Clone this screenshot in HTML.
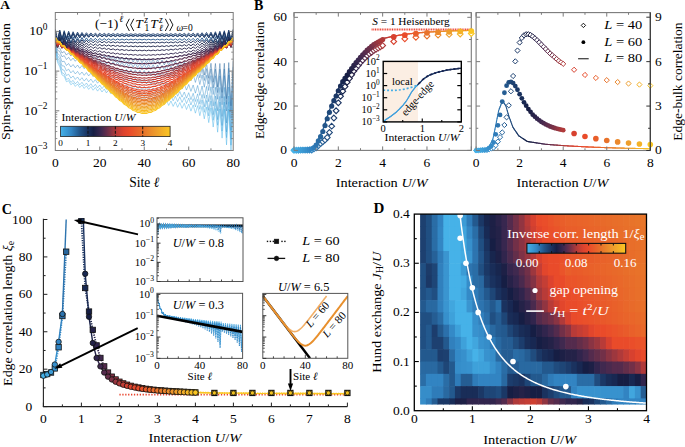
<!DOCTYPE html>
<html><head><meta charset="utf-8"><style>
html,body{margin:0;padding:0;background:#fff;width:685px;height:447px;overflow:hidden}
svg{display:block}
</style></head><body>
<svg width="685" height="447" viewBox="0 0 685 447">
<rect width="685" height="447" fill="#fff"/>
<clipPath id="clipA"><rect x="55.3" y="12.5" width="177.89999999999998" height="138.0"/></clipPath>
<clipPath id="clipD"><rect x="414.3" y="214.1" width="232.2" height="196.6"/></clipPath>
<clipPath id="clipB"><rect x="294" y="12.6" width="177.3" height="137.8"/></clipPath>
<clipPath id="clipBR"><rect x="476.1" y="12.6" width="174.2" height="137.9"/></clipPath>
<g clip-path="url(#clipA)">
<polyline points="55.3,51.42 57.52,62.46 59.75,66.68 61.97,74.95 64.19,76.13 66.42,81.7 68.64,80.7 70.87,84.82 73.09,82.83 75.31,86.43 77.54,84.06 79.76,87.52 81.98,85 84.21,88.47 86.43,85.85 88.66,89.36 90.88,86.67 93.1,90.25 95.33,87.48 97.55,91.13 99.77,88.28 102,92.01 104.22,89.09 106.45,92.9 108.67,89.89 110.89,93.78 113.12,90.69 115.34,94.67 117.56,91.49 119.79,95.56 122.01,92.28 124.24,96.45 126.46,93.08 128.68,97.35 130.91,93.88 133.13,98.25 135.35,94.67 137.58,99.14 139.8,95.46 142.03,100.04 144.25,96.25 146.47,100.95 148.7,97.04 150.92,101.85 153.14,97.83 155.37,102.76 157.59,98.62 159.82,103.66 162.04,99.41 164.26,104.57 166.49,100.19 168.71,105.48 170.94,100.98 173.16,106.4 175.38,101.76 177.61,107.31 179.83,102.54 182.05,108.29 184.28,103.33 186.5,109.53 188.72,104.1 190.95,111.13 193.17,104.88 195.4,113.17 197.62,105.65 199.84,115.72 202.07,106.41 204.29,118.85 206.51,107.15 208.74,122.61 210.96,107.85 213.19,127.04 215.41,108.49 217.63,132.2 219.86,108.99 222.08,138.13 224.3,109.24 226.53,144.88 228.75,109.03 230.98,152.47 233.2,108.04" fill="none" stroke="#46b2e8" stroke-width="0.55" stroke-linejoin="bevel" opacity="0.85"/>
<polyline points="55.3,49.19 57.52,60.26 59.75,64.49 61.97,72.75 64.19,73.91 66.42,79.44 68.64,78.38 70.87,82.43 73.09,80.37 75.31,83.9 77.54,81.46 79.76,84.86 81.98,82.26 84.21,85.66 86.43,82.97 88.66,86.42 90.88,83.65 93.1,87.16 95.33,84.33 97.55,87.91 99.77,84.99 102,88.65 104.22,85.66 106.45,89.4 108.67,86.32 110.89,90.15 113.12,86.99 115.34,90.9 117.56,87.65 119.79,91.65 122.01,88.31 124.24,92.41 126.46,88.96 128.68,93.16 130.91,89.62 133.13,93.92 135.35,90.28 137.58,94.68 139.8,90.93 142.03,95.45 144.25,91.58 146.47,96.21 148.7,92.24 150.92,96.98 153.14,92.89 155.37,97.74 157.59,93.54 159.82,98.51 162.04,94.19 164.26,99.28 166.49,94.83 168.71,100.06 170.94,95.48 173.16,100.83 175.38,96.13 177.61,101.61 179.83,96.77 182.05,102.45 184.28,97.42 186.5,103.55 188.72,98.06 190.95,105.01 193.17,98.7 195.4,106.91 197.62,99.33 199.84,109.33 202.07,99.95 204.29,112.32 206.51,100.55 208.74,115.94 210.96,101.12 213.19,120.24 215.41,101.61 217.63,125.26 219.86,101.98 222.08,131.05 224.3,102.09 226.53,137.66 228.75,101.74 230.98,145.11 233.2,100.62" fill="none" stroke="#41a6de" stroke-width="0.55" stroke-linejoin="bevel" opacity="0.85"/>
<polyline points="55.3,47.22 57.52,57.94 59.75,61.74 61.97,69.54 64.19,70.3 66.42,75.5 68.64,74.22 70.87,78.13 73.09,75.98 75.31,79.45 77.54,76.97 79.76,80.33 81.98,77.71 84.21,81.09 86.43,78.38 88.66,81.81 90.88,79.03 93.1,82.52 95.33,79.66 97.55,83.23 99.77,80.3 102,83.94 104.22,80.93 106.45,84.65 108.67,81.56 110.89,85.37 113.12,82.19 115.34,86.08 117.56,82.81 119.79,86.8 122.01,83.44 124.24,87.52 126.46,84.06 128.68,88.24 130.91,84.68 133.13,88.97 135.35,85.3 137.58,89.69 139.8,85.92 142.03,90.42 144.25,86.54 146.47,91.15 148.7,87.16 150.92,91.88 153.14,87.78 155.37,92.61 157.59,88.39 159.82,93.35 162.04,89.01 164.26,94.09 166.49,89.62 168.71,94.82 170.94,90.23 173.16,95.56 175.38,90.84 177.61,96.31 179.83,91.46 182.05,97.12 184.28,92.06 186.5,98.18 188.72,92.67 190.95,99.61 193.17,93.27 195.4,101.48 197.62,93.87 199.84,103.86 202.07,94.46 204.29,106.81 206.51,95.03 208.74,110.4 210.96,95.56 213.19,114.66 215.41,96.02 217.63,119.65 219.86,96.35 222.08,125.41 224.3,96.43 226.53,131.98 228.75,96.05 230.98,139.4 233.2,94.88" fill="none" stroke="#3c9bd5" stroke-width="0.55" stroke-linejoin="bevel" opacity="0.85"/>
<polyline points="55.3,45.45 57.52,55.61 59.75,58.73 61.97,65.85 64.19,66.01 66.42,70.77 68.64,69.18 70.87,72.88 73.09,70.59 75.31,73.95 77.54,71.39 79.76,74.69 81.98,72.01 84.21,75.33 86.43,72.57 88.66,75.94 90.88,73.11 93.1,76.55 95.33,73.64 97.55,77.16 99.77,74.17 102,77.76 104.22,74.7 106.45,78.37 108.67,75.23 110.89,78.98 113.12,75.75 115.34,79.6 117.56,76.28 119.79,80.21 122.01,76.8 124.24,80.83 126.46,77.32 128.68,81.45 130.91,77.84 133.13,82.07 135.35,78.36 137.58,82.69 139.8,78.87 142.03,83.32 144.25,79.39 146.47,83.95 148.7,79.9 150.92,84.57 153.14,80.42 155.37,85.2 157.59,80.93 159.82,85.84 162.04,81.44 164.26,86.47 166.49,81.95 168.71,87.11 170.94,82.46 173.16,87.74 175.38,82.97 177.61,88.38 179.83,83.48 182.05,89.09 184.28,83.98 186.5,90.05 188.72,84.49 190.95,91.37 193.17,84.99 195.4,93.14 197.62,85.48 199.84,95.42 202.07,85.97 204.29,98.27 206.51,86.43 208.74,101.75 210.96,86.86 213.19,105.91 215.41,87.22 217.63,110.8 219.86,87.45 222.08,116.45 224.3,87.42 226.53,122.92 228.75,86.94 230.98,130.24 233.2,85.67" fill="none" stroke="#3790cc" stroke-width="0.55" stroke-linejoin="bevel" opacity="0.85"/>
<polyline points="55.3,43.84 57.52,53.2 59.75,55.43 61.97,61.71 64.19,61.19 66.42,65.46 68.64,63.53 70.87,66.99 73.09,64.53 75.31,67.76 77.54,65.09 79.76,68.29 81.98,65.51 84.21,68.75 86.43,65.9 88.66,69.19 90.88,66.27 93.1,69.63 95.33,66.64 97.55,70.07 99.77,67.01 102,70.51 104.22,67.37 106.45,70.96 108.67,67.73 110.89,71.4 113.12,68.09 115.34,71.85 117.56,68.45 119.79,72.3 122.01,68.81 124.24,72.76 126.46,69.16 128.68,73.21 130.91,69.52 133.13,73.67 135.35,69.87 137.58,74.12 139.8,70.22 142.03,74.58 144.25,70.57 146.47,75.04 148.7,70.92 150.92,75.51 153.14,71.27 155.37,75.97 157.59,71.62 159.82,76.44 162.04,71.96 164.26,76.91 166.49,72.31 168.71,77.38 170.94,72.65 173.16,77.85 175.38,73 177.61,78.32 179.83,73.34 182.05,78.87 184.28,73.68 186.5,79.66 188.72,74.02 190.95,80.82 193.17,74.35 195.4,82.42 197.62,74.68 199.84,84.54 202.07,75 204.29,87.22 206.51,75.3 208.74,90.54 210.96,75.57 213.19,94.53 215.41,75.76 217.63,99.25 219.86,75.82 222.08,104.75 224.3,75.63 226.53,111.05 228.75,74.98 230.98,118.2 233.2,73.55" fill="none" stroke="#3284c2" stroke-width="0.55" stroke-linejoin="bevel" opacity="0.85"/>
<polyline points="55.3,42.02 57.52,50.25 59.75,51.38 61.97,56.76 64.19,55.61 66.42,59.47 68.64,57.3 70.87,60.62 73.09,58.08 75.31,61.27 77.54,58.57 79.76,61.76 81.98,58.98 84.21,62.2 86.43,59.35 88.66,62.64 90.88,59.72 93.1,63.08 95.33,60.08 97.55,63.51 99.77,60.44 102,63.95 104.22,60.8 106.45,64.39 108.67,61.16 110.89,64.83 113.12,61.52 115.34,65.28 117.56,61.87 119.79,65.72 122.01,62.22 124.24,66.17 126.46,62.58 128.68,66.62 130.91,62.93 133.13,67.07 135.35,63.28 137.58,67.53 139.8,63.62 142.03,67.98 144.25,63.97 146.47,68.44 148.7,64.32 150.92,68.9 153.14,64.66 155.37,69.36 157.59,65.01 159.82,69.83 162.04,65.35 164.26,70.29 166.49,65.69 168.71,70.76 170.94,66.03 173.16,71.23 175.38,66.37 177.61,71.7 179.83,66.71 182.05,72.24 184.28,67.05 186.5,73.03 188.72,67.38 190.95,74.18 193.17,67.71 195.4,75.78 197.62,68.04 199.84,77.89 202.07,68.35 204.29,80.57 206.51,68.65 208.74,83.88 210.96,68.91 213.19,87.88 215.41,69.1 217.63,92.59 219.86,69.16 222.08,98.08 224.3,68.96 226.53,104.38 228.75,68.31 230.98,111.52 233.2,66.88" fill="none" stroke="#2d74af" stroke-width="0.55" stroke-linejoin="bevel" opacity="0.85"/>
<polyline points="55.3,40.38 57.52,47.77 59.75,48.16 61.97,52.99 64.19,51.47 66.42,55.1 68.64,52.79 70.87,56.02 73.09,53.43 75.31,56.57 77.54,53.85 79.76,57.02 81.98,54.22 84.21,57.43 86.43,54.56 88.66,57.84 90.88,54.9 93.1,58.24 95.33,55.23 97.55,58.65 99.77,55.57 102,59.06 104.22,55.9 106.45,59.47 108.67,56.22 110.89,59.88 113.12,56.55 115.34,60.3 117.56,56.88 119.79,60.71 122.01,57.2 124.24,61.13 126.46,57.52 128.68,61.55 130.91,57.84 133.13,61.98 135.35,58.16 137.58,62.4 139.8,58.48 142.03,62.83 144.25,58.8 146.47,63.26 148.7,59.12 150.92,63.69 153.14,59.43 155.37,64.12 157.59,59.75 159.82,64.55 162.04,60.06 164.26,64.99 166.49,60.37 168.71,65.42 170.94,60.68 173.16,65.86 175.38,60.99 177.61,66.3 179.83,61.3 182.05,66.81 184.28,61.61 186.5,67.58 188.72,61.92 190.95,68.7 193.17,62.22 195.4,70.27 197.62,62.51 199.84,72.35 202.07,62.8 204.29,75 206.51,63.07 208.74,78.29 210.96,63.3 213.19,82.25 215.41,63.46 217.63,86.94 219.86,63.48 222.08,92.39 224.3,63.26 226.53,98.66 228.75,62.58 230.98,105.78 233.2,61.12" fill="none" stroke="#27659c" stroke-width="0.55" stroke-linejoin="bevel" opacity="0.85"/>
<polyline points="55.3,33.87 57.52,46.14 59.75,34.78 61.97,44.69 64.19,35.55 66.42,43.6 68.64,36.2 70.87,42.79 73.09,36.74 75.31,42.16 77.54,37.19 79.76,41.68 81.98,37.57 84.21,41.3 86.43,37.88 88.66,41.01 90.88,38.14 93.1,40.77 95.33,38.35 97.55,40.59 99.77,38.53 102,40.45 104.22,38.67 106.45,40.34 108.67,38.79 110.89,40.25 113.12,38.89 115.34,40.17 117.56,38.97 119.79,40.12 122.01,39.04 124.24,40.07 126.46,39.1 128.68,40.03 130.91,39.14 133.13,40 135.35,39.17 137.58,39.98 139.8,39.2 142.03,39.95 144.25,39.22 146.47,39.95 148.7,39.2 150.92,39.98 153.14,39.17 155.37,40 157.59,39.14 159.82,40.03 162.04,39.1 164.26,40.07 166.49,39.04 168.71,40.12 170.94,38.97 173.16,40.17 175.38,38.89 177.61,40.25 179.83,38.79 182.05,40.34 184.28,38.67 186.5,40.45 188.72,38.53 190.95,40.59 193.17,38.35 195.4,40.77 197.62,38.14 199.84,41.01 202.07,37.88 204.29,41.3 206.51,37.57 208.74,41.68 210.96,37.19 213.19,42.16 215.41,36.74 217.63,42.79 219.86,36.2 222.08,43.6 224.3,35.55 226.53,44.69 228.75,34.78 230.98,46.14 233.2,33.87" fill="none" stroke="#22558a" stroke-width="0.9" stroke-linejoin="bevel"/>
<polyline points="55.3,30.53 57.52,42.08 59.75,31.37 61.97,40.72 64.19,32.08 66.42,39.69 68.64,32.68 70.87,38.91 73.09,33.17 75.31,38.31 77.54,33.58 79.76,37.84 81.98,33.92 84.21,37.47 86.43,34.2 88.66,37.18 90.88,34.43 93.1,36.95 95.33,34.62 97.55,36.76 99.77,34.77 102,36.62 104.22,34.9 106.45,36.5 108.67,35 110.89,36.4 113.12,35.09 115.34,36.33 117.56,35.16 119.79,36.27 122.01,35.21 124.24,36.22 126.46,35.26 128.68,36.18 130.91,35.3 133.13,36.14 135.35,35.33 137.58,36.12 139.8,35.35 142.03,36.09 144.25,35.37 146.47,36.09 148.7,35.35 150.92,36.12 153.14,35.33 155.37,36.14 157.59,35.3 159.82,36.18 162.04,35.26 164.26,36.22 166.49,35.21 168.71,36.27 170.94,35.16 173.16,36.33 175.38,35.09 177.61,36.4 179.83,35 182.05,36.5 184.28,34.9 186.5,36.62 188.72,34.77 190.95,36.76 193.17,34.62 195.4,36.95 197.62,34.43 199.84,37.18 202.07,34.2 204.29,37.47 206.51,33.92 208.74,37.84 210.96,33.58 213.19,38.31 215.41,33.17 217.63,38.91 219.86,32.68 222.08,39.69 224.3,32.08 226.53,40.72 228.75,31.37 230.98,42.08 233.2,30.53" fill="none" stroke="#1f497b" stroke-width="0.9" stroke-linejoin="bevel"/>
<polyline points="55.3,29.25 57.52,40.1 59.75,30.05 61.97,38.85 64.19,30.73 66.42,37.91 68.64,31.29 70.87,37.19 73.09,31.76 75.31,36.63 77.54,32.15 79.76,36.19 81.98,32.47 84.21,35.85 86.43,32.73 88.66,35.57 90.88,32.95 93.1,35.36 95.33,33.13 97.55,35.19 99.77,33.27 102,35.05 104.22,33.39 106.45,34.94 108.67,33.49 110.89,34.85 113.12,33.57 115.34,34.78 117.56,33.64 119.79,34.72 122.01,33.69 124.24,34.67 126.46,33.74 128.68,34.63 130.91,33.77 133.13,34.6 135.35,33.8 137.58,34.58 139.8,33.82 142.03,34.56 144.25,33.84 146.47,34.56 148.7,33.82 150.92,34.58 153.14,33.8 155.37,34.6 157.59,33.77 159.82,34.63 162.04,33.74 164.26,34.67 166.49,33.69 168.71,34.72 170.94,33.64 173.16,34.78 175.38,33.57 177.61,34.85 179.83,33.49 182.05,34.94 184.28,33.39 186.5,35.05 188.72,33.27 190.95,35.19 193.17,33.13 195.4,35.36 197.62,32.95 199.84,35.57 202.07,32.73 204.29,35.85 206.51,32.47 208.74,36.19 210.96,32.15 213.19,36.63 215.41,31.76 217.63,37.19 219.86,31.29 222.08,37.91 224.3,30.73 226.53,38.85 228.75,30.05 230.98,40.1 233.2,29.25" fill="none" stroke="#1c3d6d" stroke-width="0.9" stroke-linejoin="bevel"/>
<polyline points="55.3,31.17 57.52,41.33 59.75,31.94 61.97,40.2 64.19,32.59 66.42,39.35 68.64,33.13 70.87,38.69 73.09,33.58 75.31,38.19 77.54,33.96 79.76,37.79 81.98,34.27 84.21,37.48 86.43,34.53 88.66,37.24 90.88,34.74 93.1,37.04 95.33,34.92 97.55,36.89 99.77,35.06 102,36.77 104.22,35.18 106.45,36.67 108.67,35.28 110.89,36.59 113.12,35.36 115.34,36.53 117.56,35.43 119.79,36.48 122.01,35.48 124.24,36.44 126.46,35.52 128.68,36.4 130.91,35.56 133.13,36.38 135.35,35.59 137.58,36.35 139.8,35.61 142.03,36.33 144.25,35.63 146.47,36.33 148.7,35.61 150.92,36.35 153.14,35.59 155.37,36.38 157.59,35.56 159.82,36.4 162.04,35.52 164.26,36.44 166.49,35.48 168.71,36.48 170.94,35.43 173.16,36.53 175.38,35.36 177.61,36.59 179.83,35.28 182.05,36.67 184.28,35.18 186.5,36.77 188.72,35.06 190.95,36.89 193.17,34.92 195.4,37.04 197.62,34.74 199.84,37.24 202.07,34.53 204.29,37.48 206.51,34.27 208.74,37.79 210.96,33.96 213.19,38.19 215.41,33.58 217.63,38.69 219.86,33.13 222.08,39.35 224.3,32.59 226.53,40.2 228.75,31.94 230.98,41.33 233.2,31.17" fill="none" stroke="#1a325f" stroke-width="0.9" stroke-linejoin="bevel"/>
<polyline points="55.3,35.71 57.52,45.3 59.75,36.66 61.97,44.49 64.19,37.49 66.42,43.92 68.64,38.2 70.87,43.52 73.09,38.82 75.31,43.24 77.54,39.35 79.76,43.06 81.98,39.82 84.21,42.94 86.43,40.22 88.66,42.87 90.88,40.57 93.1,42.83 95.33,40.88 97.55,42.83 99.77,41.14 102,42.83 104.22,41.37 106.45,42.86 108.67,41.57 110.89,42.88 113.12,41.74 115.34,42.91 117.56,41.88 119.79,42.94 122.01,42 124.24,42.96 126.46,42.1 128.68,42.98 130.91,42.18 133.13,42.99 135.35,42.23 137.58,43 139.8,42.28 142.03,42.99 144.25,42.3 146.47,42.99 148.7,42.28 150.92,43 153.14,42.23 155.37,42.99 157.59,42.18 159.82,42.98 162.04,42.1 164.26,42.96 166.49,42 168.71,42.94 170.94,41.88 173.16,42.91 175.38,41.74 177.61,42.88 179.83,41.57 182.05,42.86 184.28,41.37 186.5,42.83 188.72,41.14 190.95,42.83 193.17,40.88 195.4,42.83 197.62,40.57 199.84,42.87 202.07,40.22 204.29,42.94 206.51,39.82 208.74,43.06 210.96,39.35 213.19,43.24 215.41,38.82 217.63,43.52 219.86,38.2 222.08,43.92 224.3,37.49 226.53,44.49 228.75,36.66 230.98,45.3 233.2,35.71" fill="none" stroke="#182851" stroke-width="0.9" stroke-linejoin="bevel"/>
<polyline points="55.3,37.37 57.52,46.38 59.75,38.48 61.97,45.88 64.19,39.46 66.42,45.58 68.64,40.34 70.87,45.42 73.09,41.12 75.31,45.37 77.54,41.81 79.76,45.39 81.98,42.43 84.21,45.46 86.43,42.98 88.66,45.57 90.88,43.47 93.1,45.7 95.33,43.91 97.55,45.84 99.77,44.3 102,45.99 104.22,44.65 106.45,46.13 108.67,44.95 110.89,46.27 113.12,45.21 115.34,46.4 117.56,45.44 119.79,46.51 122.01,45.63 124.24,46.61 126.46,45.79 128.68,46.68 130.91,45.91 133.13,46.74 135.35,46.01 137.58,46.77 139.8,46.07 142.03,46.78 144.25,46.1 146.47,46.78 148.7,46.07 150.92,46.77 153.14,46.01 155.37,46.74 157.59,45.91 159.82,46.68 162.04,45.79 164.26,46.61 166.49,45.63 168.71,46.51 170.94,45.44 173.16,46.4 175.38,45.21 177.61,46.27 179.83,44.95 182.05,46.13 184.28,44.65 186.5,45.99 188.72,44.3 190.95,45.84 193.17,43.91 195.4,45.7 197.62,43.47 199.84,45.57 202.07,42.98 204.29,45.46 206.51,42.43 208.74,45.39 210.96,41.81 213.19,45.37 215.41,41.12 217.63,45.42 219.86,40.34 222.08,45.58 224.3,39.46 226.53,45.88 228.75,38.48 230.98,46.38 233.2,37.37" fill="none" stroke="#161e44" stroke-width="0.9" stroke-linejoin="bevel"/>
<polyline points="55.3,38.55 57.52,47.01 59.75,39.86 61.97,46.85 64.19,41.06 66.42,46.87 68.64,42.14 70.87,47 73.09,43.13 75.31,47.22 77.54,44.03 79.76,47.5 81.98,44.85 84.21,47.82 86.43,45.6 88.66,48.15 90.88,46.28 93.1,48.5 95.33,46.91 97.55,48.84 99.77,47.47 102,49.17 104.22,47.98 106.45,49.49 108.67,48.43 110.89,49.78 113.12,48.83 115.34,50.04 117.56,49.17 119.79,50.27 122.01,49.47 124.24,50.47 126.46,49.71 128.68,50.62 130.91,49.91 133.13,50.74 135.35,50.05 137.58,50.82 139.8,50.14 142.03,50.85 144.25,50.17 146.47,50.85 148.7,50.14 150.92,50.82 153.14,50.05 155.37,50.74 157.59,49.91 159.82,50.62 162.04,49.71 164.26,50.47 166.49,49.47 168.71,50.27 170.94,49.17 173.16,50.04 175.38,48.83 177.61,49.78 179.83,48.43 182.05,49.49 184.28,47.98 186.5,49.17 188.72,47.47 190.95,48.84 193.17,46.91 195.4,48.5 197.62,46.28 199.84,48.15 202.07,45.6 204.29,47.82 206.51,44.85 208.74,47.5 210.96,44.03 213.19,47.22 215.41,43.13 217.63,47 219.86,42.14 222.08,46.87 224.3,41.06 226.53,46.85 228.75,39.86 230.98,47.01 233.2,38.55" fill="none" stroke="#242248" stroke-width="0.9" stroke-linejoin="bevel"/>
<polyline points="55.3,39.37 57.52,47.31 59.75,40.93 61.97,47.53 64.19,42.37 66.42,47.9 68.64,43.71 70.87,48.38 73.09,44.95 75.31,48.92 77.54,46.11 79.76,49.51 81.98,47.19 84.21,50.12 86.43,48.19 88.66,50.74 90.88,49.12 93.1,51.35 95.33,49.98 97.55,51.95 99.77,50.78 102,52.52 104.22,51.5 106.45,53.06 108.67,52.16 110.89,53.56 113.12,52.74 115.34,54 117.56,53.25 119.79,54.4 122.01,53.69 124.24,54.73 126.46,54.06 128.68,55 130.91,54.35 133.13,55.21 135.35,54.56 137.58,55.34 139.8,54.69 142.03,55.4 144.25,54.74 146.47,55.4 148.7,54.69 150.92,55.34 153.14,54.56 155.37,55.21 157.59,54.35 159.82,55 162.04,54.06 164.26,54.73 166.49,53.69 168.71,54.4 170.94,53.25 173.16,54 175.38,52.74 177.61,53.56 179.83,52.16 182.05,53.06 184.28,51.5 186.5,52.52 188.72,50.78 190.95,51.95 193.17,49.98 195.4,51.35 197.62,49.12 199.84,50.74 202.07,48.19 204.29,50.12 206.51,47.19 208.74,49.51 210.96,46.11 213.19,48.92 215.41,44.95 217.63,48.38 219.86,43.71 222.08,47.9 224.3,42.37 226.53,47.53 228.75,40.93 230.98,47.31 233.2,39.37" fill="none" stroke="#31254d" stroke-width="0.9" stroke-linejoin="bevel"/>
<polyline points="55.3,39.85 57.52,47.26 59.75,41.63 61.97,47.84 64.19,43.31 66.42,48.56 68.64,44.88 70.87,49.35 73.09,46.37 75.31,50.21 77.54,47.78 79.76,51.1 81.98,49.11 84.21,52.01 86.43,50.37 88.66,52.91 90.88,51.55 93.1,53.8 95.33,52.66 97.55,54.67 99.77,53.7 102,55.5 104.22,54.66 106.45,56.28 108.67,55.53 110.89,57 113.12,56.32 115.34,57.65 117.56,57.02 119.79,58.22 122.01,57.63 124.24,58.72 126.46,58.13 128.68,59.12 130.91,58.53 133.13,59.42 135.35,58.82 137.58,59.62 139.8,59 142.03,59.72 144.25,59.07 146.47,59.72 148.7,59 150.92,59.62 153.14,58.82 155.37,59.42 157.59,58.53 159.82,59.12 162.04,58.13 164.26,58.72 166.49,57.63 168.71,58.22 170.94,57.02 173.16,57.65 175.38,56.32 177.61,57 179.83,55.53 182.05,56.28 184.28,54.66 186.5,55.5 188.72,53.7 190.95,54.67 193.17,52.66 195.4,53.8 197.62,51.55 199.84,52.91 202.07,50.37 204.29,52.01 206.51,49.11 208.74,51.1 210.96,47.78 213.19,50.21 215.41,46.37 217.63,49.35 219.86,44.88 222.08,48.56 224.3,43.31 226.53,47.84 228.75,41.63 230.98,47.26 233.2,39.85" fill="none" stroke="#40294f" stroke-width="1.1" stroke-linejoin="bevel"/>
<polyline points="55.3,40.15 57.52,47.02 59.75,42.14 61.97,47.95 64.19,44.03 66.42,48.99 68.64,45.83 70.87,50.1 73.09,47.56 75.31,51.26 77.54,49.21 79.76,52.45 81.98,50.79 84.21,53.65 86.43,52.3 88.66,54.84 90.88,53.74 93.1,56.01 95.33,55.1 97.55,57.15 99.77,56.39 102,58.24 104.22,57.59 106.45,59.28 108.67,58.7 110.89,60.24 113.12,59.72 115.34,61.11 117.56,60.62 119.79,61.89 122.01,61.4 124.24,62.55 126.46,62.06 128.68,63.1 130.91,62.59 133.13,63.52 135.35,62.97 137.58,63.79 139.8,63.21 142.03,63.93 144.25,63.3 146.47,63.93 148.7,63.21 150.92,63.79 153.14,62.97 155.37,63.52 157.59,62.59 159.82,63.1 162.04,62.06 164.26,62.55 166.49,61.4 168.71,61.89 170.94,60.62 173.16,61.11 175.38,59.72 177.61,60.24 179.83,58.7 182.05,59.28 184.28,57.59 186.5,58.24 188.72,56.39 190.95,57.15 193.17,55.1 195.4,56.01 197.62,53.74 199.84,54.84 202.07,52.3 204.29,53.65 206.51,50.79 208.74,52.45 210.96,49.21 213.19,51.26 215.41,47.56 217.63,50.1 219.86,45.83 222.08,48.99 224.3,44.03 226.53,47.95 228.75,42.14 230.98,47.02 233.2,40.15" fill="none" stroke="#542b4d" stroke-width="1.1" stroke-linejoin="bevel"/>
<polyline points="55.3,40.36 57.52,46.72 59.75,42.59 61.97,48.02 64.19,44.73 66.42,49.42 68.64,46.79 70.87,50.87 73.09,48.79 75.31,52.37 77.54,50.72 79.76,53.9 81.98,52.59 84.21,55.43 86.43,54.39 88.66,56.95 90.88,56.13 93.1,58.44 95.33,57.79 97.55,59.91 99.77,59.38 102,61.31 104.22,60.88 106.45,62.65 108.67,62.28 110.89,63.91 113.12,63.57 115.34,65.06 117.56,64.73 119.79,66.09 122.01,65.75 124.24,66.98 126.46,66.61 128.68,67.72 130.91,67.31 133.13,68.29 135.35,67.81 137.58,68.67 139.8,68.13 142.03,68.86 144.25,68.24 146.47,68.86 148.7,68.13 150.92,68.67 153.14,67.81 155.37,68.29 157.59,67.31 159.82,67.72 162.04,66.61 164.26,66.98 166.49,65.75 168.71,66.09 170.94,64.73 173.16,65.06 175.38,63.57 177.61,63.91 179.83,62.28 182.05,62.65 184.28,60.88 186.5,61.31 188.72,59.38 190.95,59.91 193.17,57.79 195.4,58.44 197.62,56.13 199.84,56.95 202.07,54.39 204.29,55.43 206.51,52.59 208.74,53.9 210.96,50.72 213.19,52.37 215.41,48.79 217.63,50.87 219.86,46.79 222.08,49.42 224.3,44.73 226.53,48.02 228.75,42.59 230.98,46.72 233.2,40.36" fill="none" stroke="#682e4a" stroke-width="1.1" stroke-linejoin="bevel"/>
<polyline points="55.3,40.5 57.52,46.31 59.75,42.91 61.97,47.94 64.19,45.25 66.42,49.64 68.64,47.53 70.87,51.4 73.09,49.74 75.31,53.19 77.54,51.91 79.76,55 81.98,54.01 84.21,56.81 86.43,56.06 88.66,58.62 90.88,58.06 93.1,60.4 95.33,59.98 97.55,62.14 99.77,61.83 102,63.83 104.22,63.59 106.45,65.44 108.67,65.25 110.89,66.96 113.12,66.79 115.34,68.37 117.56,68.19 119.79,69.64 122.01,69.44 124.24,70.75 126.46,70.49 128.68,71.67 130.91,71.35 133.13,72.38 135.35,71.98 137.58,72.86 139.8,72.36 142.03,73.1 144.25,72.5 146.47,73.1 148.7,72.36 150.92,72.86 153.14,71.98 155.37,72.38 157.59,71.35 159.82,71.67 162.04,70.49 164.26,70.75 166.49,69.44 168.71,69.64 170.94,68.19 173.16,68.37 175.38,66.79 177.61,66.96 179.83,65.25 182.05,65.44 184.28,63.59 186.5,63.83 188.72,61.83 190.95,62.14 193.17,59.98 195.4,60.4 197.62,58.06 199.84,58.62 202.07,56.06 204.29,56.81 206.51,54.01 208.74,55 210.96,51.91 213.19,53.19 215.41,49.74 217.63,51.4 219.86,47.53 222.08,49.64 224.3,45.25 226.53,47.94 228.75,42.91 230.98,46.31 233.2,40.5" fill="none" stroke="#7e3246" stroke-width="1.1" stroke-linejoin="bevel"/>
<polyline points="55.3,40.58 57.52,45.81 59.75,43.08 61.97,47.66 64.19,45.52 66.42,49.56 68.64,47.9 70.87,51.51 73.09,50.24 75.31,53.49 77.54,52.52 79.76,55.48 81.98,54.76 84.21,57.47 86.43,56.95 88.66,59.45 90.88,59.09 93.1,61.4 95.33,61.16 97.55,63.31 99.77,63.16 102,65.17 104.22,65.08 106.45,66.95 108.67,66.89 110.89,68.64 113.12,68.59 115.34,70.21 117.56,70.13 119.79,71.62 122.01,71.51 124.24,72.87 126.46,72.69 128.68,73.9 130.91,73.65 133.13,74.71 135.35,74.36 137.58,75.26 139.8,74.79 142.03,75.53 144.25,74.94 146.47,75.53 148.7,74.79 150.92,75.26 153.14,74.36 155.37,74.71 157.59,73.65 159.82,73.9 162.04,72.69 164.26,72.87 166.49,71.51 168.71,71.62 170.94,70.13 173.16,70.21 175.38,68.59 177.61,68.64 179.83,66.89 182.05,66.95 184.28,65.08 186.5,65.17 188.72,63.16 190.95,63.31 193.17,61.16 195.4,61.4 197.62,59.09 199.84,59.45 202.07,56.95 204.29,57.47 206.51,54.76 208.74,55.48 210.96,52.52 213.19,53.49 215.41,50.24 217.63,51.51 219.86,47.9 222.08,49.56 224.3,45.52 226.53,47.66 228.75,43.08 230.98,45.81 233.2,40.58" fill="none" stroke="#973640" stroke-width="1.1" stroke-linejoin="bevel"/>
<polyline points="55.3,40.66 57.52,45.32 59.75,43.27 61.97,47.4 64.19,45.82 66.42,49.53 68.64,48.33 70.87,51.69 73.09,50.8 75.31,53.87 77.54,53.23 79.76,56.05 81.98,55.62 84.21,58.24 86.43,57.96 88.66,60.41 90.88,60.26 93.1,62.55 95.33,62.5 97.55,64.66 99.77,64.68 102,66.71 104.22,66.77 106.45,68.68 108.67,68.76 110.89,70.56 113.12,70.63 115.34,72.31 117.56,72.35 119.79,73.9 122.01,73.89 124.24,75.3 126.46,75.22 128.68,76.48 130.91,76.3 133.13,77.39 135.35,77.1 137.58,78.02 139.8,77.59 142.03,78.34 144.25,77.76 146.47,78.34 148.7,77.59 150.92,78.02 153.14,77.1 155.37,77.39 157.59,76.3 159.82,76.48 162.04,75.22 164.26,75.3 166.49,73.89 168.71,73.9 170.94,72.35 173.16,72.31 175.38,70.63 177.61,70.56 179.83,68.76 182.05,68.68 184.28,66.77 186.5,66.71 188.72,64.68 190.95,64.66 193.17,62.5 195.4,62.55 197.62,60.26 199.84,60.41 202.07,57.96 204.29,58.24 206.51,55.62 208.74,56.05 210.96,53.23 213.19,53.87 215.41,50.8 217.63,51.69 219.86,48.33 222.08,49.53 224.3,45.82 226.53,47.4 228.75,43.27 230.98,45.32 233.2,40.66" fill="none" stroke="#b03a3a" stroke-width="1.1" stroke-linejoin="bevel"/>
<polyline points="55.3,40.75 57.52,44.81 59.75,43.42 61.97,47.09 64.19,46.05 66.42,49.4 68.64,48.65 70.87,51.74 73.09,51.21 75.31,54.08 77.54,53.75 79.76,56.42 81.98,56.25 84.21,58.76 86.43,58.71 88.66,61.09 90.88,61.14 93.1,63.39 95.33,63.51 97.55,65.65 99.77,65.82 102,67.85 104.22,68.05 106.45,69.97 108.67,70.18 110.89,72 113.12,72.19 115.34,73.9 117.56,74.05 119.79,75.63 122.01,75.72 124.24,77.16 126.46,77.16 128.68,78.46 130.91,78.34 133.13,79.47 135.35,79.22 137.58,80.16 139.8,79.76 142.03,80.51 144.25,79.95 146.47,80.51 148.7,79.76 150.92,80.16 153.14,79.22 155.37,79.47 157.59,78.34 159.82,78.46 162.04,77.16 164.26,77.16 166.49,75.72 168.71,75.63 170.94,74.05 173.16,73.9 175.38,72.19 177.61,72 179.83,70.18 182.05,69.97 184.28,68.05 186.5,67.85 188.72,65.82 190.95,65.65 193.17,63.51 195.4,63.39 197.62,61.14 199.84,61.09 202.07,58.71 204.29,58.76 206.51,56.25 208.74,56.42 210.96,53.75 213.19,54.08 215.41,51.21 217.63,51.74 219.86,48.65 222.08,49.4 224.3,46.05 226.53,47.09 228.75,43.42 230.98,44.81 233.2,40.75" fill="none" stroke="#c03d36" stroke-width="1.1" stroke-linejoin="bevel"/>
<polyline points="55.3,40.84 57.52,44.31 59.75,43.58 61.97,46.8 64.19,46.29 66.42,49.29 68.64,48.98 70.87,51.8 73.09,51.65 75.31,54.31 77.54,54.29 79.76,56.83 81.98,56.91 84.21,59.33 86.43,59.5 88.66,61.81 90.88,62.05 93.1,64.27 95.33,64.56 97.55,66.69 99.77,67.01 102,69.05 104.22,69.38 106.45,71.33 108.67,71.67 110.89,73.52 113.12,73.82 115.34,75.57 117.56,75.83 119.79,77.45 122.01,77.64 124.24,79.13 126.46,79.21 128.68,80.54 130.91,80.5 133.13,81.66 135.35,81.46 137.58,82.42 139.8,82.06 142.03,82.81 144.25,82.26 146.47,82.81 148.7,82.06 150.92,82.42 153.14,81.46 155.37,81.66 157.59,80.5 159.82,80.54 162.04,79.21 164.26,79.13 166.49,77.64 168.71,77.45 170.94,75.83 173.16,75.57 175.38,73.82 177.61,73.52 179.83,71.67 182.05,71.33 184.28,69.38 186.5,69.05 188.72,67.01 190.95,66.69 193.17,64.56 195.4,64.27 197.62,62.05 199.84,61.81 202.07,59.5 204.29,59.33 206.51,56.91 208.74,56.83 210.96,54.29 213.19,54.31 215.41,51.65 217.63,51.8 219.86,48.98 222.08,49.29 224.3,46.29 226.53,46.8 228.75,43.58 230.98,44.31 233.2,40.84" fill="none" stroke="#cf4031" stroke-width="1.1" stroke-linejoin="bevel"/>
<polyline points="55.3,40.93 57.52,43.82 59.75,43.74 61.97,46.51 64.19,46.55 66.42,49.2 68.64,49.33 70.87,51.89 73.09,52.11 75.31,54.58 77.54,54.87 79.76,57.26 81.98,57.61 84.21,59.93 86.43,60.33 88.66,62.58 90.88,63.02 93.1,65.2 95.33,65.66 97.55,67.78 99.77,68.26 102,70.31 104.22,70.79 106.45,72.76 108.67,73.22 110.89,75.11 113.12,75.54 115.34,77.33 117.56,77.7 119.79,79.37 122.01,79.66 124.24,81.19 126.46,81.37 128.68,82.75 130.91,82.78 133.13,83.97 135.35,83.83 137.58,84.82 139.8,84.49 142.03,85.25 144.25,84.71 146.47,85.25 148.7,84.49 150.92,84.82 153.14,83.83 155.37,83.97 157.59,82.78 159.82,82.75 162.04,81.37 164.26,81.19 166.49,79.66 168.71,79.37 170.94,77.7 173.16,77.33 175.38,75.54 177.61,75.11 179.83,73.22 182.05,72.76 184.28,70.79 186.5,70.31 188.72,68.26 190.95,67.78 193.17,65.66 195.4,65.2 197.62,63.02 199.84,62.58 202.07,60.33 204.29,59.93 206.51,57.61 208.74,57.26 210.96,54.87 213.19,54.58 215.41,52.11 217.63,51.89 219.86,49.33 222.08,49.2 224.3,46.55 226.53,46.51 228.75,43.74 230.98,43.82 233.2,40.93" fill="none" stroke="#dd432e" stroke-width="1.1" stroke-linejoin="bevel"/>
<polyline points="55.3,40.7 57.52,43.67 59.75,43.66 61.97,46.5 64.19,46.6 66.42,49.33 68.64,49.54 70.87,52.17 73.09,52.46 75.31,55 77.54,55.37 79.76,57.83 81.98,58.26 84.21,60.65 86.43,61.13 88.66,63.45 90.88,63.97 93.1,66.23 95.33,66.78 97.55,68.97 99.77,69.54 102,71.66 104.22,72.23 106.45,74.28 108.67,74.83 110.89,76.8 113.12,77.31 115.34,79.19 117.56,79.64 119.79,81.4 122.01,81.76 124.24,83.38 126.46,83.63 128.68,85.07 130.91,85.17 133.13,86.42 135.35,86.33 137.58,87.35 139.8,87.05 142.03,87.83 144.25,87.3 146.47,87.83 148.7,87.05 150.92,87.35 153.14,86.33 155.37,86.42 157.59,85.17 159.82,85.07 162.04,83.63 164.26,83.38 166.49,81.76 168.71,81.4 170.94,79.64 173.16,79.19 175.38,77.31 177.61,76.8 179.83,74.83 182.05,74.28 184.28,72.23 186.5,71.66 188.72,69.54 190.95,68.97 193.17,66.78 195.4,66.23 197.62,63.97 199.84,63.45 202.07,61.13 204.29,60.65 206.51,58.26 208.74,57.83 210.96,55.37 213.19,55 215.41,52.46 217.63,52.17 219.86,49.54 222.08,49.33 224.3,46.6 226.53,46.5 228.75,43.66 230.98,43.67 233.2,40.7" fill="none" stroke="#e3472c" stroke-width="1.1" stroke-linejoin="bevel"/>
<polyline points="55.3,40.47 57.52,43.51 59.75,43.58 61.97,46.49 64.19,46.67 66.42,49.48 68.64,49.76 70.87,52.47 73.09,52.84 75.31,55.46 77.54,55.9 79.76,58.44 81.98,58.95 84.21,61.42 86.43,61.98 88.66,64.38 90.88,64.98 93.1,67.32 95.33,67.95 97.55,70.23 99.77,70.88 102,73.09 104.22,73.74 106.45,75.88 108.67,76.52 110.89,78.58 113.12,79.18 115.34,81.14 117.56,81.68 119.79,83.53 122.01,83.98 124.24,85.68 126.46,86.01 128.68,87.53 130.91,87.69 133.13,89 135.35,88.96 137.58,90.03 139.8,89.76 142.03,90.56 144.25,90.03 146.47,90.56 148.7,89.76 150.92,90.03 153.14,88.96 155.37,89 157.59,87.69 159.82,87.53 162.04,86.01 164.26,85.68 166.49,83.98 168.71,83.53 170.94,81.68 173.16,81.14 175.38,79.18 177.61,78.58 179.83,76.52 182.05,75.88 184.28,73.74 186.5,73.09 188.72,70.88 190.95,70.23 193.17,67.95 195.4,67.32 197.62,64.98 199.84,64.38 202.07,61.98 204.29,61.42 206.51,58.95 208.74,58.44 210.96,55.9 213.19,55.46 215.41,52.84 217.63,52.47 219.86,49.76 222.08,49.48 224.3,46.67 226.53,46.49 228.75,43.58 230.98,43.51 233.2,40.47" fill="none" stroke="#e94b2a" stroke-width="1.1" stroke-linejoin="bevel"/>
<polyline points="55.3,40.24 57.52,43.33 59.75,43.44 61.97,46.41 64.19,46.64 66.42,49.49 68.64,49.82 70.87,52.57 73.09,52.99 75.31,55.66 77.54,56.15 79.76,58.74 81.98,59.3 84.21,61.82 86.43,62.43 88.66,64.88 90.88,65.54 93.1,67.93 95.33,68.61 97.55,70.94 99.77,71.64 102,73.91 104.22,74.61 106.45,76.81 108.67,77.5 110.89,79.62 113.12,80.28 115.34,82.3 117.56,82.89 119.79,84.79 122.01,85.3 124.24,87.05 126.46,87.43 128.68,89 130.91,89.21 133.13,90.56 135.35,90.56 137.58,91.65 139.8,91.4 142.03,92.21 144.25,91.69 146.47,92.21 148.7,91.4 150.92,91.65 153.14,90.56 155.37,90.56 157.59,89.21 159.82,89 162.04,87.43 164.26,87.05 166.49,85.3 168.71,84.79 170.94,82.89 173.16,82.3 175.38,80.28 177.61,79.62 179.83,77.5 182.05,76.81 184.28,74.61 186.5,73.91 188.72,71.64 190.95,70.94 193.17,68.61 195.4,67.93 197.62,65.54 199.84,64.88 202.07,62.43 204.29,61.82 206.51,59.3 208.74,58.74 210.96,56.15 213.19,55.66 215.41,52.99 217.63,52.57 219.86,49.82 222.08,49.49 224.3,46.64 226.53,46.41 228.75,43.44 230.98,43.33 233.2,40.24" fill="none" stroke="#ea522a" stroke-width="1.1" stroke-linejoin="bevel"/>
<polyline points="55.3,40.01 57.52,43.15 59.75,43.32 61.97,46.33 64.19,46.61 66.42,49.51 68.64,49.89 70.87,52.69 73.09,53.16 75.31,55.88 77.54,56.42 79.76,59.06 81.98,59.67 84.21,62.24 86.43,62.9 88.66,65.41 90.88,66.11 93.1,68.56 95.33,69.29 97.55,71.68 99.77,72.43 102,74.76 104.22,75.52 106.45,77.77 108.67,78.52 110.89,80.69 113.12,81.41 115.34,83.49 117.56,84.14 119.79,86.1 122.01,86.67 124.24,88.48 126.46,88.91 128.68,90.53 130.91,90.79 133.13,92.18 135.35,92.21 137.58,93.33 139.8,93.11 142.03,93.93 144.25,93.41 146.47,93.93 148.7,93.11 150.92,93.33 153.14,92.21 155.37,92.18 157.59,90.79 159.82,90.53 162.04,88.91 164.26,88.48 166.49,86.67 168.71,86.1 170.94,84.14 173.16,83.49 175.38,81.41 177.61,80.69 179.83,78.52 182.05,77.77 184.28,75.52 186.5,74.76 188.72,72.43 190.95,71.68 193.17,69.29 195.4,68.56 197.62,66.11 199.84,65.41 202.07,62.9 204.29,62.24 206.51,59.67 208.74,59.06 210.96,56.42 213.19,55.88 215.41,53.16 217.63,52.69 219.86,49.89 222.08,49.51 224.3,46.61 226.53,46.33 228.75,43.32 230.98,43.15 233.2,40.01" fill="none" stroke="#e95a2a" stroke-width="1.1" stroke-linejoin="bevel"/>
<polyline points="55.3,39.79 57.52,42.98 59.75,43.19 61.97,46.26 64.19,46.59 66.42,49.54 68.64,49.97 70.87,52.83 73.09,53.35 75.31,56.11 77.54,56.71 79.76,59.4 81.98,60.06 84.21,62.69 86.43,63.4 88.66,65.96 90.88,66.72 93.1,69.22 95.33,70.01 97.55,72.45 99.77,73.26 102,75.63 104.22,76.45 106.45,78.76 108.67,79.57 110.89,81.81 113.12,82.58 115.34,84.72 117.56,85.44 119.79,87.46 122.01,88.08 124.24,89.95 126.46,90.43 128.68,92.11 130.91,92.41 133.13,93.85 135.35,93.92 137.58,95.08 139.8,94.87 142.03,95.71 144.25,95.2 146.47,95.71 148.7,94.87 150.92,95.08 153.14,93.92 155.37,93.85 157.59,92.41 159.82,92.11 162.04,90.43 164.26,89.95 166.49,88.08 168.71,87.46 170.94,85.44 173.16,84.72 175.38,82.58 177.61,81.81 179.83,79.57 182.05,78.76 184.28,76.45 186.5,75.63 188.72,73.26 190.95,72.45 193.17,70.01 195.4,69.22 197.62,66.72 199.84,65.96 202.07,63.4 204.29,62.69 206.51,60.06 208.74,59.4 210.96,56.71 213.19,56.11 215.41,53.35 217.63,52.83 219.86,49.97 222.08,49.54 224.3,46.59 226.53,46.26 228.75,43.19 230.98,42.98 233.2,39.79" fill="none" stroke="#e9622a" stroke-width="1.1" stroke-linejoin="bevel"/>
<polyline points="55.3,39.57 57.52,42.81 59.75,43.07 61.97,46.19 64.19,46.57 66.42,49.58 68.64,50.06 70.87,52.97 73.09,53.54 75.31,56.36 77.54,57.01 79.76,59.76 81.98,60.47 84.21,63.15 86.43,63.92 88.66,66.53 90.88,67.34 93.1,69.9 95.33,70.74 97.55,73.24 99.77,74.11 102,76.55 104.22,77.42 106.45,79.79 108.67,80.66 110.89,82.95 113.12,83.79 115.34,85.99 117.56,86.77 119.79,88.85 122.01,89.54 124.24,91.47 126.46,92.01 128.68,93.74 130.91,94.1 133.13,95.58 135.35,95.7 137.58,96.88 139.8,96.7 142.03,97.56 144.25,97.05 146.47,97.56 148.7,96.7 150.92,96.88 153.14,95.7 155.37,95.58 157.59,94.1 159.82,93.74 162.04,92.01 164.26,91.47 166.49,89.54 168.71,88.85 170.94,86.77 173.16,85.99 175.38,83.79 177.61,82.95 179.83,80.66 182.05,79.79 184.28,77.42 186.5,76.55 188.72,74.11 190.95,73.24 193.17,70.74 195.4,69.9 197.62,67.34 199.84,66.53 202.07,63.92 204.29,63.15 206.51,60.47 208.74,59.76 210.96,57.01 213.19,56.36 215.41,53.54 217.63,52.97 219.86,50.06 222.08,49.58 224.3,46.57 226.53,46.19 228.75,43.07 230.98,42.81 233.2,39.57" fill="none" stroke="#e86a2a" stroke-width="1.1" stroke-linejoin="bevel"/>
<polyline points="55.3,39.35 57.52,42.64 59.75,42.96 61.97,46.13 64.19,46.57 66.42,49.63 68.64,50.17 70.87,53.13 73.09,53.76 75.31,56.63 77.54,57.33 79.76,60.14 81.98,60.9 84.21,63.64 86.43,64.46 88.66,67.13 90.88,68 93.1,70.61 95.33,71.51 97.55,74.07 99.77,74.99 102,77.49 104.22,78.43 106.45,80.86 108.67,81.79 110.89,84.14 113.12,85.04 115.34,87.31 117.56,88.15 119.79,90.3 122.01,91.05 124.24,93.04 126.46,93.64 128.68,95.43 130.91,95.84 133.13,97.38 135.35,97.53 137.58,98.75 139.8,98.6 142.03,99.47 144.25,98.97 146.47,99.47 148.7,98.6 150.92,98.75 153.14,97.53 155.37,97.38 157.59,95.84 159.82,95.43 162.04,93.64 164.26,93.04 166.49,91.05 168.71,90.3 170.94,88.15 173.16,87.31 175.38,85.04 177.61,84.14 179.83,81.79 182.05,80.86 184.28,78.43 186.5,77.49 188.72,74.99 190.95,74.07 193.17,71.51 195.4,70.61 197.62,68 199.84,67.13 202.07,64.46 204.29,63.64 206.51,60.9 208.74,60.14 210.96,57.33 213.19,56.63 215.41,53.76 217.63,53.13 219.86,50.17 222.08,49.63 224.3,46.57 226.53,46.13 228.75,42.96 230.98,42.64 233.2,39.35" fill="none" stroke="#e8722a" stroke-width="1.1" stroke-linejoin="bevel"/>
<polyline points="55.3,39.13 57.52,42.47 59.75,42.82 61.97,46.03 64.19,46.51 66.42,49.61 68.64,50.19 70.87,53.19 73.09,53.85 75.31,56.77 77.54,57.51 79.76,60.35 81.98,61.16 84.21,63.93 86.43,64.8 88.66,67.51 90.88,68.42 93.1,71.07 95.33,72.02 97.55,74.61 99.77,75.58 102,78.12 104.22,79.1 106.45,81.58 108.67,82.55 110.89,84.95 113.12,85.9 115.34,88.21 117.56,89.1 119.79,91.29 122.01,92.09 124.24,94.12 126.46,94.78 128.68,96.61 130.91,97.06 133.13,98.63 135.35,98.82 137.58,100.06 139.8,99.93 142.03,100.81 144.25,100.31 146.47,100.81 148.7,99.93 150.92,100.06 153.14,98.82 155.37,98.63 157.59,97.06 159.82,96.61 162.04,94.78 164.26,94.12 166.49,92.09 168.71,91.29 170.94,89.1 173.16,88.21 175.38,85.9 177.61,84.95 179.83,82.55 182.05,81.58 184.28,79.1 186.5,78.12 188.72,75.58 190.95,74.61 193.17,72.02 195.4,71.07 197.62,68.42 199.84,67.51 202.07,64.8 204.29,63.93 206.51,61.16 208.74,60.35 210.96,57.51 213.19,56.77 215.41,53.85 217.63,53.19 219.86,50.19 222.08,49.61 224.3,46.51 226.53,46.03 228.75,42.82 230.98,42.47 233.2,39.13" fill="none" stroke="#e97b2a" stroke-width="1.1" stroke-linejoin="bevel"/>
<polyline points="55.3,38.92 57.52,42.29 59.75,42.69 61.97,45.94 64.19,46.46 66.42,49.59 68.64,50.21 70.87,53.25 73.09,53.96 75.31,56.92 77.54,57.7 79.76,60.58 81.98,61.43 84.21,64.25 86.43,65.15 88.66,67.9 90.88,68.85 93.1,71.55 95.33,72.54 97.55,75.18 99.77,76.19 102,78.77 104.22,79.8 106.45,82.32 108.67,83.34 110.89,85.78 113.12,86.78 115.34,89.14 117.56,90.07 119.79,92.31 122.01,93.16 124.24,95.24 126.46,95.94 128.68,97.81 130.91,98.31 133.13,99.91 135.35,100.13 137.58,101.41 139.8,101.3 142.03,102.19 144.25,101.7 146.47,102.19 148.7,101.3 150.92,101.41 153.14,100.13 155.37,99.91 157.59,98.31 159.82,97.81 162.04,95.94 164.26,95.24 166.49,93.16 168.71,92.31 170.94,90.07 173.16,89.14 175.38,86.78 177.61,85.78 179.83,83.34 182.05,82.32 184.28,79.8 186.5,78.77 188.72,76.19 190.95,75.18 193.17,72.54 195.4,71.55 197.62,68.85 199.84,67.9 202.07,65.15 204.29,64.25 206.51,61.43 208.74,60.58 210.96,57.7 213.19,56.92 215.41,53.96 217.63,53.25 219.86,50.21 222.08,49.59 224.3,46.46 226.53,45.94 228.75,42.69 230.98,42.29 233.2,38.92" fill="none" stroke="#ea842b" stroke-width="1.1" stroke-linejoin="bevel"/>
<polyline points="55.3,38.71 57.52,42.12 59.75,42.56 61.97,45.85 64.19,46.41 66.42,49.59 68.64,50.25 70.87,53.33 73.09,54.08 75.31,57.08 77.54,57.9 79.76,60.82 81.98,61.71 84.21,64.57 86.43,65.52 88.66,68.31 90.88,69.31 93.1,72.04 95.33,73.07 97.55,75.76 99.77,76.81 102,79.44 104.22,80.51 106.45,83.08 108.67,84.14 110.89,86.64 113.12,87.68 115.34,90.08 117.56,91.07 119.79,93.36 122.01,94.25 124.24,96.38 126.46,97.13 128.68,99.05 130.91,99.59 133.13,101.23 135.35,101.49 137.58,102.79 139.8,102.7 142.03,103.61 144.25,103.12 146.47,103.61 148.7,102.7 150.92,102.79 153.14,101.49 155.37,101.23 157.59,99.59 159.82,99.05 162.04,97.13 164.26,96.38 166.49,94.25 168.71,93.36 170.94,91.07 173.16,90.08 175.38,87.68 177.61,86.64 179.83,84.14 182.05,83.08 184.28,80.51 186.5,79.44 188.72,76.81 190.95,75.76 193.17,73.07 195.4,72.04 197.62,69.31 199.84,68.31 202.07,65.52 204.29,64.57 206.51,61.71 208.74,60.82 210.96,57.9 213.19,57.08 215.41,54.08 217.63,53.33 219.86,50.25 222.08,49.59 224.3,46.41 226.53,45.85 228.75,42.56 230.98,42.12 233.2,38.71" fill="none" stroke="#eb8d2b" stroke-width="1.1" stroke-linejoin="bevel"/>
<polyline points="55.3,38.5 57.52,41.95 59.75,42.43 61.97,45.77 64.19,46.37 66.42,49.59 68.64,50.29 70.87,53.41 73.09,54.2 75.31,57.24 77.54,58.11 79.76,61.08 81.98,62.01 84.21,64.91 86.43,65.9 88.66,68.74 90.88,69.77 93.1,72.56 95.33,73.63 97.55,76.36 99.77,77.46 102,80.13 104.22,81.25 106.45,83.86 108.67,84.97 110.89,87.51 113.12,88.6 115.34,91.06 117.56,92.09 119.79,94.43 122.01,95.38 124.24,97.56 126.46,98.35 128.68,100.32 130.91,100.9 133.13,102.59 135.35,102.88 137.58,104.21 139.8,104.14 142.03,105.06 144.25,104.58 146.47,105.06 148.7,104.14 150.92,104.21 153.14,102.88 155.37,102.59 157.59,100.9 159.82,100.32 162.04,98.35 164.26,97.56 166.49,95.38 168.71,94.43 170.94,92.09 173.16,91.06 175.38,88.6 177.61,87.51 179.83,84.97 182.05,83.86 184.28,81.25 186.5,80.13 188.72,77.46 190.95,76.36 193.17,73.63 195.4,72.56 197.62,69.77 199.84,68.74 202.07,65.9 204.29,64.91 206.51,62.01 208.74,61.08 210.96,58.11 213.19,57.24 215.41,54.2 217.63,53.41 219.86,50.29 222.08,49.59 224.3,46.37 226.53,45.77 228.75,42.43 230.98,41.95 233.2,38.5" fill="none" stroke="#ed952c" stroke-width="1.1" stroke-linejoin="bevel"/>
<polyline points="55.3,38.29 57.52,41.79 59.75,42.31 61.97,45.69 64.19,46.33 66.42,49.59 68.64,50.34 70.87,53.51 73.09,54.34 75.31,57.42 77.54,58.33 79.76,61.34 81.98,62.32 84.21,65.26 86.43,66.3 88.66,69.18 90.88,70.26 93.1,73.08 95.33,74.2 97.55,76.98 99.77,78.12 102,80.84 104.22,82 106.45,84.66 108.67,85.82 110.89,88.41 113.12,89.55 115.34,92.06 117.56,93.14 119.79,95.54 122.01,96.53 124.24,98.76 126.46,99.61 128.68,101.62 130.91,102.25 133.13,103.98 135.35,104.31 137.58,105.67 139.8,105.62 142.03,106.56 144.25,106.08 146.47,106.56 148.7,105.62 150.92,105.67 153.14,104.31 155.37,103.98 157.59,102.25 159.82,101.62 162.04,99.61 164.26,98.76 166.49,96.53 168.71,95.54 170.94,93.14 173.16,92.06 175.38,89.55 177.61,88.41 179.83,85.82 182.05,84.66 184.28,82 186.5,80.84 188.72,78.12 190.95,76.98 193.17,74.2 195.4,73.08 197.62,70.26 199.84,69.18 202.07,66.3 204.29,65.26 206.51,62.32 208.74,61.34 210.96,58.33 213.19,57.42 215.41,54.34 217.63,53.51 219.86,50.34 222.08,49.59 224.3,46.33 226.53,45.69 228.75,42.31 230.98,41.79 233.2,38.29" fill="none" stroke="#ee9e2c" stroke-width="1.1" stroke-linejoin="bevel"/>
<polyline points="55.3,38.08 57.52,41.62 59.75,42.19 61.97,45.6 64.19,46.28 66.42,49.58 68.64,50.37 70.87,53.57 73.09,54.45 75.31,57.57 77.54,58.52 79.76,61.56 81.98,62.58 84.21,65.56 86.43,66.64 88.66,69.56 90.88,70.68 93.1,73.54 95.33,74.7 97.55,77.52 99.77,78.7 102,81.46 104.22,82.67 106.45,85.37 108.67,86.57 110.89,89.21 113.12,90.39 115.34,92.94 117.56,94.07 119.79,96.51 122.01,97.55 124.24,99.83 126.46,100.72 128.68,102.78 130.91,103.45 133.13,105.22 135.35,105.58 137.58,106.97 139.8,106.94 142.03,107.89 144.25,107.42 146.47,107.89 148.7,106.94 150.92,106.97 153.14,105.58 155.37,105.22 157.59,103.45 159.82,102.78 162.04,100.72 164.26,99.83 166.49,97.55 168.71,96.51 170.94,94.07 173.16,92.94 175.38,90.39 177.61,89.21 179.83,86.57 182.05,85.37 184.28,82.67 186.5,81.46 188.72,78.7 190.95,77.52 193.17,74.7 195.4,73.54 197.62,70.68 199.84,69.56 202.07,66.64 204.29,65.56 206.51,62.58 208.74,61.56 210.96,58.52 213.19,57.57 215.41,54.45 217.63,53.57 219.86,50.37 222.08,49.58 224.3,46.28 226.53,45.6 228.75,42.19 230.98,41.62 233.2,38.08" fill="none" stroke="#f0a62a" stroke-width="1.1" stroke-linejoin="bevel"/>
<polyline points="55.3,37.88 57.52,41.46 59.75,42.06 61.97,45.52 64.19,46.24 66.42,49.58 68.64,50.4 70.87,53.65 73.09,54.56 75.31,57.72 77.54,58.71 79.76,61.8 81.98,62.85 84.21,65.87 86.43,66.99 88.66,69.95 90.88,71.11 93.1,74.02 95.33,75.22 97.55,78.07 99.77,79.3 102,82.1 104.22,83.35 106.45,86.1 108.67,87.34 110.89,90.02 113.12,91.25 115.34,93.85 117.56,95.03 119.79,97.51 122.01,98.6 124.24,100.92 126.46,101.86 128.68,103.97 130.91,104.68 133.13,106.48 135.35,106.88 137.58,108.3 139.8,108.3 142.03,109.26 144.25,108.79 146.47,109.26 148.7,108.3 150.92,108.3 153.14,106.88 155.37,106.48 157.59,104.68 159.82,103.97 162.04,101.86 164.26,100.92 166.49,98.6 168.71,97.51 170.94,95.03 173.16,93.85 175.38,91.25 177.61,90.02 179.83,87.34 182.05,86.1 184.28,83.35 186.5,82.1 188.72,79.3 190.95,78.07 193.17,75.22 195.4,74.02 197.62,71.11 199.84,69.95 202.07,66.99 204.29,65.87 206.51,62.85 208.74,61.8 210.96,58.71 213.19,57.72 215.41,54.56 217.63,53.65 219.86,50.4 222.08,49.58 224.3,46.24 226.53,45.52 228.75,42.06 230.98,41.46 233.2,37.88" fill="none" stroke="#f2ae28" stroke-width="1.1" stroke-linejoin="bevel"/>
<polyline points="55.3,37.68 57.52,41.3 59.75,41.94 61.97,45.44 64.19,46.2 66.42,49.58 68.64,50.44 70.87,53.73 73.09,54.68 75.31,57.88 77.54,58.91 79.76,62.04 81.98,63.14 84.21,66.2 86.43,67.35 88.66,70.36 90.88,71.56 93.1,74.51 95.33,75.75 97.55,78.65 99.77,79.92 102,82.76 104.22,84.05 106.45,86.84 108.67,88.13 110.89,90.86 113.12,92.13 115.34,94.77 117.56,96 119.79,98.53 122.01,99.67 124.24,102.04 126.46,103.02 128.68,105.18 130.91,105.93 133.13,107.78 135.35,108.21 137.58,109.67 139.8,109.68 142.03,110.66 144.25,110.19 146.47,110.66 148.7,109.68 150.92,109.67 153.14,108.21 155.37,107.78 157.59,105.93 159.82,105.18 162.04,103.02 164.26,102.04 166.49,99.67 168.71,98.53 170.94,96 173.16,94.77 175.38,92.13 177.61,90.86 179.83,88.13 182.05,86.84 184.28,84.05 186.5,82.76 188.72,79.92 190.95,78.65 193.17,75.75 195.4,74.51 197.62,71.56 199.84,70.36 202.07,67.35 204.29,66.2 206.51,63.14 208.74,62.04 210.96,58.91 213.19,57.88 215.41,54.68 217.63,53.73 219.86,50.44 222.08,49.58 224.3,46.2 226.53,45.44 228.75,41.94 230.98,41.3 233.2,37.68" fill="none" stroke="#f5b626" stroke-width="1.1" stroke-linejoin="bevel"/>
<polyline points="55.3,37.49 57.52,41.14 59.75,41.83 61.97,45.36 64.19,46.16 66.42,49.59 68.64,50.49 70.87,53.82 73.09,54.81 75.31,58.06 77.54,59.13 79.76,62.3 81.98,63.43 84.21,66.54 86.43,67.73 88.66,70.78 90.88,72.02 93.1,75.01 95.33,76.3 97.55,79.24 99.77,80.55 102,83.44 104.22,84.77 106.45,87.61 108.67,88.94 110.89,91.71 113.12,93.03 115.34,95.72 117.56,97 119.79,99.58 122.01,100.76 124.24,103.18 126.46,104.22 128.68,106.42 130.91,107.22 133.13,109.11 135.35,109.58 137.58,111.06 139.8,111.1 142.03,112.09 144.25,111.63 146.47,112.09 148.7,111.1 150.92,111.06 153.14,109.58 155.37,109.11 157.59,107.22 159.82,106.42 162.04,104.22 164.26,103.18 166.49,100.76 168.71,99.58 170.94,97 173.16,95.72 175.38,93.03 177.61,91.71 179.83,88.94 182.05,87.61 184.28,84.77 186.5,83.44 188.72,80.55 190.95,79.24 193.17,76.3 195.4,75.01 197.62,72.02 199.84,70.78 202.07,67.73 204.29,66.54 206.51,63.43 208.74,62.3 210.96,59.13 213.19,58.06 215.41,54.81 217.63,53.82 219.86,50.49 222.08,49.59 224.3,46.16 226.53,45.36 228.75,41.83 230.98,41.14 233.2,37.49" fill="none" stroke="#f8be24" stroke-width="1.1" stroke-linejoin="bevel"/>
<polyline points="55.3,37.29 57.52,40.99 59.75,41.72 61.97,45.29 64.19,46.13 66.42,49.6 68.64,50.55 70.87,53.92 73.09,54.95 75.31,58.24 77.54,59.35 79.76,62.56 81.98,63.74 84.21,66.89 86.43,68.12 88.66,71.21 90.88,72.5 93.1,75.53 95.33,76.86 97.55,79.84 99.77,81.2 102,84.13 104.22,85.51 106.45,88.39 108.67,89.77 110.89,92.59 113.12,93.96 115.34,96.69 117.56,98.02 119.79,100.64 122.01,101.88 124.24,104.35 126.46,105.43 128.68,107.68 130.91,108.53 133.13,110.46 135.35,110.97 137.58,112.49 139.8,112.55 142.03,113.56 144.25,113.11 146.47,113.56 148.7,112.55 150.92,112.49 153.14,110.97 155.37,110.46 157.59,108.53 159.82,107.68 162.04,105.43 164.26,104.35 166.49,101.88 168.71,100.64 170.94,98.02 173.16,96.69 175.38,93.96 177.61,92.59 179.83,89.77 182.05,88.39 184.28,85.51 186.5,84.13 188.72,81.2 190.95,79.84 193.17,76.86 195.4,75.53 197.62,72.5 199.84,71.21 202.07,68.12 204.29,66.89 206.51,63.74 208.74,62.56 210.96,59.35 213.19,58.24 215.41,54.95 217.63,53.92 219.86,50.55 222.08,49.6 224.3,46.13 226.53,45.29 228.75,41.72 230.98,40.99 233.2,37.29" fill="none" stroke="#fac622" stroke-width="1.1" stroke-linejoin="bevel"/>
</g>
<defs><linearGradient id="gA" x1="0" x2="1" y1="0" y2="0"><stop offset="0.000" stop-color="#46b2e8"/><stop offset="0.025" stop-color="#41a6de"/><stop offset="0.050" stop-color="#3c9bd5"/><stop offset="0.075" stop-color="#3790cc"/><stop offset="0.100" stop-color="#3284c2"/><stop offset="0.125" stop-color="#2d74af"/><stop offset="0.150" stop-color="#27659c"/><stop offset="0.175" stop-color="#22558a"/><stop offset="0.200" stop-color="#1f497b"/><stop offset="0.225" stop-color="#1c3d6d"/><stop offset="0.250" stop-color="#1a325f"/><stop offset="0.275" stop-color="#182851"/><stop offset="0.300" stop-color="#161e44"/><stop offset="0.325" stop-color="#242248"/><stop offset="0.350" stop-color="#31254d"/><stop offset="0.375" stop-color="#40294f"/><stop offset="0.400" stop-color="#542b4d"/><stop offset="0.425" stop-color="#682e4a"/><stop offset="0.450" stop-color="#7e3246"/><stop offset="0.475" stop-color="#973640"/><stop offset="0.500" stop-color="#b03a3a"/><stop offset="0.525" stop-color="#c03d36"/><stop offset="0.550" stop-color="#cf4031"/><stop offset="0.575" stop-color="#dd432e"/><stop offset="0.600" stop-color="#e3472c"/><stop offset="0.625" stop-color="#e94b2a"/><stop offset="0.650" stop-color="#ea522a"/><stop offset="0.675" stop-color="#e95a2a"/><stop offset="0.700" stop-color="#e9622a"/><stop offset="0.725" stop-color="#e86a2a"/><stop offset="0.750" stop-color="#e8722a"/><stop offset="0.775" stop-color="#e97b2a"/><stop offset="0.800" stop-color="#ea842b"/><stop offset="0.825" stop-color="#eb8d2b"/><stop offset="0.850" stop-color="#ed952c"/><stop offset="0.875" stop-color="#ee9e2c"/><stop offset="0.900" stop-color="#f0a62a"/><stop offset="0.925" stop-color="#f2ae28"/><stop offset="0.950" stop-color="#f5b626"/><stop offset="0.975" stop-color="#f8be24"/><stop offset="1.000" stop-color="#fac622"/></linearGradient></defs>
<rect x="60.6" y="126.3" width="109.5" height="10.3" fill="url(#gA)" stroke="#222" stroke-width="0.8" />
<line x1="87.97" y1="126.3" x2="87.97" y2="136.6" stroke="#111" stroke-width="1.0" stroke-dasharray="3 1.5"/>
<line x1="115.35" y1="126.3" x2="115.35" y2="136.6" stroke="#111" stroke-width="1.0" stroke-dasharray="3 1.5"/>
<line x1="142.72" y1="126.3" x2="142.72" y2="136.6" stroke="#111" stroke-width="1.0" stroke-dasharray="3 1.5"/>
<text x="60.6" y="145.6" font-family="Liberation Serif" font-size="9.2" fill="#000" text-anchor="middle" >0</text>
<text x="87.97" y="145.6" font-family="Liberation Serif" font-size="9.2" fill="#000" text-anchor="middle" >1</text>
<text x="115.35" y="145.6" font-family="Liberation Serif" font-size="9.2" fill="#000" text-anchor="middle" >2</text>
<text x="142.72" y="145.6" font-family="Liberation Serif" font-size="9.2" fill="#000" text-anchor="middle" >3</text>
<text x="170.1" y="145.6" font-family="Liberation Serif" font-size="9.2" fill="#000" text-anchor="middle" >4</text>
<text x="61.5" y="120.8" font-family="Liberation Serif" font-size="10" fill="#000" text-anchor="start" textLength="74" lengthAdjust="spacingAndGlyphs" >Interaction <tspan font-style="italic">U</tspan>/<tspan font-style="italic">W</tspan></text>
<rect x="55.3" y="12.5" width="177.9" height="138" fill="none" stroke="#7a7a7a" stroke-width="1" />
<line x1="77.54" y1="150.5" x2="77.54" y2="148.3" stroke="#7a7a7a" stroke-width="1" />
<line x1="77.54" y1="12.5" x2="77.54" y2="14.7" stroke="#7a7a7a" stroke-width="1" />
<line x1="99.77" y1="150.5" x2="99.77" y2="146.5" stroke="#7a7a7a" stroke-width="1" />
<line x1="99.77" y1="12.5" x2="99.77" y2="16.5" stroke="#7a7a7a" stroke-width="1" />
<line x1="122.01" y1="150.5" x2="122.01" y2="148.3" stroke="#7a7a7a" stroke-width="1" />
<line x1="122.01" y1="12.5" x2="122.01" y2="14.7" stroke="#7a7a7a" stroke-width="1" />
<line x1="144.25" y1="150.5" x2="144.25" y2="146.5" stroke="#7a7a7a" stroke-width="1" />
<line x1="144.25" y1="12.5" x2="144.25" y2="16.5" stroke="#7a7a7a" stroke-width="1" />
<line x1="166.49" y1="150.5" x2="166.49" y2="148.3" stroke="#7a7a7a" stroke-width="1" />
<line x1="166.49" y1="12.5" x2="166.49" y2="14.7" stroke="#7a7a7a" stroke-width="1" />
<line x1="188.72" y1="150.5" x2="188.72" y2="146.5" stroke="#7a7a7a" stroke-width="1" />
<line x1="188.72" y1="12.5" x2="188.72" y2="16.5" stroke="#7a7a7a" stroke-width="1" />
<line x1="210.96" y1="150.5" x2="210.96" y2="148.3" stroke="#7a7a7a" stroke-width="1" />
<line x1="210.96" y1="12.5" x2="210.96" y2="14.7" stroke="#7a7a7a" stroke-width="1" />
<line x1="55.3" y1="150.5" x2="59.3" y2="150.5" stroke="#7a7a7a" stroke-width="1" />
<line x1="233.2" y1="150.5" x2="229.2" y2="150.5" stroke="#7a7a7a" stroke-width="1" />
<line x1="55.3" y1="138.55" x2="57.3" y2="138.55" stroke="#7a7a7a" stroke-width="0.8" />
<line x1="233.2" y1="138.55" x2="231.2" y2="138.55" stroke="#7a7a7a" stroke-width="0.8" />
<line x1="55.3" y1="131.56" x2="57.3" y2="131.56" stroke="#7a7a7a" stroke-width="0.8" />
<line x1="233.2" y1="131.56" x2="231.2" y2="131.56" stroke="#7a7a7a" stroke-width="0.8" />
<line x1="55.3" y1="126.6" x2="57.3" y2="126.6" stroke="#7a7a7a" stroke-width="0.8" />
<line x1="233.2" y1="126.6" x2="231.2" y2="126.6" stroke="#7a7a7a" stroke-width="0.8" />
<line x1="55.3" y1="122.75" x2="57.3" y2="122.75" stroke="#7a7a7a" stroke-width="0.8" />
<line x1="233.2" y1="122.75" x2="231.2" y2="122.75" stroke="#7a7a7a" stroke-width="0.8" />
<line x1="55.3" y1="119.61" x2="57.3" y2="119.61" stroke="#7a7a7a" stroke-width="0.8" />
<line x1="233.2" y1="119.61" x2="231.2" y2="119.61" stroke="#7a7a7a" stroke-width="0.8" />
<line x1="55.3" y1="116.95" x2="57.3" y2="116.95" stroke="#7a7a7a" stroke-width="0.8" />
<line x1="233.2" y1="116.95" x2="231.2" y2="116.95" stroke="#7a7a7a" stroke-width="0.8" />
<line x1="55.3" y1="114.65" x2="57.3" y2="114.65" stroke="#7a7a7a" stroke-width="0.8" />
<line x1="233.2" y1="114.65" x2="231.2" y2="114.65" stroke="#7a7a7a" stroke-width="0.8" />
<line x1="55.3" y1="112.62" x2="57.3" y2="112.62" stroke="#7a7a7a" stroke-width="0.8" />
<line x1="233.2" y1="112.62" x2="231.2" y2="112.62" stroke="#7a7a7a" stroke-width="0.8" />
<line x1="55.3" y1="110.8" x2="59.3" y2="110.8" stroke="#7a7a7a" stroke-width="1" />
<line x1="233.2" y1="110.8" x2="229.2" y2="110.8" stroke="#7a7a7a" stroke-width="1" />
<line x1="55.3" y1="98.85" x2="57.3" y2="98.85" stroke="#7a7a7a" stroke-width="0.8" />
<line x1="233.2" y1="98.85" x2="231.2" y2="98.85" stroke="#7a7a7a" stroke-width="0.8" />
<line x1="55.3" y1="91.86" x2="57.3" y2="91.86" stroke="#7a7a7a" stroke-width="0.8" />
<line x1="233.2" y1="91.86" x2="231.2" y2="91.86" stroke="#7a7a7a" stroke-width="0.8" />
<line x1="55.3" y1="86.9" x2="57.3" y2="86.9" stroke="#7a7a7a" stroke-width="0.8" />
<line x1="233.2" y1="86.9" x2="231.2" y2="86.9" stroke="#7a7a7a" stroke-width="0.8" />
<line x1="55.3" y1="83.05" x2="57.3" y2="83.05" stroke="#7a7a7a" stroke-width="0.8" />
<line x1="233.2" y1="83.05" x2="231.2" y2="83.05" stroke="#7a7a7a" stroke-width="0.8" />
<line x1="55.3" y1="79.91" x2="57.3" y2="79.91" stroke="#7a7a7a" stroke-width="0.8" />
<line x1="233.2" y1="79.91" x2="231.2" y2="79.91" stroke="#7a7a7a" stroke-width="0.8" />
<line x1="55.3" y1="77.25" x2="57.3" y2="77.25" stroke="#7a7a7a" stroke-width="0.8" />
<line x1="233.2" y1="77.25" x2="231.2" y2="77.25" stroke="#7a7a7a" stroke-width="0.8" />
<line x1="55.3" y1="74.95" x2="57.3" y2="74.95" stroke="#7a7a7a" stroke-width="0.8" />
<line x1="233.2" y1="74.95" x2="231.2" y2="74.95" stroke="#7a7a7a" stroke-width="0.8" />
<line x1="55.3" y1="72.92" x2="57.3" y2="72.92" stroke="#7a7a7a" stroke-width="0.8" />
<line x1="233.2" y1="72.92" x2="231.2" y2="72.92" stroke="#7a7a7a" stroke-width="0.8" />
<line x1="55.3" y1="71.1" x2="59.3" y2="71.1" stroke="#7a7a7a" stroke-width="1" />
<line x1="233.2" y1="71.1" x2="229.2" y2="71.1" stroke="#7a7a7a" stroke-width="1" />
<line x1="55.3" y1="59.15" x2="57.3" y2="59.15" stroke="#7a7a7a" stroke-width="0.8" />
<line x1="233.2" y1="59.15" x2="231.2" y2="59.15" stroke="#7a7a7a" stroke-width="0.8" />
<line x1="55.3" y1="52.16" x2="57.3" y2="52.16" stroke="#7a7a7a" stroke-width="0.8" />
<line x1="233.2" y1="52.16" x2="231.2" y2="52.16" stroke="#7a7a7a" stroke-width="0.8" />
<line x1="55.3" y1="47.2" x2="57.3" y2="47.2" stroke="#7a7a7a" stroke-width="0.8" />
<line x1="233.2" y1="47.2" x2="231.2" y2="47.2" stroke="#7a7a7a" stroke-width="0.8" />
<line x1="55.3" y1="43.35" x2="57.3" y2="43.35" stroke="#7a7a7a" stroke-width="0.8" />
<line x1="233.2" y1="43.35" x2="231.2" y2="43.35" stroke="#7a7a7a" stroke-width="0.8" />
<line x1="55.3" y1="40.21" x2="57.3" y2="40.21" stroke="#7a7a7a" stroke-width="0.8" />
<line x1="233.2" y1="40.21" x2="231.2" y2="40.21" stroke="#7a7a7a" stroke-width="0.8" />
<line x1="55.3" y1="37.55" x2="57.3" y2="37.55" stroke="#7a7a7a" stroke-width="0.8" />
<line x1="233.2" y1="37.55" x2="231.2" y2="37.55" stroke="#7a7a7a" stroke-width="0.8" />
<line x1="55.3" y1="35.25" x2="57.3" y2="35.25" stroke="#7a7a7a" stroke-width="0.8" />
<line x1="233.2" y1="35.25" x2="231.2" y2="35.25" stroke="#7a7a7a" stroke-width="0.8" />
<line x1="55.3" y1="33.22" x2="57.3" y2="33.22" stroke="#7a7a7a" stroke-width="0.8" />
<line x1="233.2" y1="33.22" x2="231.2" y2="33.22" stroke="#7a7a7a" stroke-width="0.8" />
<line x1="55.3" y1="31.4" x2="59.3" y2="31.4" stroke="#7a7a7a" stroke-width="1" />
<line x1="233.2" y1="31.4" x2="229.2" y2="31.4" stroke="#7a7a7a" stroke-width="1" />
<line x1="55.3" y1="19.45" x2="57.3" y2="19.45" stroke="#7a7a7a" stroke-width="0.8" />
<line x1="233.2" y1="19.45" x2="231.2" y2="19.45" stroke="#7a7a7a" stroke-width="0.8" />
<text x="47.5" y="154.2" font-family="Liberation Serif" font-size="13.5" fill="#000" text-anchor="end">10<tspan font-size="9.4" dy="-5.4">−3</tspan></text>
<text x="47.5" y="114.5" font-family="Liberation Serif" font-size="13.5" fill="#000" text-anchor="end">10<tspan font-size="9.4" dy="-5.4">−2</tspan></text>
<text x="47.5" y="74.8" font-family="Liberation Serif" font-size="13.5" fill="#000" text-anchor="end">10<tspan font-size="9.4" dy="-5.4">−1</tspan></text>
<text x="47.5" y="35.1" font-family="Liberation Serif" font-size="13.5" fill="#000" text-anchor="end">10<tspan font-size="9.4" dy="-5.4">0</tspan></text>
<text x="55.3" y="167.4" font-family="Liberation Serif" font-size="13.5" fill="#000" text-anchor="middle" >0</text>
<text x="99.77" y="167.4" font-family="Liberation Serif" font-size="13.5" fill="#000" text-anchor="middle" >20</text>
<text x="144.25" y="167.4" font-family="Liberation Serif" font-size="13.5" fill="#000" text-anchor="middle" >40</text>
<text x="188.72" y="167.4" font-family="Liberation Serif" font-size="13.5" fill="#000" text-anchor="middle" >60</text>
<text x="233.2" y="167.4" font-family="Liberation Serif" font-size="13.5" fill="#000" text-anchor="middle" >80</text>
<text x="144.3" y="186.6" font-family="Liberation Serif" font-size="14" fill="#000" text-anchor="middle" textLength="30" lengthAdjust="spacingAndGlyphs" >Site <tspan font-style="italic">ℓ</tspan></text>
<text x="9.5" y="81.5" font-family="Liberation Serif" font-size="13.5" fill="#000" text-anchor="middle" textLength="117" lengthAdjust="spacingAndGlyphs" transform="rotate(-90 9.5 81.5)" >Spin-spin correlation</text>
<text x="0.3" y="9" font-family="Liberation Serif" font-size="13.5" fill="#000" text-anchor="start" font-weight="bold" >A</text>
<text x="95" y="28.3" font-family="Liberation Serif" font-size="13.5" fill="#000" text-anchor="start" >(−1)</text>
<text x="119.3" y="22" font-family="Liberation Serif" font-size="9.5" fill="#000" text-anchor="start" font-style="italic" >ℓ</text>
<polyline points="129.4,18.8 126.2,24.9 129.4,31" fill="none" stroke="#000" stroke-width="0.9"/>
<polyline points="133.8,18.8 130.6,24.9 133.8,31" fill="none" stroke="#000" stroke-width="0.9"/>
<text x="135.3" y="28.3" font-family="Liberation Serif" font-size="13.5" fill="#000" text-anchor="start" font-style="italic" >T</text>
<text x="144.2" y="22.5" font-family="Liberation Serif" font-size="9.5" fill="#000" text-anchor="start" font-style="italic" >z</text>
<text x="144.4" y="30.6" font-family="Liberation Serif" font-size="9.5" fill="#000" text-anchor="start" >1</text>
<text x="150.2" y="28.3" font-family="Liberation Serif" font-size="13.5" fill="#000" text-anchor="start" font-style="italic" >T</text>
<text x="159" y="22.5" font-family="Liberation Serif" font-size="9.5" fill="#000" text-anchor="start" font-style="italic" >z</text>
<text x="159" y="31" font-family="Liberation Serif" font-size="9.5" fill="#000" text-anchor="start" font-style="italic" >ℓ</text>
<polyline points="165.3,18.8 168.5,24.9 165.3,31" fill="none" stroke="#000" stroke-width="0.9"/>
<polyline points="169.7,18.8 172.9,24.9 169.7,31" fill="none" stroke="#000" stroke-width="0.9"/>
<text x="176.5" y="30.6" font-family="Liberation Serif" font-size="9.5" fill="#000" text-anchor="start" font-style="italic" >ω</text>
<text x="182.6" y="30.6" font-family="Liberation Serif" font-size="9.5" fill="#000" text-anchor="start" >=0</text>
<g clip-path="url(#clipB)">
<line x1="294" y1="150.29" x2="295.11" y2="150.26" stroke="#46b2e8" stroke-width="1.3" stroke-linecap="round"/>
<line x1="295.11" y1="150.26" x2="296.22" y2="150.23" stroke="#45afe6" stroke-width="1.3" stroke-linecap="round"/>
<line x1="296.22" y1="150.23" x2="297.32" y2="150.21" stroke="#44ace3" stroke-width="1.3" stroke-linecap="round"/>
<line x1="297.32" y1="150.21" x2="298.43" y2="150.18" stroke="#42a9e1" stroke-width="1.3" stroke-linecap="round"/>
<line x1="298.43" y1="150.18" x2="299.54" y2="150.15" stroke="#41a6de" stroke-width="1.3" stroke-linecap="round"/>
<line x1="299.54" y1="150.15" x2="300.65" y2="150.12" stroke="#40a4dc" stroke-width="1.3" stroke-linecap="round"/>
<line x1="300.65" y1="150.12" x2="301.76" y2="150.1" stroke="#3ea1da" stroke-width="1.3" stroke-linecap="round"/>
<line x1="301.76" y1="150.1" x2="302.87" y2="150.07" stroke="#3d9ed7" stroke-width="1.3" stroke-linecap="round"/>
<line x1="302.87" y1="150.07" x2="303.97" y2="150.04" stroke="#3c9bd5" stroke-width="1.3" stroke-linecap="round"/>
<line x1="303.97" y1="150.04" x2="305.08" y2="150.01" stroke="#3b98d3" stroke-width="1.3" stroke-linecap="round"/>
<line x1="305.08" y1="150.01" x2="306.19" y2="149.98" stroke="#3a95d0" stroke-width="1.3" stroke-linecap="round"/>
<line x1="306.19" y1="149.98" x2="307.3" y2="149.96" stroke="#3892ce" stroke-width="1.3" stroke-linecap="round"/>
<line x1="307.3" y1="149.96" x2="308.41" y2="149.46" stroke="#3790cc" stroke-width="1.3" stroke-linecap="round"/>
<line x1="308.41" y1="149.46" x2="309.51" y2="148.97" stroke="#368dc9" stroke-width="1.3" stroke-linecap="round"/>
<line x1="309.51" y1="148.97" x2="310.62" y2="148.48" stroke="#348ac7" stroke-width="1.3" stroke-linecap="round"/>
<line x1="310.62" y1="148.48" x2="311.73" y2="147.92" stroke="#3387c4" stroke-width="1.3" stroke-linecap="round"/>
<line x1="311.73" y1="147.92" x2="312.84" y2="147.25" stroke="#3284c2" stroke-width="1.3" stroke-linecap="round"/>
<line x1="312.84" y1="147.25" x2="313.95" y2="146.36" stroke="#3180bd" stroke-width="1.3" stroke-linecap="round"/>
<line x1="313.95" y1="146.36" x2="315.05" y2="145.14" stroke="#2f7cb9" stroke-width="1.3" stroke-linecap="round"/>
<line x1="315.05" y1="145.14" x2="316.16" y2="143.58" stroke="#2e78b4" stroke-width="1.3" stroke-linecap="round"/>
<line x1="316.16" y1="143.58" x2="317.27" y2="141.5" stroke="#2d74af" stroke-width="1.3" stroke-linecap="round"/>
<line x1="317.27" y1="141.5" x2="318.38" y2="139.42" stroke="#2b70ab" stroke-width="1.3" stroke-linecap="round"/>
<line x1="318.38" y1="139.42" x2="319.49" y2="137.28" stroke="#2a6da6" stroke-width="1.3" stroke-linecap="round"/>
<line x1="319.49" y1="137.28" x2="320.6" y2="134.87" stroke="#2969a1" stroke-width="1.3" stroke-linecap="round"/>
<line x1="320.6" y1="134.87" x2="321.7" y2="132.47" stroke="#27659c" stroke-width="1.3" stroke-linecap="round"/>
<line x1="321.7" y1="132.47" x2="322.81" y2="129.65" stroke="#266198" stroke-width="1.3" stroke-linecap="round"/>
<line x1="322.81" y1="129.65" x2="323.92" y2="126.73" stroke="#255d93" stroke-width="1.3" stroke-linecap="round"/>
<line x1="323.92" y1="126.73" x2="325.03" y2="123.49" stroke="#23598e" stroke-width="1.3" stroke-linecap="round"/>
<line x1="325.03" y1="123.49" x2="326.14" y2="120.04" stroke="#22558a" stroke-width="1.3" stroke-linecap="round"/>
<line x1="326.14" y1="120.04" x2="327.24" y2="116.78" stroke="#215185" stroke-width="1.3" stroke-linecap="round"/>
<line x1="327.24" y1="116.78" x2="328.35" y2="113.56" stroke="#204f82" stroke-width="1.3" stroke-linecap="round"/>
<line x1="328.35" y1="113.56" x2="329.46" y2="110.34" stroke="#204c7e" stroke-width="1.3" stroke-linecap="round"/>
<line x1="329.46" y1="110.34" x2="330.57" y2="107.13" stroke="#1f497b" stroke-width="1.3" stroke-linecap="round"/>
<line x1="330.57" y1="107.13" x2="331.68" y2="104.34" stroke="#1e4677" stroke-width="1.3" stroke-linecap="round"/>
<line x1="331.68" y1="104.34" x2="332.78" y2="101.66" stroke="#1e4374" stroke-width="1.3" stroke-linecap="round"/>
<line x1="332.78" y1="101.66" x2="333.89" y2="99.12" stroke="#1d4070" stroke-width="1.3" stroke-linecap="round"/>
<line x1="333.89" y1="99.12" x2="335" y2="96.81" stroke="#1c3d6d" stroke-width="1.3" stroke-linecap="round"/>
<line x1="335" y1="96.81" x2="336.11" y2="94.41" stroke="#1c3b69" stroke-width="1.3" stroke-linecap="round"/>
<line x1="336.11" y1="94.41" x2="337.22" y2="91.7" stroke="#1b3866" stroke-width="1.3" stroke-linecap="round"/>
<line x1="337.22" y1="91.7" x2="338.32" y2="89.14" stroke="#1b3562" stroke-width="1.3" stroke-linecap="round"/>
<line x1="338.32" y1="89.14" x2="339.43" y2="86.82" stroke="#1a325f" stroke-width="1.3" stroke-linecap="round"/>
<line x1="339.43" y1="86.82" x2="340.54" y2="84.53" stroke="#192f5c" stroke-width="1.3" stroke-linecap="round"/>
<line x1="340.54" y1="84.53" x2="341.65" y2="82.31" stroke="#192d58" stroke-width="1.3" stroke-linecap="round"/>
<line x1="341.65" y1="82.31" x2="342.76" y2="80.33" stroke="#182a55" stroke-width="1.3" stroke-linecap="round"/>
<line x1="342.76" y1="80.33" x2="343.87" y2="78.7" stroke="#182851" stroke-width="1.3" stroke-linecap="round"/>
<line x1="343.87" y1="78.7" x2="344.97" y2="77.07" stroke="#18264e" stroke-width="1.3" stroke-linecap="round"/>
<line x1="344.97" y1="77.07" x2="346.08" y2="75.42" stroke="#17234b" stroke-width="1.3" stroke-linecap="round"/>
<line x1="346.08" y1="75.42" x2="347.19" y2="73.72" stroke="#162047" stroke-width="1.3" stroke-linecap="round"/>
<line x1="347.19" y1="73.72" x2="348.3" y2="72.02" stroke="#161e44" stroke-width="1.3" stroke-linecap="round"/>
<line x1="348.3" y1="72.02" x2="349.41" y2="70.37" stroke="#191f45" stroke-width="1.3" stroke-linecap="round"/>
<line x1="349.41" y1="70.37" x2="350.51" y2="68.82" stroke="#1d2046" stroke-width="1.3" stroke-linecap="round"/>
<line x1="350.51" y1="68.82" x2="351.62" y2="67.27" stroke="#202147" stroke-width="1.3" stroke-linecap="round"/>
<line x1="351.62" y1="67.27" x2="352.73" y2="65.72" stroke="#242248" stroke-width="1.3" stroke-linecap="round"/>
<line x1="352.73" y1="65.72" x2="353.84" y2="64.24" stroke="#272249" stroke-width="1.3" stroke-linecap="round"/>
<line x1="353.84" y1="64.24" x2="354.95" y2="62.87" stroke="#2a234a" stroke-width="1.3" stroke-linecap="round"/>
<line x1="354.95" y1="62.87" x2="356.06" y2="61.5" stroke="#2e244c" stroke-width="1.3" stroke-linecap="round"/>
<line x1="356.06" y1="61.5" x2="357.16" y2="60.13" stroke="#31254d" stroke-width="1.3" stroke-linecap="round"/>
<line x1="357.16" y1="60.13" x2="358.27" y2="58.77" stroke="#35264e" stroke-width="1.3" stroke-linecap="round"/>
<line x1="358.27" y1="58.77" x2="359.38" y2="57.4" stroke="#38274f" stroke-width="1.3" stroke-linecap="round"/>
<line x1="359.38" y1="57.4" x2="360.49" y2="56.11" stroke="#3b2850" stroke-width="1.3" stroke-linecap="round"/>
<line x1="360.49" y1="56.11" x2="361.6" y2="54.92" stroke="#40294f" stroke-width="1.3" stroke-linecap="round"/>
<line x1="361.6" y1="54.92" x2="362.7" y2="53.74" stroke="#45294f" stroke-width="1.3" stroke-linecap="round"/>
<line x1="362.7" y1="53.74" x2="363.81" y2="52.56" stroke="#4a2a4e" stroke-width="1.3" stroke-linecap="round"/>
<line x1="363.81" y1="52.56" x2="364.92" y2="51.37" stroke="#4f2b4d" stroke-width="1.3" stroke-linecap="round"/>
<line x1="364.92" y1="51.37" x2="366.03" y2="50.19" stroke="#542b4d" stroke-width="1.3" stroke-linecap="round"/>
<line x1="366.03" y1="50.19" x2="367.14" y2="49.11" stroke="#592c4c" stroke-width="1.3" stroke-linecap="round"/>
<line x1="367.14" y1="49.11" x2="368.24" y2="48.19" stroke="#5e2d4b" stroke-width="1.3" stroke-linecap="round"/>
<line x1="368.24" y1="48.19" x2="369.35" y2="47.26" stroke="#632e4a" stroke-width="1.3" stroke-linecap="round"/>
<line x1="369.35" y1="47.26" x2="370.46" y2="46.34" stroke="#682e4a" stroke-width="1.3" stroke-linecap="round"/>
<line x1="370.46" y1="46.34" x2="371.57" y2="45.41" stroke="#6d2f49" stroke-width="1.3" stroke-linecap="round"/>
<line x1="371.57" y1="45.41" x2="372.68" y2="44.49" stroke="#723048" stroke-width="1.3" stroke-linecap="round"/>
<line x1="372.68" y1="44.49" x2="373.79" y2="43.68" stroke="#783147" stroke-width="1.3" stroke-linecap="round"/>
<line x1="373.79" y1="43.68" x2="374.89" y2="43.04" stroke="#7e3246" stroke-width="1.3" stroke-linecap="round"/>
<line x1="374.89" y1="43.04" x2="376" y2="42.41" stroke="#843344" stroke-width="1.3" stroke-linecap="round"/>
<line x1="376" y1="42.41" x2="377.11" y2="41.77" stroke="#8b3443" stroke-width="1.3" stroke-linecap="round"/>
<line x1="377.11" y1="41.77" x2="378.22" y2="41.13" stroke="#913541" stroke-width="1.3" stroke-linecap="round"/>
<line x1="378.22" y1="41.13" x2="379.33" y2="40.49" stroke="#973640" stroke-width="1.3" stroke-linecap="round"/>
<line x1="379.33" y1="40.49" x2="380.43" y2="39.85" stroke="#9d373e" stroke-width="1.3" stroke-linecap="round"/>
<line x1="380.43" y1="39.85" x2="381.54" y2="39.22" stroke="#a4383d" stroke-width="1.3" stroke-linecap="round"/>
<line x1="381.54" y1="39.22" x2="382.65" y2="38.73" stroke="#aa393b" stroke-width="1.3" stroke-linecap="round"/>
<line x1="382.65" y1="38.73" x2="383.76" y2="38.46" stroke="#b03a3a" stroke-width="1.3" stroke-linecap="round"/>
<line x1="383.76" y1="38.46" x2="384.87" y2="38.2" stroke="#b43b39" stroke-width="1.3" stroke-linecap="round"/>
<line x1="384.87" y1="38.2" x2="385.97" y2="37.93" stroke="#b83b38" stroke-width="1.3" stroke-linecap="round"/>
<line x1="385.97" y1="37.93" x2="387.08" y2="37.66" stroke="#bc3c37" stroke-width="1.3" stroke-linecap="round"/>
<line x1="387.08" y1="37.66" x2="388.19" y2="37.4" stroke="#c03d36" stroke-width="1.3" stroke-linecap="round"/>
<line x1="388.19" y1="37.4" x2="389.3" y2="37.13" stroke="#c43e35" stroke-width="1.3" stroke-linecap="round"/>
<line x1="389.3" y1="37.13" x2="390.41" y2="36.87" stroke="#c83e34" stroke-width="1.3" stroke-linecap="round"/>
<line x1="390.41" y1="36.87" x2="391.51" y2="36.6" stroke="#cc3f32" stroke-width="1.3" stroke-linecap="round"/>
<line x1="391.51" y1="36.6" x2="392.62" y2="36.33" stroke="#cf4031" stroke-width="1.3" stroke-linecap="round"/>
<line x1="392.62" y1="36.33" x2="393.73" y2="36.1" stroke="#d34030" stroke-width="1.3" stroke-linecap="round"/>
<line x1="393.73" y1="36.1" x2="394.84" y2="35.92" stroke="#d7412f" stroke-width="1.3" stroke-linecap="round"/>
<line x1="394.84" y1="35.92" x2="395.95" y2="35.75" stroke="#db422e" stroke-width="1.3" stroke-linecap="round"/>
<line x1="395.95" y1="35.75" x2="397.06" y2="35.57" stroke="#dd432e" stroke-width="1.3" stroke-linecap="round"/>
<line x1="397.06" y1="35.57" x2="398.16" y2="35.39" stroke="#df442d" stroke-width="1.3" stroke-linecap="round"/>
<line x1="398.16" y1="35.39" x2="399.27" y2="35.21" stroke="#e0452d" stroke-width="1.3" stroke-linecap="round"/>
<line x1="399.27" y1="35.21" x2="400.38" y2="35.04" stroke="#e2462c" stroke-width="1.3" stroke-linecap="round"/>
<line x1="400.38" y1="35.04" x2="401.49" y2="34.86" stroke="#e3472c" stroke-width="1.3" stroke-linecap="round"/>
<line x1="401.49" y1="34.86" x2="402.6" y2="34.68" stroke="#e4482c" stroke-width="1.3" stroke-linecap="round"/>
<line x1="402.6" y1="34.68" x2="403.7" y2="34.51" stroke="#e6492b" stroke-width="1.3" stroke-linecap="round"/>
<line x1="403.7" y1="34.51" x2="404.81" y2="34.35" stroke="#e74a2b" stroke-width="1.3" stroke-linecap="round"/>
<line x1="404.81" y1="34.35" x2="405.92" y2="34.21" stroke="#e94b2a" stroke-width="1.3" stroke-linecap="round"/>
<line x1="405.92" y1="34.21" x2="407.03" y2="34.08" stroke="#ea4c2a" stroke-width="1.3" stroke-linecap="round"/>
<line x1="407.03" y1="34.08" x2="408.14" y2="33.95" stroke="#ea4e2a" stroke-width="1.3" stroke-linecap="round"/>
<line x1="408.14" y1="33.95" x2="409.25" y2="33.81" stroke="#ea502a" stroke-width="1.3" stroke-linecap="round"/>
<line x1="409.25" y1="33.81" x2="410.35" y2="33.68" stroke="#ea522a" stroke-width="1.3" stroke-linecap="round"/>
<line x1="410.35" y1="33.68" x2="411.46" y2="33.55" stroke="#ea542a" stroke-width="1.3" stroke-linecap="round"/>
<line x1="411.46" y1="33.55" x2="412.57" y2="33.41" stroke="#e9562a" stroke-width="1.3" stroke-linecap="round"/>
<line x1="412.57" y1="33.41" x2="413.68" y2="33.28" stroke="#e9582a" stroke-width="1.3" stroke-linecap="round"/>
<line x1="413.68" y1="33.28" x2="414.79" y2="33.15" stroke="#e95a2a" stroke-width="1.3" stroke-linecap="round"/>
<line x1="414.79" y1="33.15" x2="415.89" y2="33.03" stroke="#e95c2a" stroke-width="1.3" stroke-linecap="round"/>
<line x1="415.89" y1="33.03" x2="417" y2="32.94" stroke="#e95e2a" stroke-width="1.3" stroke-linecap="round"/>
<line x1="417" y1="32.94" x2="418.11" y2="32.85" stroke="#e9602a" stroke-width="1.3" stroke-linecap="round"/>
<line x1="418.11" y1="32.85" x2="419.22" y2="32.77" stroke="#e9622a" stroke-width="1.3" stroke-linecap="round"/>
<line x1="419.22" y1="32.77" x2="420.33" y2="32.68" stroke="#e9642a" stroke-width="1.3" stroke-linecap="round"/>
<line x1="420.33" y1="32.68" x2="421.43" y2="32.59" stroke="#e9662a" stroke-width="1.3" stroke-linecap="round"/>
<line x1="421.43" y1="32.59" x2="422.54" y2="32.5" stroke="#e9682a" stroke-width="1.3" stroke-linecap="round"/>
<line x1="422.54" y1="32.5" x2="423.65" y2="32.41" stroke="#e86a2a" stroke-width="1.3" stroke-linecap="round"/>
<line x1="423.65" y1="32.41" x2="424.76" y2="32.32" stroke="#e86c2a" stroke-width="1.3" stroke-linecap="round"/>
<line x1="424.76" y1="32.32" x2="425.87" y2="32.23" stroke="#e86e2a" stroke-width="1.3" stroke-linecap="round"/>
<line x1="425.87" y1="32.23" x2="426.98" y2="32.15" stroke="#e8702a" stroke-width="1.3" stroke-linecap="round"/>
<line x1="426.98" y1="32.15" x2="428.08" y2="32.09" stroke="#e8722a" stroke-width="1.3" stroke-linecap="round"/>
<line x1="428.08" y1="32.09" x2="429.19" y2="32.02" stroke="#e8742a" stroke-width="1.3" stroke-linecap="round"/>
<line x1="429.19" y1="32.02" x2="430.3" y2="31.95" stroke="#e9762a" stroke-width="1.3" stroke-linecap="round"/>
<line x1="430.3" y1="31.95" x2="431.41" y2="31.89" stroke="#e9792a" stroke-width="1.3" stroke-linecap="round"/>
<line x1="431.41" y1="31.89" x2="432.52" y2="31.82" stroke="#e97b2a" stroke-width="1.3" stroke-linecap="round"/>
<line x1="432.52" y1="31.82" x2="433.62" y2="31.75" stroke="#e97d2a" stroke-width="1.3" stroke-linecap="round"/>
<line x1="433.62" y1="31.75" x2="434.73" y2="31.69" stroke="#ea7f2b" stroke-width="1.3" stroke-linecap="round"/>
<line x1="434.73" y1="31.69" x2="435.84" y2="31.62" stroke="#ea812b" stroke-width="1.3" stroke-linecap="round"/>
<line x1="435.84" y1="31.62" x2="436.95" y2="31.56" stroke="#ea842b" stroke-width="1.3" stroke-linecap="round"/>
<line x1="436.95" y1="31.56" x2="438.06" y2="31.5" stroke="#eb862b" stroke-width="1.3" stroke-linecap="round"/>
<line x1="438.06" y1="31.5" x2="439.16" y2="31.45" stroke="#eb882b" stroke-width="1.3" stroke-linecap="round"/>
<line x1="439.16" y1="31.45" x2="440.27" y2="31.41" stroke="#eb8a2b" stroke-width="1.3" stroke-linecap="round"/>
<line x1="440.27" y1="31.41" x2="441.38" y2="31.36" stroke="#eb8d2b" stroke-width="1.3" stroke-linecap="round"/>
<line x1="441.38" y1="31.36" x2="442.49" y2="31.32" stroke="#ec8f2b" stroke-width="1.3" stroke-linecap="round"/>
<line x1="442.49" y1="31.32" x2="443.6" y2="31.28" stroke="#ec912b" stroke-width="1.3" stroke-linecap="round"/>
<line x1="443.6" y1="31.28" x2="444.71" y2="31.23" stroke="#ec932b" stroke-width="1.3" stroke-linecap="round"/>
<line x1="444.71" y1="31.23" x2="445.81" y2="31.19" stroke="#ed952c" stroke-width="1.3" stroke-linecap="round"/>
<line x1="445.81" y1="31.19" x2="446.92" y2="31.14" stroke="#ed982c" stroke-width="1.3" stroke-linecap="round"/>
<line x1="446.92" y1="31.14" x2="448.03" y2="31.1" stroke="#ed9a2c" stroke-width="1.3" stroke-linecap="round"/>
<line x1="448.03" y1="31.1" x2="449.14" y2="31.05" stroke="#ed9c2c" stroke-width="1.3" stroke-linecap="round"/>
<line x1="449.14" y1="31.05" x2="450.25" y2="31.01" stroke="#ee9e2c" stroke-width="1.3" stroke-linecap="round"/>
<line x1="450.25" y1="31.01" x2="451.35" y2="30.97" stroke="#eea02c" stroke-width="1.3" stroke-linecap="round"/>
<line x1="451.35" y1="30.97" x2="452.46" y2="30.92" stroke="#efa22b" stroke-width="1.3" stroke-linecap="round"/>
<line x1="452.46" y1="30.92" x2="453.57" y2="30.88" stroke="#efa42b" stroke-width="1.3" stroke-linecap="round"/>
<line x1="453.57" y1="30.88" x2="454.68" y2="30.83" stroke="#f0a62a" stroke-width="1.3" stroke-linecap="round"/>
<line x1="454.68" y1="30.83" x2="455.79" y2="30.79" stroke="#f1a82a" stroke-width="1.3" stroke-linecap="round"/>
<line x1="455.79" y1="30.79" x2="456.89" y2="30.74" stroke="#f1aa29" stroke-width="1.3" stroke-linecap="round"/>
<line x1="456.89" y1="30.74" x2="458" y2="30.7" stroke="#f2ac29" stroke-width="1.3" stroke-linecap="round"/>
<line x1="458" y1="30.7" x2="459.11" y2="30.65" stroke="#f2ae28" stroke-width="1.3" stroke-linecap="round"/>
<line x1="459.11" y1="30.65" x2="460.22" y2="30.62" stroke="#f3b028" stroke-width="1.3" stroke-linecap="round"/>
<line x1="460.22" y1="30.62" x2="461.33" y2="30.6" stroke="#f4b227" stroke-width="1.3" stroke-linecap="round"/>
<line x1="461.33" y1="30.6" x2="462.44" y2="30.57" stroke="#f4b427" stroke-width="1.3" stroke-linecap="round"/>
<line x1="462.44" y1="30.57" x2="463.54" y2="30.55" stroke="#f5b626" stroke-width="1.3" stroke-linecap="round"/>
<line x1="463.54" y1="30.55" x2="464.65" y2="30.53" stroke="#f6b826" stroke-width="1.3" stroke-linecap="round"/>
<line x1="464.65" y1="30.53" x2="465.76" y2="30.51" stroke="#f6ba25" stroke-width="1.3" stroke-linecap="round"/>
<line x1="465.76" y1="30.51" x2="466.87" y2="30.49" stroke="#f7bc25" stroke-width="1.3" stroke-linecap="round"/>
<line x1="466.87" y1="30.49" x2="467.98" y2="30.46" stroke="#f8be24" stroke-width="1.3" stroke-linecap="round"/>
<line x1="467.98" y1="30.46" x2="469.08" y2="30.44" stroke="#f8c024" stroke-width="1.3" stroke-linecap="round"/>
<line x1="469.08" y1="30.44" x2="470.19" y2="30.42" stroke="#f9c223" stroke-width="1.3" stroke-linecap="round"/>
<line x1="470.19" y1="30.42" x2="471.3" y2="30.39" stroke="#f9c423" stroke-width="1.3" stroke-linecap="round"/>
<line x1="371.6" y1="29.5" x2="471.3" y2="29.5" stroke="#ee4030" stroke-width="2.2" stroke-dasharray="1.0 0.7"/>
</g>
<rect x="294" y="12.6" width="177.3" height="137.8" fill="none" stroke="#7a7a7a" stroke-width="1.1" />
<path d="M294,147.39 L296.9,150.29 L294,153.19 L291.1,150.29 Z" fill="#fff" stroke="#46b2e8" stroke-width="1.1"/>
<path d="M296.22,147.35 L299.12,150.25 L296.22,153.15 L293.32,150.25 Z" fill="#fff" stroke="#44ace3" stroke-width="1.1"/>
<path d="M298.43,147.31 L301.33,150.21 L298.43,153.11 L295.53,150.21 Z" fill="#fff" stroke="#41a6de" stroke-width="1.1"/>
<path d="M300.65,147.26 L303.55,150.16 L300.65,153.06 L297.75,150.16 Z" fill="#fff" stroke="#3ea1da" stroke-width="1.1"/>
<path d="M302.87,147.22 L305.76,150.12 L302.87,153.02 L299.97,150.12 Z" fill="#fff" stroke="#3c9bd5" stroke-width="1.1"/>
<path d="M305.08,147.18 L307.98,150.08 L305.08,152.98 L302.18,150.08 Z" fill="#fff" stroke="#3a95d0" stroke-width="1.1"/>
<path d="M307.3,147.14 L310.2,150.04 L307.3,152.94 L304.4,150.04 Z" fill="#fff" stroke="#3790cc" stroke-width="1.1"/>
<path d="M309.51,147.1 L312.41,150 L309.51,152.9 L306.61,150 Z" fill="#fff" stroke="#348ac7" stroke-width="1.1"/>
<path d="M311.73,147.06 L314.63,149.96 L311.73,152.86 L308.83,149.96 Z" fill="#fff" stroke="#3284c2" stroke-width="1.1"/>
<path d="M313.95,145.95 L316.85,148.85 L313.95,151.75 L311.05,148.85 Z" fill="#fff" stroke="#2f7cb9" stroke-width="1.1"/>
<path d="M316.16,144.84 L319.06,147.74 L316.16,150.64 L313.26,147.74 Z" fill="#fff" stroke="#2d74af" stroke-width="1.1"/>
<path d="M318.38,142.62 L321.28,145.52 L318.38,148.42 L315.48,145.52 Z" fill="#fff" stroke="#2a6da6" stroke-width="1.1"/>
<path d="M320.6,140.59 L323.5,143.49 L320.6,146.39 L317.7,143.49 Z" fill="#fff" stroke="#27659c" stroke-width="1.1"/>
<path d="M322.81,138.85 L325.71,141.75 L322.81,144.65 L319.91,141.75 Z" fill="#fff" stroke="#255d93" stroke-width="1.1"/>
<path d="M325.03,137 L327.93,139.9 L325.03,142.8 L322.13,139.9 Z" fill="#fff" stroke="#22558a" stroke-width="1.1"/>
<path d="M327.24,134.55 L330.14,137.45 L327.24,140.35 L324.34,137.45 Z" fill="#fff" stroke="#204f82" stroke-width="1.1"/>
<path d="M329.46,129.57 L332.36,132.47 L329.46,135.37 L326.56,132.47 Z" fill="#fff" stroke="#1f497b" stroke-width="1.1"/>
<path d="M331.68,123.29 L334.58,126.19 L331.68,129.09 L328.78,126.19 Z" fill="#fff" stroke="#1e4374" stroke-width="1.1"/>
<path d="M333.89,115.12 L336.79,118.02 L333.89,120.92 L330.99,118.02 Z" fill="#fff" stroke="#1c3d6d" stroke-width="1.1"/>
<path d="M336.11,107.86 L339.01,110.76 L336.11,113.66 L333.21,110.76 Z" fill="#fff" stroke="#1b3866" stroke-width="1.1"/>
<path d="M338.32,99.95 L341.22,102.85 L338.32,105.75 L335.43,102.85 Z" fill="#fff" stroke="#1a325f" stroke-width="1.1"/>
<path d="M340.54,93.36 L343.44,96.26 L340.54,99.16 L337.64,96.26 Z" fill="#fff" stroke="#192d58" stroke-width="1.1"/>
<path d="M342.76,88.3 L345.66,91.2 L342.76,94.1 L339.86,91.2 Z" fill="#fff" stroke="#182851" stroke-width="1.1"/>
<path d="M344.97,83.62 L347.87,86.52 L344.97,89.42 L342.07,86.52 Z" fill="#fff" stroke="#17234b" stroke-width="1.1"/>
<path d="M347.19,79.26 L350.09,82.16 L347.19,85.06 L344.29,82.16 Z" fill="#fff" stroke="#161e44" stroke-width="1.1"/>
<path d="M349.41,75.54 L352.31,78.44 L349.41,81.34 L346.51,78.44 Z" fill="#fff" stroke="#1d2046" stroke-width="1.1"/>
<path d="M351.62,71.82 L354.52,74.72 L351.62,77.62 L348.72,74.72 Z" fill="#fff" stroke="#242248" stroke-width="1.1"/>
<path d="M353.84,68.1 L356.74,71 L353.84,73.9 L350.94,71 Z" fill="#fff" stroke="#2a234a" stroke-width="1.1"/>
<path d="M356.06,65.29 L358.95,68.19 L356.06,71.09 L353.16,68.19 Z" fill="#fff" stroke="#31254d" stroke-width="1.1"/>
<path d="M358.27,62.48 L361.17,65.38 L358.27,68.28 L355.37,65.38 Z" fill="#fff" stroke="#38274f" stroke-width="1.1"/>
<path d="M360.49,59.67 L363.39,62.57 L360.49,65.47 L357.59,62.57 Z" fill="#fff" stroke="#40294f" stroke-width="1.1"/>
<path d="M362.7,57.3 L365.6,60.2 L362.7,63.1 L359.8,60.2 Z" fill="#fff" stroke="#4a2a4e" stroke-width="1.1"/>
<path d="M364.92,54.94 L367.82,57.84 L364.92,60.74 L362.02,57.84 Z" fill="#fff" stroke="#542b4d" stroke-width="1.1"/>
<path d="M367.14,52.57 L370.04,55.47 L367.14,58.37 L364.24,55.47 Z" fill="#fff" stroke="#5e2d4b" stroke-width="1.1"/>
<path d="M369.35,50.94 L372.25,53.84 L369.35,56.74 L366.45,53.84 Z" fill="#fff" stroke="#682e4a" stroke-width="1.1"/>
<path d="M371.57,49.32 L374.47,52.22 L371.57,55.12 L368.67,52.22 Z" fill="#fff" stroke="#723048" stroke-width="1.1"/>
<path d="M373.79,47.69 L376.69,50.59 L373.79,53.49 L370.89,50.59 Z" fill="#fff" stroke="#7e3246" stroke-width="1.1"/>
<path d="M376,46.41 L378.9,49.31 L376,52.21 L373.1,49.31 Z" fill="#fff" stroke="#8b3443" stroke-width="1.1"/>
<path d="M378.22,45.14 L381.12,48.04 L378.22,50.94 L375.32,48.04 Z" fill="#fff" stroke="#973640" stroke-width="1.1"/>
<path d="M380.43,43.86 L383.33,46.76 L380.43,49.66 L377.53,46.76 Z" fill="#fff" stroke="#a4383d" stroke-width="1.1"/>
<path d="M382.65,42.59 L385.55,45.49 L382.65,48.39 L379.75,45.49 Z" fill="#fff" stroke="#b03a3a" stroke-width="1.1"/>
<path d="M393.73,38.6 L396.63,41.5 L393.73,44.4 L390.83,41.5 Z" fill="#fff" stroke="#d7412f" stroke-width="1.1"/>
<path d="M404.81,35.93 L407.71,38.83 L404.81,41.73 L401.91,38.83 Z" fill="#fff" stroke="#e94b2a" stroke-width="1.1"/>
<path d="M415.89,34.38 L418.79,37.28 L415.89,40.18 L412.99,37.28 Z" fill="#fff" stroke="#e95e2a" stroke-width="1.1"/>
<path d="M426.98,33.05 L429.88,35.95 L426.98,38.85 L424.08,35.95 Z" fill="#fff" stroke="#e8722a" stroke-width="1.1"/>
<path d="M438.06,32.16 L440.96,35.06 L438.06,37.96 L435.16,35.06 Z" fill="#fff" stroke="#eb882b" stroke-width="1.1"/>
<path d="M449.14,31.5 L452.04,34.4 L449.14,37.3 L446.24,34.4 Z" fill="#fff" stroke="#ee9e2c" stroke-width="1.1"/>
<path d="M460.22,31.06 L463.12,33.96 L460.22,36.86 L457.32,33.96 Z" fill="#fff" stroke="#f4b227" stroke-width="1.1"/>
<path d="M471.3,30.61 L474.2,33.51 L471.3,36.41 L468.4,33.51 Z" fill="#fff" stroke="#fac622" stroke-width="1.1"/>
<circle cx="294" cy="150.29" r="2.6" fill="#46b2e8"/>
<circle cx="296.22" cy="150.25" r="2.6" fill="#44ace3"/>
<circle cx="298.43" cy="150.22" r="2.6" fill="#41a6de"/>
<circle cx="300.65" cy="150.18" r="2.6" fill="#3ea1da"/>
<circle cx="302.87" cy="150.14" r="2.6" fill="#3c9bd5"/>
<circle cx="305.08" cy="150.1" r="2.6" fill="#3a95d0"/>
<circle cx="307.3" cy="150.07" r="2.6" fill="#3790cc"/>
<circle cx="309.51" cy="149.46" r="2.6" fill="#348ac7"/>
<circle cx="311.73" cy="148.85" r="2.6" fill="#3284c2"/>
<circle cx="313.95" cy="147.52" r="2.6" fill="#2f7cb9"/>
<circle cx="316.16" cy="145.08" r="2.6" fill="#2d74af"/>
<circle cx="318.38" cy="140.92" r="2.6" fill="#2a6da6"/>
<circle cx="320.6" cy="136.5" r="2.6" fill="#27659c"/>
<circle cx="322.81" cy="131.49" r="2.6" fill="#255d93"/>
<circle cx="325.03" cy="125.53" r="2.6" fill="#22558a"/>
<circle cx="327.24" cy="118.73" r="2.6" fill="#204f82"/>
<circle cx="329.46" cy="112.29" r="2.6" fill="#1f497b"/>
<circle cx="331.68" cy="106.08" r="2.6" fill="#1e4374"/>
<circle cx="333.89" cy="100.72" r="2.6" fill="#1c3d6d"/>
<circle cx="336.11" cy="96.08" r="2.6" fill="#1b3866"/>
<circle cx="338.32" cy="90.74" r="2.6" fill="#1a325f"/>
<circle cx="340.54" cy="86.1" r="2.6" fill="#192d58"/>
<circle cx="342.76" cy="81.64" r="2.6" fill="#182851"/>
<circle cx="344.97" cy="78.39" r="2.6" fill="#17234b"/>
<circle cx="347.19" cy="75.06" r="2.6" fill="#161e44"/>
<circle cx="349.41" cy="71.66" r="2.6" fill="#1d2046"/>
<circle cx="351.62" cy="68.56" r="2.6" fill="#242248"/>
<circle cx="353.84" cy="65.45" r="2.6" fill="#2a234a"/>
<circle cx="356.06" cy="62.72" r="2.6" fill="#31254d"/>
<circle cx="358.27" cy="59.98" r="2.6" fill="#38274f"/>
<circle cx="360.49" cy="57.24" r="2.6" fill="#40294f"/>
<circle cx="362.7" cy="54.88" r="2.6" fill="#4a2a4e"/>
<circle cx="364.92" cy="52.51" r="2.6" fill="#542b4d"/>
<circle cx="367.14" cy="50.15" r="2.6" fill="#5e2d4b"/>
<circle cx="369.35" cy="48.3" r="2.6" fill="#682e4a"/>
<circle cx="371.57" cy="46.45" r="2.6" fill="#723048"/>
<circle cx="373.79" cy="44.6" r="2.6" fill="#7e3246"/>
<circle cx="376" cy="43.33" r="2.6" fill="#8b3443"/>
<circle cx="378.22" cy="42.05" r="2.6" fill="#973640"/>
<circle cx="380.43" cy="40.78" r="2.6" fill="#a4383d"/>
<circle cx="382.65" cy="39.5" r="2.6" fill="#b03a3a"/>
<circle cx="393.73" cy="36.84" r="2.9" fill="#d7412f"/>
<circle cx="404.81" cy="35.06" r="2.9" fill="#e94b2a"/>
<circle cx="415.89" cy="33.73" r="2.9" fill="#e95e2a"/>
<circle cx="426.98" cy="32.85" r="2.9" fill="#e8722a"/>
<circle cx="438.06" cy="32.18" r="2.9" fill="#eb882b"/>
<circle cx="449.14" cy="31.74" r="2.9" fill="#ee9e2c"/>
<circle cx="460.22" cy="31.29" r="2.9" fill="#f4b227"/>
<circle cx="471.3" cy="31.07" r="2.9" fill="#fac622"/>
<line x1="294" y1="150.4" x2="298" y2="150.4" stroke="#7a7a7a" stroke-width="1" />
<line x1="471.3" y1="150.4" x2="467.3" y2="150.4" stroke="#7a7a7a" stroke-width="1" />
<line x1="294" y1="128.22" x2="296.2" y2="128.22" stroke="#7a7a7a" stroke-width="1" />
<line x1="471.3" y1="128.22" x2="469.1" y2="128.22" stroke="#7a7a7a" stroke-width="1" />
<line x1="294" y1="106.04" x2="298" y2="106.04" stroke="#7a7a7a" stroke-width="1" />
<line x1="471.3" y1="106.04" x2="467.3" y2="106.04" stroke="#7a7a7a" stroke-width="1" />
<line x1="294" y1="83.86" x2="296.2" y2="83.86" stroke="#7a7a7a" stroke-width="1" />
<line x1="471.3" y1="83.86" x2="469.1" y2="83.86" stroke="#7a7a7a" stroke-width="1" />
<line x1="294" y1="61.68" x2="298" y2="61.68" stroke="#7a7a7a" stroke-width="1" />
<line x1="471.3" y1="61.68" x2="467.3" y2="61.68" stroke="#7a7a7a" stroke-width="1" />
<line x1="294" y1="39.5" x2="296.2" y2="39.5" stroke="#7a7a7a" stroke-width="1" />
<line x1="471.3" y1="39.5" x2="469.1" y2="39.5" stroke="#7a7a7a" stroke-width="1" />
<line x1="294" y1="17.32" x2="298" y2="17.32" stroke="#7a7a7a" stroke-width="1" />
<line x1="471.3" y1="17.32" x2="467.3" y2="17.32" stroke="#7a7a7a" stroke-width="1" />
<line x1="294" y1="150.4" x2="294" y2="146.4" stroke="#7a7a7a" stroke-width="1" />
<line x1="294" y1="12.6" x2="294" y2="16.6" stroke="#7a7a7a" stroke-width="1" />
<line x1="316.16" y1="150.4" x2="316.16" y2="148.2" stroke="#7a7a7a" stroke-width="1" />
<line x1="316.16" y1="12.6" x2="316.16" y2="14.8" stroke="#7a7a7a" stroke-width="1" />
<line x1="338.32" y1="150.4" x2="338.32" y2="146.4" stroke="#7a7a7a" stroke-width="1" />
<line x1="338.32" y1="12.6" x2="338.32" y2="16.6" stroke="#7a7a7a" stroke-width="1" />
<line x1="360.49" y1="150.4" x2="360.49" y2="148.2" stroke="#7a7a7a" stroke-width="1" />
<line x1="360.49" y1="12.6" x2="360.49" y2="14.8" stroke="#7a7a7a" stroke-width="1" />
<line x1="382.65" y1="150.4" x2="382.65" y2="146.4" stroke="#7a7a7a" stroke-width="1" />
<line x1="382.65" y1="12.6" x2="382.65" y2="16.6" stroke="#7a7a7a" stroke-width="1" />
<line x1="404.81" y1="150.4" x2="404.81" y2="148.2" stroke="#7a7a7a" stroke-width="1" />
<line x1="404.81" y1="12.6" x2="404.81" y2="14.8" stroke="#7a7a7a" stroke-width="1" />
<line x1="426.98" y1="150.4" x2="426.98" y2="146.4" stroke="#7a7a7a" stroke-width="1" />
<line x1="426.98" y1="12.6" x2="426.98" y2="16.6" stroke="#7a7a7a" stroke-width="1" />
<line x1="449.14" y1="150.4" x2="449.14" y2="148.2" stroke="#7a7a7a" stroke-width="1" />
<line x1="449.14" y1="12.6" x2="449.14" y2="14.8" stroke="#7a7a7a" stroke-width="1" />
<line x1="471.3" y1="150.4" x2="471.3" y2="146.4" stroke="#7a7a7a" stroke-width="1" />
<line x1="471.3" y1="12.6" x2="471.3" y2="16.6" stroke="#7a7a7a" stroke-width="1" />
<text x="287" y="154.3" font-family="Liberation Serif" font-size="13.5" fill="#000" text-anchor="end" >0</text>
<text x="287" y="109.94" font-family="Liberation Serif" font-size="13.5" fill="#000" text-anchor="end" >20</text>
<text x="287" y="65.58" font-family="Liberation Serif" font-size="13.5" fill="#000" text-anchor="end" >40</text>
<text x="287" y="21.22" font-family="Liberation Serif" font-size="13.5" fill="#000" text-anchor="end" >60</text>
<text x="294" y="167.4" font-family="Liberation Serif" font-size="13.5" fill="#000" text-anchor="middle" >0</text>
<text x="338.32" y="167.4" font-family="Liberation Serif" font-size="13.5" fill="#000" text-anchor="middle" >2</text>
<text x="382.65" y="167.4" font-family="Liberation Serif" font-size="13.5" fill="#000" text-anchor="middle" >4</text>
<text x="426.98" y="167.4" font-family="Liberation Serif" font-size="13.5" fill="#000" text-anchor="middle" >6</text>
<text x="381.7" y="186.5" font-family="Liberation Serif" font-size="13.5" fill="#000" text-anchor="middle" textLength="92" lengthAdjust="spacingAndGlyphs" >Interaction <tspan font-style="italic">U</tspan>/<tspan font-style="italic">W</tspan></text>
<text x="263.7" y="80.3" font-family="Liberation Serif" font-size="13.5" fill="#000" text-anchor="middle" textLength="117.5" lengthAdjust="spacingAndGlyphs" transform="rotate(-90 263.7 80.3)" >Edge-edge correlation</text>
<text x="254" y="9.6" font-family="Liberation Serif" font-size="14" fill="#000" text-anchor="start" font-weight="bold" >B</text>
<text x="372.2" y="24.8" font-family="Liberation Serif" font-size="10.5" fill="#000" text-anchor="start" textLength="77.5" lengthAdjust="spacingAndGlyphs" ><tspan font-style="italic">S</tspan> = 1 Heisenberg</text>
<rect x="383.2" y="61.4" width="78.1" height="60.5" fill="#fff" stroke="none" stroke-width="1" />
<rect x="383.2" y="61.4" width="34.75" height="60.5" fill="#fbeee3" stroke="none" stroke-width="1" />
<clipPath id="clipI"><rect x="383.2" y="61.4" width="78.10000000000002" height="60.50000000000001"/></clipPath>
<g clip-path="url(#clipI)">
<line x1="383.2" y1="121.9" x2="383.98" y2="121.17" stroke="#3f9fdc" stroke-width="1.2" stroke-linecap="round"/>
<line x1="383.98" y1="121.17" x2="384.76" y2="120.45" stroke="#3f9fdc" stroke-width="1.2" stroke-linecap="round"/>
<line x1="384.76" y1="120.45" x2="385.54" y2="119.83" stroke="#3f9fdc" stroke-width="1.2" stroke-linecap="round"/>
<line x1="385.54" y1="119.83" x2="386.32" y2="119.31" stroke="#3f9fdc" stroke-width="1.2" stroke-linecap="round"/>
<line x1="386.32" y1="119.31" x2="387.11" y2="118.79" stroke="#3f9fdc" stroke-width="1.2" stroke-linecap="round"/>
<line x1="387.11" y1="118.79" x2="387.89" y2="118.27" stroke="#3f9fdc" stroke-width="1.2" stroke-linecap="round"/>
<line x1="387.89" y1="118.27" x2="388.67" y2="117.75" stroke="#3f9fdc" stroke-width="1.2" stroke-linecap="round"/>
<line x1="388.67" y1="117.75" x2="389.45" y2="117.23" stroke="#3f9fdc" stroke-width="1.2" stroke-linecap="round"/>
<line x1="389.45" y1="117.23" x2="390.23" y2="116.71" stroke="#3f9fdc" stroke-width="1.2" stroke-linecap="round"/>
<line x1="390.23" y1="116.71" x2="391.01" y2="116.16" stroke="#3f9fdc" stroke-width="1.2" stroke-linecap="round"/>
<line x1="391.01" y1="116.16" x2="391.79" y2="115.56" stroke="#3f9fdc" stroke-width="1.2" stroke-linecap="round"/>
<line x1="391.79" y1="115.56" x2="392.57" y2="114.96" stroke="#3f9fdc" stroke-width="1.2" stroke-linecap="round"/>
<line x1="392.57" y1="114.96" x2="393.35" y2="114.37" stroke="#3f9fdc" stroke-width="1.2" stroke-linecap="round"/>
<line x1="393.35" y1="114.37" x2="394.13" y2="113.77" stroke="#3f9fdc" stroke-width="1.2" stroke-linecap="round"/>
<line x1="394.13" y1="113.77" x2="394.91" y2="113.17" stroke="#3f9fdc" stroke-width="1.2" stroke-linecap="round"/>
<line x1="394.91" y1="113.17" x2="395.7" y2="112.57" stroke="#3f9fdc" stroke-width="1.2" stroke-linecap="round"/>
<line x1="395.7" y1="112.57" x2="396.48" y2="111.98" stroke="#3f9fdc" stroke-width="1.2" stroke-linecap="round"/>
<line x1="396.48" y1="111.98" x2="397.26" y2="111.19" stroke="#3f9fdc" stroke-width="1.2" stroke-linecap="round"/>
<line x1="397.26" y1="111.19" x2="398.04" y2="110.4" stroke="#3f9fdc" stroke-width="1.2" stroke-linecap="round"/>
<line x1="398.04" y1="110.4" x2="398.82" y2="109.61" stroke="#3f9fdc" stroke-width="1.2" stroke-linecap="round"/>
<line x1="398.82" y1="109.61" x2="399.6" y2="108.82" stroke="#3f9fdc" stroke-width="1.2" stroke-linecap="round"/>
<line x1="399.6" y1="108.82" x2="400.38" y2="108.03" stroke="#3f9fdc" stroke-width="1.2" stroke-linecap="round"/>
<line x1="400.38" y1="108.03" x2="401.16" y2="107.23" stroke="#3f9fdc" stroke-width="1.2" stroke-linecap="round"/>
<line x1="401.16" y1="107.23" x2="401.94" y2="106.44" stroke="#3f9fdc" stroke-width="1.2" stroke-linecap="round"/>
<line x1="401.94" y1="106.44" x2="402.73" y2="105.54" stroke="#3f9fdc" stroke-width="1.2" stroke-linecap="round"/>
<line x1="402.73" y1="105.54" x2="403.51" y2="104.54" stroke="#3f9fdc" stroke-width="1.2" stroke-linecap="round"/>
<line x1="403.51" y1="104.54" x2="404.29" y2="103.53" stroke="#3f9fdc" stroke-width="1.2" stroke-linecap="round"/>
<line x1="404.29" y1="103.53" x2="405.07" y2="102.52" stroke="#3f9fdc" stroke-width="1.2" stroke-linecap="round"/>
<line x1="405.07" y1="102.52" x2="405.85" y2="101.51" stroke="#3f9fdc" stroke-width="1.2" stroke-linecap="round"/>
<line x1="405.85" y1="101.51" x2="406.63" y2="100.5" stroke="#3f9fdc" stroke-width="1.2" stroke-linecap="round"/>
<line x1="406.63" y1="100.5" x2="407.41" y2="99.32" stroke="#3f9fdc" stroke-width="1.2" stroke-linecap="round"/>
<line x1="407.41" y1="99.32" x2="408.19" y2="97.95" stroke="#3f9fdc" stroke-width="1.2" stroke-linecap="round"/>
<line x1="408.19" y1="97.95" x2="408.97" y2="96.59" stroke="#3f9fdc" stroke-width="1.2" stroke-linecap="round"/>
<line x1="408.97" y1="96.59" x2="409.75" y2="95.22" stroke="#3f9fdc" stroke-width="1.2" stroke-linecap="round"/>
<line x1="409.75" y1="95.22" x2="410.54" y2="93.86" stroke="#3f9fdc" stroke-width="1.2" stroke-linecap="round"/>
<line x1="410.54" y1="93.86" x2="411.32" y2="92.5" stroke="#3f9fdc" stroke-width="1.2" stroke-linecap="round"/>
<line x1="411.32" y1="92.5" x2="412.1" y2="91.49" stroke="#3f9fdc" stroke-width="1.2" stroke-linecap="round"/>
<line x1="412.1" y1="91.49" x2="412.88" y2="90.48" stroke="#3f9fdc" stroke-width="1.2" stroke-linecap="round"/>
<line x1="412.88" y1="90.48" x2="413.66" y2="89.47" stroke="#3f9fdc" stroke-width="1.2" stroke-linecap="round"/>
<line x1="413.66" y1="89.47" x2="414.44" y2="88.46" stroke="#3f9fdc" stroke-width="1.2" stroke-linecap="round"/>
<line x1="414.44" y1="88.46" x2="415.22" y2="87.46" stroke="#3f9fdc" stroke-width="1.2" stroke-linecap="round"/>
<line x1="415.22" y1="87.46" x2="416" y2="86.45" stroke="#3f9fdc" stroke-width="1.2" stroke-linecap="round"/>
<line x1="416" y1="86.45" x2="416.78" y2="85.7" stroke="#3f9fdc" stroke-width="1.2" stroke-linecap="round"/>
<line x1="416.78" y1="85.7" x2="417.56" y2="84.95" stroke="#3f9fdc" stroke-width="1.2" stroke-linecap="round"/>
<line x1="417.56" y1="84.95" x2="418.35" y2="84.2" stroke="#1d4070" stroke-width="1.2" stroke-linecap="round"/>
<line x1="418.35" y1="84.2" x2="419.13" y2="83.45" stroke="#1d3f6f" stroke-width="1.2" stroke-linecap="round"/>
<line x1="419.13" y1="83.45" x2="419.91" y2="82.7" stroke="#1d3f6f" stroke-width="1.2" stroke-linecap="round"/>
<line x1="419.91" y1="82.7" x2="420.69" y2="81.86" stroke="#1d3f6e" stroke-width="1.2" stroke-linecap="round"/>
<line x1="420.69" y1="81.86" x2="421.47" y2="81.03" stroke="#1d3e6e" stroke-width="1.2" stroke-linecap="round"/>
<line x1="421.47" y1="81.03" x2="422.25" y2="80.2" stroke="#1d3e6e" stroke-width="1.2" stroke-linecap="round"/>
<line x1="422.25" y1="80.2" x2="423.03" y2="79.36" stroke="#1d3e6d" stroke-width="1.2" stroke-linecap="round"/>
<line x1="423.03" y1="79.36" x2="423.81" y2="78.69" stroke="#1c3d6d" stroke-width="1.2" stroke-linecap="round"/>
<line x1="423.81" y1="78.69" x2="424.59" y2="78.19" stroke="#1c3d6c" stroke-width="1.2" stroke-linecap="round"/>
<line x1="424.59" y1="78.19" x2="425.37" y2="77.69" stroke="#1c3d6c" stroke-width="1.2" stroke-linecap="round"/>
<line x1="425.37" y1="77.69" x2="426.15" y2="77.19" stroke="#1c3c6c" stroke-width="1.2" stroke-linecap="round"/>
<line x1="426.15" y1="77.19" x2="426.94" y2="76.69" stroke="#1c3c6b" stroke-width="1.2" stroke-linecap="round"/>
<line x1="426.94" y1="76.69" x2="427.72" y2="76.19" stroke="#1c3c6b" stroke-width="1.2" stroke-linecap="round"/>
<line x1="427.72" y1="76.19" x2="428.5" y2="75.69" stroke="#1c3b6a" stroke-width="1.2" stroke-linecap="round"/>
<line x1="428.5" y1="75.69" x2="429.28" y2="75.19" stroke="#1c3b6a" stroke-width="1.2" stroke-linecap="round"/>
<line x1="429.28" y1="75.19" x2="430.06" y2="74.91" stroke="#1c3b6a" stroke-width="1.2" stroke-linecap="round"/>
<line x1="430.06" y1="74.91" x2="430.84" y2="74.63" stroke="#1c3a69" stroke-width="1.2" stroke-linecap="round"/>
<line x1="430.84" y1="74.63" x2="431.62" y2="74.35" stroke="#1c3a69" stroke-width="1.2" stroke-linecap="round"/>
<line x1="431.62" y1="74.35" x2="432.4" y2="74.07" stroke="#1c3a68" stroke-width="1.2" stroke-linecap="round"/>
<line x1="432.4" y1="74.07" x2="433.18" y2="73.79" stroke="#1c3968" stroke-width="1.2" stroke-linecap="round"/>
<line x1="433.18" y1="73.79" x2="433.97" y2="73.51" stroke="#1c3968" stroke-width="1.2" stroke-linecap="round"/>
<line x1="433.97" y1="73.51" x2="434.75" y2="73.23" stroke="#1b3967" stroke-width="1.2" stroke-linecap="round"/>
<line x1="434.75" y1="73.23" x2="435.53" y2="72.95" stroke="#1b3867" stroke-width="1.2" stroke-linecap="round"/>
<line x1="435.53" y1="72.95" x2="436.31" y2="72.67" stroke="#1b3866" stroke-width="1.2" stroke-linecap="round"/>
<line x1="436.31" y1="72.67" x2="437.09" y2="72.44" stroke="#1b3866" stroke-width="1.2" stroke-linecap="round"/>
<line x1="437.09" y1="72.44" x2="437.87" y2="72.25" stroke="#1b3766" stroke-width="1.2" stroke-linecap="round"/>
<line x1="437.87" y1="72.25" x2="438.65" y2="72.06" stroke="#1b3765" stroke-width="1.2" stroke-linecap="round"/>
<line x1="438.65" y1="72.06" x2="439.43" y2="71.87" stroke="#1b3765" stroke-width="1.2" stroke-linecap="round"/>
<line x1="439.43" y1="71.87" x2="440.21" y2="71.69" stroke="#1b3664" stroke-width="1.2" stroke-linecap="round"/>
<line x1="440.21" y1="71.69" x2="440.99" y2="71.5" stroke="#1b3664" stroke-width="1.2" stroke-linecap="round"/>
<line x1="440.99" y1="71.5" x2="441.77" y2="71.31" stroke="#1b3664" stroke-width="1.2" stroke-linecap="round"/>
<line x1="441.77" y1="71.31" x2="442.56" y2="71.12" stroke="#1b3563" stroke-width="1.2" stroke-linecap="round"/>
<line x1="442.56" y1="71.12" x2="443.34" y2="70.93" stroke="#1b3563" stroke-width="1.2" stroke-linecap="round"/>
<line x1="443.34" y1="70.93" x2="444.12" y2="70.74" stroke="#1b3562" stroke-width="1.2" stroke-linecap="round"/>
<line x1="444.12" y1="70.74" x2="444.9" y2="70.56" stroke="#1b3462" stroke-width="1.2" stroke-linecap="round"/>
<line x1="444.9" y1="70.56" x2="445.68" y2="70.37" stroke="#1a3462" stroke-width="1.2" stroke-linecap="round"/>
<line x1="445.68" y1="70.37" x2="446.46" y2="70.18" stroke="#1a3461" stroke-width="1.2" stroke-linecap="round"/>
<line x1="446.46" y1="70.18" x2="447.24" y2="69.99" stroke="#1a3361" stroke-width="1.2" stroke-linecap="round"/>
<line x1="447.24" y1="69.99" x2="448.02" y2="69.89" stroke="#1a3360" stroke-width="1.2" stroke-linecap="round"/>
<line x1="448.02" y1="69.89" x2="448.8" y2="69.79" stroke="#1a3360" stroke-width="1.2" stroke-linecap="round"/>
<line x1="448.8" y1="69.79" x2="449.59" y2="69.69" stroke="#1a3260" stroke-width="1.2" stroke-linecap="round"/>
<line x1="449.59" y1="69.69" x2="450.37" y2="69.59" stroke="#1a325f" stroke-width="1.2" stroke-linecap="round"/>
<line x1="450.37" y1="69.59" x2="451.15" y2="69.49" stroke="#1a325f" stroke-width="1.2" stroke-linecap="round"/>
<line x1="451.15" y1="69.49" x2="451.93" y2="69.39" stroke="#1a315e" stroke-width="1.2" stroke-linecap="round"/>
<line x1="451.93" y1="69.39" x2="452.71" y2="69.29" stroke="#1a315e" stroke-width="1.2" stroke-linecap="round"/>
<line x1="452.71" y1="69.29" x2="453.49" y2="69.18" stroke="#1a315e" stroke-width="1.2" stroke-linecap="round"/>
<line x1="453.49" y1="69.18" x2="454.27" y2="69.08" stroke="#1a315d" stroke-width="1.2" stroke-linecap="round"/>
<line x1="454.27" y1="69.08" x2="455.05" y2="68.98" stroke="#1a305d" stroke-width="1.2" stroke-linecap="round"/>
<line x1="455.05" y1="68.98" x2="455.83" y2="68.88" stroke="#1a305c" stroke-width="1.2" stroke-linecap="round"/>
<line x1="455.83" y1="68.88" x2="456.61" y2="68.78" stroke="#1a305c" stroke-width="1.2" stroke-linecap="round"/>
<line x1="456.61" y1="68.78" x2="457.39" y2="68.68" stroke="#192f5c" stroke-width="1.2" stroke-linecap="round"/>
<line x1="457.39" y1="68.68" x2="458.18" y2="68.58" stroke="#192f5b" stroke-width="1.2" stroke-linecap="round"/>
<line x1="458.18" y1="68.58" x2="458.96" y2="68.48" stroke="#192f5b" stroke-width="1.2" stroke-linecap="round"/>
<line x1="458.96" y1="68.48" x2="459.74" y2="68.38" stroke="#192f5a" stroke-width="1.2" stroke-linecap="round"/>
<line x1="459.74" y1="68.38" x2="460.52" y2="68.28" stroke="#192e5a" stroke-width="1.2" stroke-linecap="round"/>
<line x1="460.52" y1="68.28" x2="461.3" y2="68.18" stroke="#192e5a" stroke-width="1.2" stroke-linecap="round"/>
<line x1="383.2" y1="90.2" x2="385.15" y2="90.24" stroke="#45aee6" stroke-width="1.7" />
<line x1="387.11" y1="90.28" x2="389.06" y2="90.32" stroke="#45aee6" stroke-width="1.7" />
<line x1="391.01" y1="90.36" x2="392.96" y2="90.4" stroke="#45aee6" stroke-width="1.7" />
<line x1="394.92" y1="90.44" x2="396.87" y2="90.22" stroke="#45aee6" stroke-width="1.7" />
<line x1="398.82" y1="89.99" x2="400.77" y2="89.77" stroke="#45aee6" stroke-width="1.7" />
<line x1="402.73" y1="89.5" x2="404.68" y2="89.05" stroke="#45aee6" stroke-width="1.7" />
<line x1="406.63" y1="88.59" x2="408.58" y2="88.14" stroke="#45aee6" stroke-width="1.7" />
<line x1="410.54" y1="87.65" x2="412.49" y2="87" stroke="#45aee6" stroke-width="1.7" />
<line x1="414.44" y1="86.36" x2="416.39" y2="85.52" stroke="#45aee6" stroke-width="1.7" />
<line x1="418.35" y1="83.88" x2="420.3" y2="82.16" stroke="#1a2450" stroke-width="1.7" />
<line x1="422.25" y1="80.07" x2="424.2" y2="78.32" stroke="#1a2450" stroke-width="1.7" />
<line x1="426.15" y1="77.07" x2="428.11" y2="75.82" stroke="#1a2450" stroke-width="1.7" />
<line x1="430.06" y1="74.79" x2="432.01" y2="74.09" stroke="#1a2450" stroke-width="1.7" />
<line x1="433.97" y1="73.39" x2="435.92" y2="72.69" stroke="#1a2450" stroke-width="1.7" />
<line x1="437.87" y1="72.13" x2="439.82" y2="71.66" stroke="#1a2450" stroke-width="1.7" />
<line x1="441.77" y1="71.19" x2="443.73" y2="70.72" stroke="#1a2450" stroke-width="1.7" />
<line x1="445.68" y1="70.25" x2="447.63" y2="69.82" stroke="#1a2450" stroke-width="1.7" />
<line x1="449.59" y1="69.57" x2="451.54" y2="69.32" stroke="#1a2450" stroke-width="1.7" />
<line x1="453.49" y1="69.06" x2="455.44" y2="68.81" stroke="#1a2450" stroke-width="1.7" />
<line x1="457.39" y1="68.56" x2="459.35" y2="68.31" stroke="#1a2450" stroke-width="1.7" />
</g>
<rect x="383.2" y="61.4" width="78.1" height="60.5" fill="none" stroke="#000" stroke-width="1.4" />
<line x1="383.2" y1="121.9" x2="387.2" y2="121.9" stroke="#000" stroke-width="1.2" />
<line x1="461.3" y1="121.9" x2="457.3" y2="121.9" stroke="#000" stroke-width="1.2" />
<text x="379.7" y="125.1" font-family="Liberation Serif" font-size="10.5" fill="#000" text-anchor="end">10<tspan font-size="7.3" dy="-4.2">−3</tspan></text>
<line x1="383.2" y1="109.8" x2="387.2" y2="109.8" stroke="#000" stroke-width="1.2" />
<line x1="461.3" y1="109.8" x2="457.3" y2="109.8" stroke="#000" stroke-width="1.2" />
<text x="379.7" y="113" font-family="Liberation Serif" font-size="10.5" fill="#000" text-anchor="end">10<tspan font-size="7.3" dy="-4.2">−2</tspan></text>
<line x1="383.2" y1="97.7" x2="387.2" y2="97.7" stroke="#000" stroke-width="1.2" />
<line x1="461.3" y1="97.7" x2="457.3" y2="97.7" stroke="#000" stroke-width="1.2" />
<text x="379.7" y="100.9" font-family="Liberation Serif" font-size="10.5" fill="#000" text-anchor="end">10<tspan font-size="7.3" dy="-4.2">−1</tspan></text>
<line x1="383.2" y1="85.6" x2="387.2" y2="85.6" stroke="#000" stroke-width="1.2" />
<line x1="461.3" y1="85.6" x2="457.3" y2="85.6" stroke="#000" stroke-width="1.2" />
<text x="379.7" y="88.8" font-family="Liberation Serif" font-size="10.5" fill="#000" text-anchor="end">10<tspan font-size="7.3" dy="-4.2">0</tspan></text>
<line x1="383.2" y1="73.5" x2="387.2" y2="73.5" stroke="#000" stroke-width="1.2" />
<line x1="461.3" y1="73.5" x2="457.3" y2="73.5" stroke="#000" stroke-width="1.2" />
<text x="379.7" y="76.7" font-family="Liberation Serif" font-size="10.5" fill="#000" text-anchor="end">10<tspan font-size="7.3" dy="-4.2">1</tspan></text>
<text x="379.7" y="64.6" font-family="Liberation Serif" font-size="10.5" fill="#000" text-anchor="end">10<tspan font-size="7.3" dy="-4.2">2</tspan></text>
<line x1="402.73" y1="121.9" x2="402.73" y2="119.9" stroke="#000" stroke-width="1.1" />
<line x1="422.25" y1="121.9" x2="422.25" y2="118.4" stroke="#000" stroke-width="1.1" />
<line x1="441.77" y1="121.9" x2="441.77" y2="119.9" stroke="#000" stroke-width="1.1" />
<text x="383.2" y="132.3" font-family="Liberation Serif" font-size="10.5" fill="#000" text-anchor="middle" >0</text>
<text x="422.25" y="132.3" font-family="Liberation Serif" font-size="10.5" fill="#000" text-anchor="middle" >1</text>
<text x="461.3" y="132.3" font-family="Liberation Serif" font-size="10.5" fill="#000" text-anchor="middle" >2</text>
<text x="422" y="140.8" font-family="Liberation Serif" font-size="10.5" fill="#000" text-anchor="middle" textLength="75" lengthAdjust="spacingAndGlyphs" >Interaction <tspan font-style="italic">U</tspan>/<tspan font-style="italic">W</tspan></text>
<text x="392" y="84.7" font-family="Liberation Serif" font-size="11" fill="#000" text-anchor="start" textLength="20.7" lengthAdjust="spacingAndGlyphs" >local</text>
<text x="420.2" y="100.5" font-family="Liberation Serif" font-size="11" fill="#000" text-anchor="middle" textLength="43" lengthAdjust="spacingAndGlyphs" transform="rotate(-48.4 420.2 100.5)" >edge-edge</text>
<g clip-path="url(#clipBR)">
<line x1="476.1" y1="150.5" x2="476.83" y2="150.43" stroke="#46b2e8" stroke-width="1.1" stroke-linecap="round"/>
<line x1="476.83" y1="150.43" x2="477.55" y2="150.35" stroke="#45b0e6" stroke-width="1.1" stroke-linecap="round"/>
<line x1="477.55" y1="150.35" x2="478.28" y2="150.28" stroke="#44aee5" stroke-width="1.1" stroke-linecap="round"/>
<line x1="478.28" y1="150.28" x2="479" y2="150.2" stroke="#44ace3" stroke-width="1.1" stroke-linecap="round"/>
<line x1="479" y1="150.2" x2="479.73" y2="150.13" stroke="#43aae2" stroke-width="1.1" stroke-linecap="round"/>
<line x1="479.73" y1="150.13" x2="480.46" y2="150.06" stroke="#42a8e0" stroke-width="1.1" stroke-linecap="round"/>
<line x1="480.46" y1="150.06" x2="481.18" y2="149.98" stroke="#41a6de" stroke-width="1.1" stroke-linecap="round"/>
<line x1="481.18" y1="149.98" x2="481.91" y2="149.91" stroke="#40a5dd" stroke-width="1.1" stroke-linecap="round"/>
<line x1="481.91" y1="149.91" x2="482.63" y2="149.83" stroke="#3fa3db" stroke-width="1.1" stroke-linecap="round"/>
<line x1="482.63" y1="149.83" x2="483.36" y2="149.76" stroke="#3ea1da" stroke-width="1.1" stroke-linecap="round"/>
<line x1="483.36" y1="149.76" x2="484.08" y2="149.69" stroke="#3e9fd8" stroke-width="1.1" stroke-linecap="round"/>
<line x1="484.08" y1="149.69" x2="484.81" y2="149.61" stroke="#3d9dd7" stroke-width="1.1" stroke-linecap="round"/>
<line x1="484.81" y1="149.61" x2="485.54" y2="149.2" stroke="#3c9bd5" stroke-width="1.1" stroke-linecap="round"/>
<line x1="485.54" y1="149.2" x2="486.26" y2="148.78" stroke="#3b99d3" stroke-width="1.1" stroke-linecap="round"/>
<line x1="486.26" y1="148.78" x2="486.99" y2="148.36" stroke="#3a97d2" stroke-width="1.1" stroke-linecap="round"/>
<line x1="486.99" y1="148.36" x2="487.71" y2="147.95" stroke="#3a95d0" stroke-width="1.1" stroke-linecap="round"/>
<line x1="487.71" y1="147.95" x2="488.44" y2="147.53" stroke="#3993cf" stroke-width="1.1" stroke-linecap="round"/>
<line x1="488.44" y1="147.53" x2="489.17" y2="146.79" stroke="#3891cd" stroke-width="1.1" stroke-linecap="round"/>
<line x1="489.17" y1="146.79" x2="489.89" y2="145.28" stroke="#3790cc" stroke-width="1.1" stroke-linecap="round"/>
<line x1="489.89" y1="145.28" x2="490.62" y2="143.78" stroke="#368eca" stroke-width="1.1" stroke-linecap="round"/>
<line x1="490.62" y1="143.78" x2="491.34" y2="142.27" stroke="#358cc8" stroke-width="1.1" stroke-linecap="round"/>
<line x1="491.34" y1="142.27" x2="492.07" y2="140.76" stroke="#348ac7" stroke-width="1.1" stroke-linecap="round"/>
<line x1="492.07" y1="140.76" x2="492.79" y2="139.25" stroke="#3488c5" stroke-width="1.1" stroke-linecap="round"/>
<line x1="492.79" y1="139.25" x2="493.52" y2="136.46" stroke="#3386c4" stroke-width="1.1" stroke-linecap="round"/>
<line x1="493.52" y1="136.46" x2="494.25" y2="132.82" stroke="#3284c2" stroke-width="1.1" stroke-linecap="round"/>
<line x1="494.25" y1="132.82" x2="494.97" y2="129.17" stroke="#3181bf" stroke-width="1.1" stroke-linecap="round"/>
<line x1="494.97" y1="129.17" x2="495.7" y2="125.53" stroke="#307fbc" stroke-width="1.1" stroke-linecap="round"/>
<line x1="495.7" y1="125.53" x2="496.42" y2="121.88" stroke="#2f7cb9" stroke-width="1.1" stroke-linecap="round"/>
<line x1="496.42" y1="121.88" x2="497.15" y2="118.23" stroke="#2e7ab6" stroke-width="1.1" stroke-linecap="round"/>
<line x1="497.15" y1="118.23" x2="497.88" y2="114.59" stroke="#2e77b2" stroke-width="1.1" stroke-linecap="round"/>
<line x1="497.88" y1="114.59" x2="498.6" y2="110.94" stroke="#2d74af" stroke-width="1.1" stroke-linecap="round"/>
<line x1="498.6" y1="110.94" x2="499.33" y2="108.76" stroke="#2c72ac" stroke-width="1.1" stroke-linecap="round"/>
<line x1="499.33" y1="108.76" x2="500.05" y2="106.93" stroke="#2b6fa9" stroke-width="1.1" stroke-linecap="round"/>
<line x1="500.05" y1="106.93" x2="500.78" y2="105.11" stroke="#2a6da6" stroke-width="1.1" stroke-linecap="round"/>
<line x1="500.78" y1="105.11" x2="501.5" y2="103.29" stroke="#296aa3" stroke-width="1.1" stroke-linecap="round"/>
<line x1="501.5" y1="103.29" x2="502.23" y2="102.81" stroke="#2867a0" stroke-width="1.1" stroke-linecap="round"/>
<line x1="502.23" y1="102.81" x2="502.96" y2="102.48" stroke="#27659c" stroke-width="1.1" stroke-linecap="round"/>
<line x1="502.96" y1="102.48" x2="503.68" y2="102.45" stroke="#266299" stroke-width="1.1" stroke-linecap="round"/>
<line x1="503.68" y1="102.45" x2="504.41" y2="103.62" stroke="#266096" stroke-width="1.1" stroke-linecap="round"/>
<line x1="504.41" y1="103.62" x2="505.13" y2="104.78" stroke="#255d93" stroke-width="1.1" stroke-linecap="round"/>
<line x1="505.13" y1="104.78" x2="505.86" y2="105.95" stroke="#245a90" stroke-width="1.1" stroke-linecap="round"/>
<line x1="505.86" y1="105.95" x2="506.59" y2="108.32" stroke="#23588d" stroke-width="1.1" stroke-linecap="round"/>
<line x1="506.59" y1="108.32" x2="507.31" y2="110.83" stroke="#22558a" stroke-width="1.1" stroke-linecap="round"/>
<line x1="507.31" y1="110.83" x2="508.04" y2="113.34" stroke="#215387" stroke-width="1.1" stroke-linecap="round"/>
<line x1="508.04" y1="113.34" x2="508.76" y2="115.84" stroke="#215084" stroke-width="1.1" stroke-linecap="round"/>
<line x1="508.76" y1="115.84" x2="509.49" y2="117.84" stroke="#204f82" stroke-width="1.1" stroke-linecap="round"/>
<line x1="509.49" y1="117.84" x2="510.21" y2="119.84" stroke="#204d80" stroke-width="1.1" stroke-linecap="round"/>
<line x1="510.21" y1="119.84" x2="510.94" y2="121.84" stroke="#1f4b7d" stroke-width="1.1" stroke-linecap="round"/>
<line x1="510.94" y1="121.84" x2="511.67" y2="123.85" stroke="#1f497b" stroke-width="1.1" stroke-linecap="round"/>
<line x1="511.67" y1="123.85" x2="512.39" y2="125.85" stroke="#1f4779" stroke-width="1.1" stroke-linecap="round"/>
<line x1="512.39" y1="125.85" x2="513.12" y2="127.56" stroke="#1e4576" stroke-width="1.1" stroke-linecap="round"/>
<line x1="513.12" y1="127.56" x2="513.84" y2="128.63" stroke="#1e4374" stroke-width="1.1" stroke-linecap="round"/>
<line x1="513.84" y1="128.63" x2="514.57" y2="129.69" stroke="#1d4172" stroke-width="1.1" stroke-linecap="round"/>
<line x1="514.57" y1="129.69" x2="515.29" y2="130.75" stroke="#1d3f6f" stroke-width="1.1" stroke-linecap="round"/>
<line x1="515.29" y1="130.75" x2="516.02" y2="131.81" stroke="#1c3d6d" stroke-width="1.1" stroke-linecap="round"/>
<line x1="516.02" y1="131.81" x2="516.75" y2="132.87" stroke="#1c3c6b" stroke-width="1.1" stroke-linecap="round"/>
<line x1="516.75" y1="132.87" x2="517.47" y2="133.93" stroke="#1c3a68" stroke-width="1.1" stroke-linecap="round"/>
<line x1="517.47" y1="133.93" x2="518.2" y2="134.99" stroke="#1b3866" stroke-width="1.1" stroke-linecap="round"/>
<line x1="518.2" y1="134.99" x2="518.92" y2="135.93" stroke="#1b3664" stroke-width="1.1" stroke-linecap="round"/>
<line x1="518.92" y1="135.93" x2="519.65" y2="136.41" stroke="#1a3461" stroke-width="1.1" stroke-linecap="round"/>
<line x1="519.65" y1="136.41" x2="520.38" y2="136.9" stroke="#1a325f" stroke-width="1.1" stroke-linecap="round"/>
<line x1="520.38" y1="136.9" x2="521.1" y2="137.38" stroke="#1a305d" stroke-width="1.1" stroke-linecap="round"/>
<line x1="521.1" y1="137.38" x2="521.83" y2="137.86" stroke="#192f5b" stroke-width="1.1" stroke-linecap="round"/>
<line x1="521.83" y1="137.86" x2="522.55" y2="138.34" stroke="#192d58" stroke-width="1.1" stroke-linecap="round"/>
<line x1="522.55" y1="138.34" x2="523.28" y2="138.82" stroke="#192b56" stroke-width="1.1" stroke-linecap="round"/>
<line x1="523.28" y1="138.82" x2="524" y2="139.3" stroke="#182a54" stroke-width="1.1" stroke-linecap="round"/>
<line x1="524" y1="139.3" x2="524.73" y2="139.78" stroke="#182851" stroke-width="1.1" stroke-linecap="round"/>
<line x1="524.73" y1="139.78" x2="525.46" y2="140.26" stroke="#18264f" stroke-width="1.1" stroke-linecap="round"/>
<line x1="525.46" y1="140.26" x2="526.18" y2="140.74" stroke="#17254d" stroke-width="1.1" stroke-linecap="round"/>
<line x1="526.18" y1="140.74" x2="526.91" y2="141.22" stroke="#17234b" stroke-width="1.1" stroke-linecap="round"/>
<line x1="526.91" y1="141.22" x2="527.63" y2="141.52" stroke="#172148" stroke-width="1.1" stroke-linecap="round"/>
<line x1="527.63" y1="141.52" x2="528.36" y2="141.63" stroke="#162046" stroke-width="1.1" stroke-linecap="round"/>
<line x1="528.36" y1="141.63" x2="529.09" y2="141.74" stroke="#161e44" stroke-width="1.1" stroke-linecap="round"/>
<line x1="529.09" y1="141.74" x2="529.81" y2="141.85" stroke="#181f45" stroke-width="1.1" stroke-linecap="round"/>
<line x1="529.81" y1="141.85" x2="530.54" y2="141.96" stroke="#1b1f45" stroke-width="1.1" stroke-linecap="round"/>
<line x1="530.54" y1="141.96" x2="531.26" y2="142.07" stroke="#1d2046" stroke-width="1.1" stroke-linecap="round"/>
<line x1="531.26" y1="142.07" x2="531.99" y2="142.18" stroke="#1f2047" stroke-width="1.1" stroke-linecap="round"/>
<line x1="531.99" y1="142.18" x2="532.72" y2="142.29" stroke="#212148" stroke-width="1.1" stroke-linecap="round"/>
<line x1="532.72" y1="142.29" x2="533.44" y2="142.4" stroke="#242248" stroke-width="1.1" stroke-linecap="round"/>
<line x1="533.44" y1="142.4" x2="534.17" y2="142.51" stroke="#262249" stroke-width="1.1" stroke-linecap="round"/>
<line x1="534.17" y1="142.51" x2="534.89" y2="142.62" stroke="#28234a" stroke-width="1.1" stroke-linecap="round"/>
<line x1="534.89" y1="142.62" x2="535.62" y2="142.73" stroke="#2a234a" stroke-width="1.1" stroke-linecap="round"/>
<line x1="535.62" y1="142.73" x2="536.34" y2="142.84" stroke="#2d244b" stroke-width="1.1" stroke-linecap="round"/>
<line x1="536.34" y1="142.84" x2="537.07" y2="142.96" stroke="#2f254c" stroke-width="1.1" stroke-linecap="round"/>
<line x1="537.07" y1="142.96" x2="537.8" y2="143.07" stroke="#31254d" stroke-width="1.1" stroke-linecap="round"/>
<line x1="537.8" y1="143.07" x2="538.52" y2="143.18" stroke="#33264d" stroke-width="1.1" stroke-linecap="round"/>
<line x1="538.52" y1="143.18" x2="539.25" y2="143.29" stroke="#36264e" stroke-width="1.1" stroke-linecap="round"/>
<line x1="539.25" y1="143.29" x2="539.97" y2="143.4" stroke="#38274f" stroke-width="1.1" stroke-linecap="round"/>
<line x1="539.97" y1="143.4" x2="540.7" y2="143.51" stroke="#3a284f" stroke-width="1.1" stroke-linecap="round"/>
<line x1="540.7" y1="143.51" x2="541.42" y2="143.62" stroke="#3d2850" stroke-width="1.1" stroke-linecap="round"/>
<line x1="541.42" y1="143.62" x2="542.15" y2="143.73" stroke="#40294f" stroke-width="1.1" stroke-linecap="round"/>
<line x1="542.15" y1="143.73" x2="542.88" y2="143.84" stroke="#43294f" stroke-width="1.1" stroke-linecap="round"/>
<line x1="542.88" y1="143.84" x2="543.6" y2="143.95" stroke="#472a4e" stroke-width="1.1" stroke-linecap="round"/>
<line x1="543.6" y1="143.95" x2="544.33" y2="144.06" stroke="#4a2a4e" stroke-width="1.1" stroke-linecap="round"/>
<line x1="544.33" y1="144.06" x2="545.05" y2="144.17" stroke="#4d2a4e" stroke-width="1.1" stroke-linecap="round"/>
<line x1="545.05" y1="144.17" x2="545.78" y2="144.28" stroke="#512b4d" stroke-width="1.1" stroke-linecap="round"/>
<line x1="545.78" y1="144.28" x2="546.51" y2="144.33" stroke="#542b4d" stroke-width="1.1" stroke-linecap="round"/>
<line x1="546.51" y1="144.33" x2="547.23" y2="144.39" stroke="#572c4c" stroke-width="1.1" stroke-linecap="round"/>
<line x1="547.23" y1="144.39" x2="547.96" y2="144.45" stroke="#5b2c4c" stroke-width="1.1" stroke-linecap="round"/>
<line x1="547.96" y1="144.45" x2="548.68" y2="144.5" stroke="#5e2d4b" stroke-width="1.1" stroke-linecap="round"/>
<line x1="548.68" y1="144.5" x2="549.41" y2="144.56" stroke="#612d4b" stroke-width="1.1" stroke-linecap="round"/>
<line x1="549.41" y1="144.56" x2="550.13" y2="144.61" stroke="#652e4a" stroke-width="1.1" stroke-linecap="round"/>
<line x1="550.13" y1="144.61" x2="550.86" y2="144.67" stroke="#682e4a" stroke-width="1.1" stroke-linecap="round"/>
<line x1="550.86" y1="144.67" x2="551.59" y2="144.72" stroke="#6b2f49" stroke-width="1.1" stroke-linecap="round"/>
<line x1="551.59" y1="144.72" x2="552.31" y2="144.78" stroke="#6f2f49" stroke-width="1.1" stroke-linecap="round"/>
<line x1="552.31" y1="144.78" x2="553.04" y2="144.83" stroke="#723048" stroke-width="1.1" stroke-linecap="round"/>
<line x1="553.04" y1="144.83" x2="553.76" y2="144.89" stroke="#763048" stroke-width="1.1" stroke-linecap="round"/>
<line x1="553.76" y1="144.89" x2="554.49" y2="144.95" stroke="#7a3147" stroke-width="1.1" stroke-linecap="round"/>
<line x1="554.49" y1="144.95" x2="555.22" y2="145" stroke="#7e3246" stroke-width="1.1" stroke-linecap="round"/>
<line x1="555.22" y1="145" x2="555.94" y2="145.06" stroke="#823245" stroke-width="1.1" stroke-linecap="round"/>
<line x1="555.94" y1="145.06" x2="556.67" y2="145.11" stroke="#863344" stroke-width="1.1" stroke-linecap="round"/>
<line x1="556.67" y1="145.11" x2="557.39" y2="145.17" stroke="#8a3443" stroke-width="1.1" stroke-linecap="round"/>
<line x1="557.39" y1="145.17" x2="558.12" y2="145.22" stroke="#8f3442" stroke-width="1.1" stroke-linecap="round"/>
<line x1="558.12" y1="145.22" x2="558.85" y2="145.28" stroke="#933541" stroke-width="1.1" stroke-linecap="round"/>
<line x1="558.85" y1="145.28" x2="559.57" y2="145.33" stroke="#973640" stroke-width="1.1" stroke-linecap="round"/>
<line x1="559.57" y1="145.33" x2="560.3" y2="145.39" stroke="#9b373f" stroke-width="1.1" stroke-linecap="round"/>
<line x1="560.3" y1="145.39" x2="561.02" y2="145.45" stroke="#9f373e" stroke-width="1.1" stroke-linecap="round"/>
<line x1="561.02" y1="145.45" x2="561.75" y2="145.5" stroke="#a4383d" stroke-width="1.1" stroke-linecap="round"/>
<line x1="561.75" y1="145.5" x2="562.47" y2="145.56" stroke="#a8393c" stroke-width="1.1" stroke-linecap="round"/>
<line x1="562.47" y1="145.56" x2="563.2" y2="145.61" stroke="#ac393b" stroke-width="1.1" stroke-linecap="round"/>
<line x1="563.2" y1="145.61" x2="563.93" y2="145.65" stroke="#b03a3a" stroke-width="1.1" stroke-linecap="round"/>
<line x1="563.93" y1="145.65" x2="564.65" y2="145.69" stroke="#b33a39" stroke-width="1.1" stroke-linecap="round"/>
<line x1="564.65" y1="145.69" x2="565.38" y2="145.73" stroke="#b53b39" stroke-width="1.1" stroke-linecap="round"/>
<line x1="565.38" y1="145.73" x2="566.1" y2="145.77" stroke="#b83b38" stroke-width="1.1" stroke-linecap="round"/>
<line x1="566.1" y1="145.77" x2="566.83" y2="145.81" stroke="#ba3c37" stroke-width="1.1" stroke-linecap="round"/>
<line x1="566.83" y1="145.81" x2="567.55" y2="145.85" stroke="#bd3c36" stroke-width="1.1" stroke-linecap="round"/>
<line x1="567.55" y1="145.85" x2="568.28" y2="145.89" stroke="#c03d36" stroke-width="1.1" stroke-linecap="round"/>
<line x1="568.28" y1="145.89" x2="569.01" y2="145.93" stroke="#c23d35" stroke-width="1.1" stroke-linecap="round"/>
<line x1="569.01" y1="145.93" x2="569.73" y2="145.97" stroke="#c53e34" stroke-width="1.1" stroke-linecap="round"/>
<line x1="569.73" y1="145.97" x2="570.46" y2="146.01" stroke="#c83e34" stroke-width="1.1" stroke-linecap="round"/>
<line x1="570.46" y1="146.01" x2="571.18" y2="146.05" stroke="#ca3f33" stroke-width="1.1" stroke-linecap="round"/>
<line x1="571.18" y1="146.05" x2="571.91" y2="146.09" stroke="#cd3f32" stroke-width="1.1" stroke-linecap="round"/>
<line x1="571.91" y1="146.09" x2="572.64" y2="146.13" stroke="#cf4031" stroke-width="1.1" stroke-linecap="round"/>
<line x1="572.64" y1="146.13" x2="573.36" y2="146.17" stroke="#d24031" stroke-width="1.1" stroke-linecap="round"/>
<line x1="573.36" y1="146.17" x2="574.09" y2="146.2" stroke="#d54130" stroke-width="1.1" stroke-linecap="round"/>
<line x1="574.09" y1="146.2" x2="574.81" y2="146.24" stroke="#d7412f" stroke-width="1.1" stroke-linecap="round"/>
<line x1="574.81" y1="146.24" x2="575.54" y2="146.28" stroke="#da422f" stroke-width="1.1" stroke-linecap="round"/>
<line x1="575.54" y1="146.28" x2="576.26" y2="146.32" stroke="#dc422e" stroke-width="1.1" stroke-linecap="round"/>
<line x1="576.26" y1="146.32" x2="576.99" y2="146.36" stroke="#dd432e" stroke-width="1.1" stroke-linecap="round"/>
<line x1="576.99" y1="146.36" x2="577.72" y2="146.4" stroke="#de442d" stroke-width="1.1" stroke-linecap="round"/>
<line x1="577.72" y1="146.4" x2="578.44" y2="146.44" stroke="#df442d" stroke-width="1.1" stroke-linecap="round"/>
<line x1="578.44" y1="146.44" x2="579.17" y2="146.48" stroke="#e0452d" stroke-width="1.1" stroke-linecap="round"/>
<line x1="579.17" y1="146.48" x2="579.89" y2="146.52" stroke="#e1462d" stroke-width="1.1" stroke-linecap="round"/>
<line x1="579.89" y1="146.52" x2="580.62" y2="146.56" stroke="#e2462c" stroke-width="1.1" stroke-linecap="round"/>
<line x1="580.62" y1="146.56" x2="581.35" y2="146.6" stroke="#e3472c" stroke-width="1.1" stroke-linecap="round"/>
<line x1="581.35" y1="146.6" x2="582.07" y2="146.64" stroke="#e4482c" stroke-width="1.1" stroke-linecap="round"/>
<line x1="582.07" y1="146.64" x2="582.8" y2="146.68" stroke="#e5482b" stroke-width="1.1" stroke-linecap="round"/>
<line x1="582.8" y1="146.68" x2="583.52" y2="146.72" stroke="#e6492b" stroke-width="1.1" stroke-linecap="round"/>
<line x1="583.52" y1="146.72" x2="584.25" y2="146.76" stroke="#e74a2b" stroke-width="1.1" stroke-linecap="round"/>
<line x1="584.25" y1="146.76" x2="584.98" y2="146.8" stroke="#e84a2b" stroke-width="1.1" stroke-linecap="round"/>
<line x1="584.98" y1="146.8" x2="585.7" y2="146.83" stroke="#e94b2a" stroke-width="1.1" stroke-linecap="round"/>
<line x1="585.7" y1="146.83" x2="586.43" y2="146.86" stroke="#ea4c2a" stroke-width="1.1" stroke-linecap="round"/>
<line x1="586.43" y1="146.86" x2="587.15" y2="146.89" stroke="#ea4d2a" stroke-width="1.1" stroke-linecap="round"/>
<line x1="587.15" y1="146.89" x2="587.88" y2="146.92" stroke="#ea4e2a" stroke-width="1.1" stroke-linecap="round"/>
<line x1="587.88" y1="146.92" x2="588.6" y2="146.95" stroke="#ea502a" stroke-width="1.1" stroke-linecap="round"/>
<line x1="588.6" y1="146.95" x2="589.33" y2="146.97" stroke="#ea512a" stroke-width="1.1" stroke-linecap="round"/>
<line x1="589.33" y1="146.97" x2="590.06" y2="147" stroke="#ea522a" stroke-width="1.1" stroke-linecap="round"/>
<line x1="590.06" y1="147" x2="590.78" y2="147.03" stroke="#ea542a" stroke-width="1.1" stroke-linecap="round"/>
<line x1="590.78" y1="147.03" x2="591.51" y2="147.06" stroke="#ea552a" stroke-width="1.1" stroke-linecap="round"/>
<line x1="591.51" y1="147.06" x2="592.23" y2="147.09" stroke="#e9562a" stroke-width="1.1" stroke-linecap="round"/>
<line x1="592.23" y1="147.09" x2="592.96" y2="147.12" stroke="#e9582a" stroke-width="1.1" stroke-linecap="round"/>
<line x1="592.96" y1="147.12" x2="593.68" y2="147.15" stroke="#e9592a" stroke-width="1.1" stroke-linecap="round"/>
<line x1="593.68" y1="147.15" x2="594.41" y2="147.18" stroke="#e95a2a" stroke-width="1.1" stroke-linecap="round"/>
<line x1="594.41" y1="147.18" x2="595.14" y2="147.21" stroke="#e95c2a" stroke-width="1.1" stroke-linecap="round"/>
<line x1="595.14" y1="147.21" x2="595.86" y2="147.24" stroke="#e95d2a" stroke-width="1.1" stroke-linecap="round"/>
<line x1="595.86" y1="147.24" x2="596.59" y2="147.27" stroke="#e95e2a" stroke-width="1.1" stroke-linecap="round"/>
<line x1="596.59" y1="147.27" x2="597.31" y2="147.3" stroke="#e9602a" stroke-width="1.1" stroke-linecap="round"/>
<line x1="597.31" y1="147.3" x2="598.04" y2="147.33" stroke="#e9612a" stroke-width="1.1" stroke-linecap="round"/>
<line x1="598.04" y1="147.33" x2="598.77" y2="147.36" stroke="#e9622a" stroke-width="1.1" stroke-linecap="round"/>
<line x1="598.77" y1="147.36" x2="599.49" y2="147.39" stroke="#e9632a" stroke-width="1.1" stroke-linecap="round"/>
<line x1="599.49" y1="147.39" x2="600.22" y2="147.42" stroke="#e9652a" stroke-width="1.1" stroke-linecap="round"/>
<line x1="600.22" y1="147.42" x2="600.94" y2="147.45" stroke="#e9662a" stroke-width="1.1" stroke-linecap="round"/>
<line x1="600.94" y1="147.45" x2="601.67" y2="147.48" stroke="#e9672a" stroke-width="1.1" stroke-linecap="round"/>
<line x1="601.67" y1="147.48" x2="602.39" y2="147.51" stroke="#e8692a" stroke-width="1.1" stroke-linecap="round"/>
<line x1="602.39" y1="147.51" x2="603.12" y2="147.54" stroke="#e86a2a" stroke-width="1.1" stroke-linecap="round"/>
<line x1="603.12" y1="147.54" x2="603.85" y2="147.57" stroke="#e86b2a" stroke-width="1.1" stroke-linecap="round"/>
<line x1="603.85" y1="147.57" x2="604.57" y2="147.6" stroke="#e86d2a" stroke-width="1.1" stroke-linecap="round"/>
<line x1="604.57" y1="147.6" x2="605.3" y2="147.63" stroke="#e86e2a" stroke-width="1.1" stroke-linecap="round"/>
<line x1="605.3" y1="147.63" x2="606.02" y2="147.66" stroke="#e86f2a" stroke-width="1.1" stroke-linecap="round"/>
<line x1="606.02" y1="147.66" x2="606.75" y2="147.69" stroke="#e8712a" stroke-width="1.1" stroke-linecap="round"/>
<line x1="606.75" y1="147.69" x2="607.48" y2="147.71" stroke="#e8722a" stroke-width="1.1" stroke-linecap="round"/>
<line x1="607.48" y1="147.71" x2="608.2" y2="147.73" stroke="#e8732a" stroke-width="1.1" stroke-linecap="round"/>
<line x1="608.2" y1="147.73" x2="608.93" y2="147.75" stroke="#e8752a" stroke-width="1.1" stroke-linecap="round"/>
<line x1="608.93" y1="147.75" x2="609.65" y2="147.76" stroke="#e9762a" stroke-width="1.1" stroke-linecap="round"/>
<line x1="609.65" y1="147.76" x2="610.38" y2="147.78" stroke="#e9782a" stroke-width="1.1" stroke-linecap="round"/>
<line x1="610.38" y1="147.78" x2="611.11" y2="147.8" stroke="#e9792a" stroke-width="1.1" stroke-linecap="round"/>
<line x1="611.11" y1="147.8" x2="611.83" y2="147.82" stroke="#e97b2a" stroke-width="1.1" stroke-linecap="round"/>
<line x1="611.83" y1="147.82" x2="612.56" y2="147.84" stroke="#e97c2a" stroke-width="1.1" stroke-linecap="round"/>
<line x1="612.56" y1="147.84" x2="613.28" y2="147.86" stroke="#ea7e2b" stroke-width="1.1" stroke-linecap="round"/>
<line x1="613.28" y1="147.86" x2="614.01" y2="147.88" stroke="#ea7f2b" stroke-width="1.1" stroke-linecap="round"/>
<line x1="614.01" y1="147.88" x2="614.73" y2="147.9" stroke="#ea812b" stroke-width="1.1" stroke-linecap="round"/>
<line x1="614.73" y1="147.9" x2="615.46" y2="147.92" stroke="#ea822b" stroke-width="1.1" stroke-linecap="round"/>
<line x1="615.46" y1="147.92" x2="616.19" y2="147.94" stroke="#ea842b" stroke-width="1.1" stroke-linecap="round"/>
<line x1="616.19" y1="147.94" x2="616.91" y2="147.96" stroke="#ea852b" stroke-width="1.1" stroke-linecap="round"/>
<line x1="616.91" y1="147.96" x2="617.64" y2="147.98" stroke="#eb872b" stroke-width="1.1" stroke-linecap="round"/>
<line x1="617.64" y1="147.98" x2="618.36" y2="148" stroke="#eb882b" stroke-width="1.1" stroke-linecap="round"/>
<line x1="618.36" y1="148" x2="619.09" y2="148.02" stroke="#eb8a2b" stroke-width="1.1" stroke-linecap="round"/>
<line x1="619.09" y1="148.02" x2="619.81" y2="148.04" stroke="#eb8b2b" stroke-width="1.1" stroke-linecap="round"/>
<line x1="619.81" y1="148.04" x2="620.54" y2="148.06" stroke="#eb8d2b" stroke-width="1.1" stroke-linecap="round"/>
<line x1="620.54" y1="148.06" x2="621.27" y2="148.08" stroke="#ec8e2b" stroke-width="1.1" stroke-linecap="round"/>
<line x1="621.27" y1="148.08" x2="621.99" y2="148.1" stroke="#ec8f2b" stroke-width="1.1" stroke-linecap="round"/>
<line x1="621.99" y1="148.1" x2="622.72" y2="148.12" stroke="#ec912b" stroke-width="1.1" stroke-linecap="round"/>
<line x1="622.72" y1="148.12" x2="623.44" y2="148.14" stroke="#ec922b" stroke-width="1.1" stroke-linecap="round"/>
<line x1="623.44" y1="148.14" x2="624.17" y2="148.16" stroke="#ec942b" stroke-width="1.1" stroke-linecap="round"/>
<line x1="624.17" y1="148.16" x2="624.9" y2="148.18" stroke="#ed952c" stroke-width="1.1" stroke-linecap="round"/>
<line x1="624.9" y1="148.18" x2="625.62" y2="148.2" stroke="#ed972c" stroke-width="1.1" stroke-linecap="round"/>
<line x1="625.62" y1="148.2" x2="626.35" y2="148.22" stroke="#ed982c" stroke-width="1.1" stroke-linecap="round"/>
<line x1="626.35" y1="148.22" x2="627.07" y2="148.24" stroke="#ed9a2c" stroke-width="1.1" stroke-linecap="round"/>
<line x1="627.07" y1="148.24" x2="627.8" y2="148.26" stroke="#ed9b2c" stroke-width="1.1" stroke-linecap="round"/>
<line x1="627.8" y1="148.26" x2="628.52" y2="148.28" stroke="#ee9d2c" stroke-width="1.1" stroke-linecap="round"/>
<line x1="628.52" y1="148.28" x2="629.25" y2="148.29" stroke="#ee9e2c" stroke-width="1.1" stroke-linecap="round"/>
<line x1="629.25" y1="148.29" x2="629.98" y2="148.31" stroke="#eea02c" stroke-width="1.1" stroke-linecap="round"/>
<line x1="629.98" y1="148.31" x2="630.7" y2="148.32" stroke="#eea12c" stroke-width="1.1" stroke-linecap="round"/>
<line x1="630.7" y1="148.32" x2="631.43" y2="148.34" stroke="#efa22b" stroke-width="1.1" stroke-linecap="round"/>
<line x1="631.43" y1="148.34" x2="632.15" y2="148.35" stroke="#efa42b" stroke-width="1.1" stroke-linecap="round"/>
<line x1="632.15" y1="148.35" x2="632.88" y2="148.37" stroke="#f0a52b" stroke-width="1.1" stroke-linecap="round"/>
<line x1="632.88" y1="148.37" x2="633.61" y2="148.38" stroke="#f0a62a" stroke-width="1.1" stroke-linecap="round"/>
<line x1="633.61" y1="148.38" x2="634.33" y2="148.4" stroke="#f0a82a" stroke-width="1.1" stroke-linecap="round"/>
<line x1="634.33" y1="148.4" x2="635.06" y2="148.41" stroke="#f1a92a" stroke-width="1.1" stroke-linecap="round"/>
<line x1="635.06" y1="148.41" x2="635.78" y2="148.43" stroke="#f1aa29" stroke-width="1.1" stroke-linecap="round"/>
<line x1="635.78" y1="148.43" x2="636.51" y2="148.44" stroke="#f2ac29" stroke-width="1.1" stroke-linecap="round"/>
<line x1="636.51" y1="148.44" x2="637.23" y2="148.46" stroke="#f2ad29" stroke-width="1.1" stroke-linecap="round"/>
<line x1="637.23" y1="148.46" x2="637.96" y2="148.47" stroke="#f2ae28" stroke-width="1.1" stroke-linecap="round"/>
<line x1="637.96" y1="148.47" x2="638.69" y2="148.49" stroke="#f3b028" stroke-width="1.1" stroke-linecap="round"/>
<line x1="638.69" y1="148.49" x2="639.41" y2="148.5" stroke="#f3b128" stroke-width="1.1" stroke-linecap="round"/>
<line x1="639.41" y1="148.5" x2="640.14" y2="148.52" stroke="#f4b227" stroke-width="1.1" stroke-linecap="round"/>
<line x1="640.14" y1="148.52" x2="640.86" y2="148.53" stroke="#f4b427" stroke-width="1.1" stroke-linecap="round"/>
<line x1="640.86" y1="148.53" x2="641.59" y2="148.54" stroke="#f5b527" stroke-width="1.1" stroke-linecap="round"/>
<line x1="641.59" y1="148.54" x2="642.32" y2="148.56" stroke="#f5b626" stroke-width="1.1" stroke-linecap="round"/>
<line x1="642.32" y1="148.56" x2="643.04" y2="148.57" stroke="#f5b726" stroke-width="1.1" stroke-linecap="round"/>
<line x1="643.04" y1="148.57" x2="643.77" y2="148.59" stroke="#f6b925" stroke-width="1.1" stroke-linecap="round"/>
<line x1="643.77" y1="148.59" x2="644.49" y2="148.6" stroke="#f6ba25" stroke-width="1.1" stroke-linecap="round"/>
<line x1="644.49" y1="148.6" x2="645.22" y2="148.62" stroke="#f7bb25" stroke-width="1.1" stroke-linecap="round"/>
<line x1="645.22" y1="148.62" x2="645.94" y2="148.63" stroke="#f7bd24" stroke-width="1.1" stroke-linecap="round"/>
<line x1="645.94" y1="148.63" x2="646.67" y2="148.65" stroke="#f8be24" stroke-width="1.1" stroke-linecap="round"/>
<line x1="646.67" y1="148.65" x2="647.4" y2="148.66" stroke="#f8bf24" stroke-width="1.1" stroke-linecap="round"/>
<line x1="647.4" y1="148.66" x2="648.12" y2="148.68" stroke="#f8c123" stroke-width="1.1" stroke-linecap="round"/>
<line x1="648.12" y1="148.68" x2="648.85" y2="148.69" stroke="#f9c223" stroke-width="1.1" stroke-linecap="round"/>
<line x1="648.85" y1="148.69" x2="649.57" y2="148.71" stroke="#f9c323" stroke-width="1.1" stroke-linecap="round"/>
<line x1="649.57" y1="148.71" x2="650.3" y2="148.72" stroke="#fac522" stroke-width="1.1" stroke-linecap="round"/>
</g>
<rect x="476.1" y="12.6" width="174.2" height="137.9" fill="none" stroke="#7a7a7a" stroke-width="1.1" />
<path d="M476.1,147.9 L478.7,150.5 L476.1,153.1 L473.5,150.5 Z" fill="#fff" stroke="#46b2e8" stroke-width="1"/>
<path d="M478.28,147.81 L480.88,150.41 L478.28,153.01 L475.68,150.41 Z" fill="#fff" stroke="#44ace3" stroke-width="1"/>
<path d="M480.46,147.72 L483.06,150.32 L480.46,152.92 L477.86,150.32 Z" fill="#fff" stroke="#41a6de" stroke-width="1"/>
<path d="M482.63,147.63 L485.23,150.23 L482.63,152.83 L480.03,150.23 Z" fill="#fff" stroke="#3ea1da" stroke-width="1"/>
<path d="M484.81,147.54 L487.41,150.14 L484.81,152.74 L482.21,150.14 Z" fill="#fff" stroke="#3c9bd5" stroke-width="1"/>
<path d="M486.99,147.46 L489.59,150.06 L486.99,152.66 L484.39,150.06 Z" fill="#fff" stroke="#3a95d0" stroke-width="1"/>
<path d="M489.17,146.62 L491.77,149.22 L489.17,151.82 L486.56,149.22 Z" fill="#fff" stroke="#3790cc" stroke-width="1"/>
<path d="M491.34,145.78 L493.94,148.38 L491.34,150.98 L488.74,148.38 Z" fill="#fff" stroke="#348ac7" stroke-width="1"/>
<path d="M493.52,144.94 L496.12,147.54 L493.52,150.14 L490.92,147.54 Z" fill="#fff" stroke="#3284c2" stroke-width="1"/>
<path d="M495.7,142.72 L498.3,145.32 L495.7,147.92 L493.1,145.32 Z" fill="#fff" stroke="#2f7cb9" stroke-width="1"/>
<path d="M497.88,139.01 L500.48,141.61 L497.88,144.21 L495.27,141.61 Z" fill="#fff" stroke="#2d74af" stroke-width="1"/>
<path d="M500.05,134.57 L502.65,137.17 L500.05,139.77 L497.45,137.17 Z" fill="#fff" stroke="#2a6da6" stroke-width="1"/>
<path d="M502.23,129.83 L504.83,132.43 L502.23,135.03 L499.63,132.43 Z" fill="#fff" stroke="#27659c" stroke-width="1"/>
<path d="M504.41,122.42 L507.01,125.02 L504.41,127.62 L501.81,125.02 Z" fill="#fff" stroke="#255d93" stroke-width="1"/>
<path d="M506.59,114.72 L509.19,117.32 L506.59,119.92 L503.99,117.32 Z" fill="#fff" stroke="#22558a" stroke-width="1"/>
<path d="M508.76,102.73 L511.36,105.33 L508.76,107.93 L506.16,105.33 Z" fill="#fff" stroke="#204f82" stroke-width="1"/>
<path d="M510.94,88.66 L513.54,91.26 L510.94,93.86 L508.34,91.26 Z" fill="#fff" stroke="#1f497b" stroke-width="1"/>
<path d="M513.12,73.4 L515.72,76 L513.12,78.6 L510.52,76 Z" fill="#fff" stroke="#1e4374" stroke-width="1"/>
<path d="M515.29,58.74 L517.89,61.34 L515.29,63.94 L512.69,61.34 Z" fill="#fff" stroke="#1c3d6d" stroke-width="1"/>
<path d="M517.47,47.92 L520.07,50.52 L517.47,53.12 L514.87,50.52 Z" fill="#fff" stroke="#1b3866" stroke-width="1"/>
<path d="M519.65,39.93 L522.25,42.53 L519.65,45.13 L517.05,42.53 Z" fill="#fff" stroke="#1a325f" stroke-width="1"/>
<path d="M521.83,35.34 L524.43,37.94 L521.83,40.54 L519.23,37.94 Z" fill="#fff" stroke="#192d58" stroke-width="1"/>
<path d="M524,32.67 L526.61,35.27 L524,37.87 L521.4,35.27 Z" fill="#fff" stroke="#182851" stroke-width="1"/>
<path d="M526.18,31.63 L528.78,34.23 L526.18,36.83 L523.58,34.23 Z" fill="#fff" stroke="#17234b" stroke-width="1"/>
<path d="M528.36,31.63 L530.96,34.23 L528.36,36.83 L525.76,34.23 Z" fill="#fff" stroke="#161e44" stroke-width="1"/>
<path d="M530.54,32.37 L533.14,34.97 L530.54,37.57 L527.94,34.97 Z" fill="#fff" stroke="#1d2046" stroke-width="1"/>
<path d="M532.72,33.85 L535.32,36.45 L532.72,39.05 L530.12,36.45 Z" fill="#fff" stroke="#242248" stroke-width="1"/>
<path d="M534.89,35.71 L537.49,38.31 L534.89,40.91 L532.29,38.31 Z" fill="#fff" stroke="#2a234a" stroke-width="1"/>
<path d="M537.07,37.56 L539.67,40.16 L537.07,42.76 L534.47,40.16 Z" fill="#fff" stroke="#31254d" stroke-width="1"/>
<path d="M539.25,39.78 L541.85,42.38 L539.25,44.98 L536.65,42.38 Z" fill="#fff" stroke="#38274f" stroke-width="1"/>
<path d="M541.42,42 L544.02,44.6 L541.42,47.2 L538.82,44.6 Z" fill="#fff" stroke="#40294f" stroke-width="1"/>
<path d="M543.6,44.22 L546.2,46.82 L543.6,49.42 L541,46.82 Z" fill="#fff" stroke="#4a2a4e" stroke-width="1"/>
<path d="M545.78,46.44 L548.38,49.04 L545.78,51.64 L543.18,49.04 Z" fill="#fff" stroke="#542b4d" stroke-width="1"/>
<path d="M547.96,48.67 L550.56,51.27 L547.96,53.87 L545.36,51.27 Z" fill="#fff" stroke="#5e2d4b" stroke-width="1"/>
<path d="M550.13,50.89 L552.74,53.49 L550.13,56.09 L547.53,53.49 Z" fill="#fff" stroke="#682e4a" stroke-width="1"/>
<path d="M552.31,52.74 L554.91,55.34 L552.31,57.94 L549.71,55.34 Z" fill="#fff" stroke="#723048" stroke-width="1"/>
<path d="M554.49,54.59 L557.09,57.19 L554.49,59.79 L551.89,57.19 Z" fill="#fff" stroke="#7e3246" stroke-width="1"/>
<path d="M556.67,56.44 L559.27,59.04 L556.67,61.64 L554.07,59.04 Z" fill="#fff" stroke="#8b3443" stroke-width="1"/>
<path d="M558.85,58.29 L561.45,60.89 L558.85,63.49 L556.25,60.89 Z" fill="#fff" stroke="#973640" stroke-width="1"/>
<path d="M561.02,59.77 L563.62,62.37 L561.02,64.97 L558.42,62.37 Z" fill="#fff" stroke="#a4383d" stroke-width="1"/>
<path d="M563.2,61.25 L565.8,63.85 L563.2,66.45 L560.6,63.85 Z" fill="#fff" stroke="#b03a3a" stroke-width="1"/>
<path d="M574.09,67.18 L576.69,69.78 L574.09,72.38 L571.49,69.78 Z" fill="#fff" stroke="#d7412f" stroke-width="1"/>
<path d="M584.98,72.36 L587.58,74.96 L584.98,77.56 L582.38,74.96 Z" fill="#fff" stroke="#e94b2a" stroke-width="1"/>
<path d="M595.86,75.33 L598.46,77.93 L595.86,80.53 L593.26,77.93 Z" fill="#fff" stroke="#e95e2a" stroke-width="1"/>
<path d="M606.75,77.55 L609.35,80.15 L606.75,82.75 L604.15,80.15 Z" fill="#fff" stroke="#e8722a" stroke-width="1"/>
<path d="M617.64,79.47 L620.24,82.07 L617.64,84.67 L615.04,82.07 Z" fill="#fff" stroke="#eb882b" stroke-width="1"/>
<path d="M628.52,80.95 L631.12,83.55 L628.52,86.15 L625.92,83.55 Z" fill="#fff" stroke="#ee9e2c" stroke-width="1"/>
<path d="M639.41,81.99 L642.01,84.59 L639.41,87.19 L636.81,84.59 Z" fill="#fff" stroke="#f4b227" stroke-width="1"/>
<path d="M650.3,83.03 L652.9,85.63 L650.3,88.23 L647.7,85.63 Z" fill="#fff" stroke="#fac622" stroke-width="1"/>
<circle cx="476.1" cy="150.5" r="2.4" fill="#46b2e8"/>
<circle cx="478.28" cy="150.32" r="2.4" fill="#44ace3"/>
<circle cx="480.46" cy="150.14" r="2.4" fill="#41a6de"/>
<circle cx="482.63" cy="149.97" r="2.4" fill="#3ea1da"/>
<circle cx="484.81" cy="149.79" r="2.4" fill="#3c9bd5"/>
<circle cx="486.99" cy="149.61" r="2.4" fill="#3a95d0"/>
<circle cx="489.17" cy="147.83" r="2.4" fill="#3790cc"/>
<circle cx="491.34" cy="146.06" r="2.4" fill="#348ac7"/>
<circle cx="493.52" cy="142.35" r="2.4" fill="#3284c2"/>
<circle cx="495.7" cy="134.36" r="2.4" fill="#2f7cb9"/>
<circle cx="497.88" cy="125.32" r="2.4" fill="#2d74af"/>
<circle cx="500.05" cy="114.95" r="2.4" fill="#2a6da6"/>
<circle cx="502.23" cy="101.62" r="2.4" fill="#27659c"/>
<circle cx="504.41" cy="92.74" r="2.4" fill="#255d93"/>
<circle cx="506.59" cy="85.63" r="2.4" fill="#22558a"/>
<circle cx="508.76" cy="82.37" r="2.4" fill="#204f82"/>
<circle cx="510.94" cy="81.78" r="2.4" fill="#1f497b"/>
<circle cx="513.12" cy="83.11" r="2.4" fill="#1e4374"/>
<circle cx="515.29" cy="86.07" r="2.4" fill="#1c3d6d"/>
<circle cx="517.47" cy="89.77" r="2.4" fill="#1b3866"/>
<circle cx="519.65" cy="94.22" r="2.4" fill="#1a325f"/>
<circle cx="521.83" cy="98.29" r="2.4" fill="#192d58"/>
<circle cx="524" cy="102.36" r="2.4" fill="#182851"/>
<circle cx="526.18" cy="105.7" r="2.4" fill="#17234b"/>
<circle cx="528.36" cy="109.03" r="2.4" fill="#161e44"/>
<circle cx="530.54" cy="111.84" r="2.4" fill="#1d2046"/>
<circle cx="532.72" cy="114.66" r="2.4" fill="#242248"/>
<circle cx="534.89" cy="116.66" r="2.4" fill="#2a234a"/>
<circle cx="537.07" cy="118.66" r="2.4" fill="#31254d"/>
<circle cx="539.25" cy="120.29" r="2.4" fill="#38274f"/>
<circle cx="541.42" cy="121.91" r="2.4" fill="#40294f"/>
<circle cx="543.6" cy="123.17" r="2.4" fill="#4a2a4e"/>
<circle cx="545.78" cy="124.43" r="2.4" fill="#542b4d"/>
<circle cx="547.96" cy="125.47" r="2.4" fill="#5e2d4b"/>
<circle cx="550.13" cy="126.51" r="2.4" fill="#682e4a"/>
<circle cx="552.31" cy="127.25" r="2.4" fill="#723048"/>
<circle cx="554.49" cy="127.99" r="2.4" fill="#7e3246"/>
<circle cx="556.67" cy="128.58" r="2.4" fill="#8b3443"/>
<circle cx="558.85" cy="129.17" r="2.4" fill="#973640"/>
<circle cx="561.02" cy="129.69" r="2.4" fill="#a4383d"/>
<circle cx="563.2" cy="130.21" r="2.4" fill="#b03a3a"/>
<circle cx="574.09" cy="133.47" r="2.8" fill="#d7412f"/>
<circle cx="584.98" cy="136.43" r="2.8" fill="#e94b2a"/>
<circle cx="595.86" cy="138.65" r="2.8" fill="#e95e2a"/>
<circle cx="606.75" cy="140.43" r="2.8" fill="#e8722a"/>
<circle cx="617.64" cy="141.91" r="2.8" fill="#eb882b"/>
<circle cx="628.52" cy="143.09" r="2.8" fill="#ee9e2c"/>
<circle cx="639.41" cy="143.98" r="2.8" fill="#f4b227"/>
<circle cx="650.3" cy="144.58" r="2.8" fill="#fac622"/>
<line x1="476.1" y1="150.5" x2="480.1" y2="150.5" stroke="#7a7a7a" stroke-width="1" />
<line x1="650.3" y1="150.5" x2="646.3" y2="150.5" stroke="#333" stroke-width="1" />
<line x1="476.1" y1="128.28" x2="478.3" y2="128.28" stroke="#7a7a7a" stroke-width="1" />
<line x1="650.3" y1="128.28" x2="648.1" y2="128.28" stroke="#333" stroke-width="1" />
<line x1="476.1" y1="106.07" x2="480.1" y2="106.07" stroke="#7a7a7a" stroke-width="1" />
<line x1="650.3" y1="106.07" x2="646.3" y2="106.07" stroke="#333" stroke-width="1" />
<line x1="476.1" y1="83.85" x2="478.3" y2="83.85" stroke="#7a7a7a" stroke-width="1" />
<line x1="650.3" y1="83.85" x2="648.1" y2="83.85" stroke="#333" stroke-width="1" />
<line x1="476.1" y1="61.63" x2="480.1" y2="61.63" stroke="#7a7a7a" stroke-width="1" />
<line x1="650.3" y1="61.63" x2="646.3" y2="61.63" stroke="#333" stroke-width="1" />
<line x1="476.1" y1="39.42" x2="478.3" y2="39.42" stroke="#7a7a7a" stroke-width="1" />
<line x1="650.3" y1="39.42" x2="648.1" y2="39.42" stroke="#333" stroke-width="1" />
<line x1="476.1" y1="17.2" x2="480.1" y2="17.2" stroke="#7a7a7a" stroke-width="1" />
<line x1="650.3" y1="17.2" x2="646.3" y2="17.2" stroke="#333" stroke-width="1" />
<line x1="476.1" y1="150.5" x2="476.1" y2="146.5" stroke="#7a7a7a" stroke-width="1" />
<line x1="476.1" y1="12.6" x2="476.1" y2="16.6" stroke="#7a7a7a" stroke-width="1" />
<line x1="497.88" y1="150.5" x2="497.88" y2="148.3" stroke="#7a7a7a" stroke-width="1" />
<line x1="497.88" y1="12.6" x2="497.88" y2="14.8" stroke="#7a7a7a" stroke-width="1" />
<line x1="519.65" y1="150.5" x2="519.65" y2="146.5" stroke="#7a7a7a" stroke-width="1" />
<line x1="519.65" y1="12.6" x2="519.65" y2="16.6" stroke="#7a7a7a" stroke-width="1" />
<line x1="541.42" y1="150.5" x2="541.42" y2="148.3" stroke="#7a7a7a" stroke-width="1" />
<line x1="541.42" y1="12.6" x2="541.42" y2="14.8" stroke="#7a7a7a" stroke-width="1" />
<line x1="563.2" y1="150.5" x2="563.2" y2="146.5" stroke="#7a7a7a" stroke-width="1" />
<line x1="563.2" y1="12.6" x2="563.2" y2="16.6" stroke="#7a7a7a" stroke-width="1" />
<line x1="584.98" y1="150.5" x2="584.98" y2="148.3" stroke="#7a7a7a" stroke-width="1" />
<line x1="584.98" y1="12.6" x2="584.98" y2="14.8" stroke="#7a7a7a" stroke-width="1" />
<line x1="606.75" y1="150.5" x2="606.75" y2="146.5" stroke="#7a7a7a" stroke-width="1" />
<line x1="606.75" y1="12.6" x2="606.75" y2="16.6" stroke="#7a7a7a" stroke-width="1" />
<line x1="628.52" y1="150.5" x2="628.52" y2="148.3" stroke="#7a7a7a" stroke-width="1" />
<line x1="628.52" y1="12.6" x2="628.52" y2="14.8" stroke="#7a7a7a" stroke-width="1" />
<line x1="650.3" y1="150.5" x2="650.3" y2="146.5" stroke="#7a7a7a" stroke-width="1" />
<line x1="650.3" y1="12.6" x2="650.3" y2="16.6" stroke="#7a7a7a" stroke-width="1" />
<line x1="650.3" y1="12.6" x2="650.3" y2="150.5" stroke="#333" stroke-width="1.1" />
<text x="655" y="154.4" font-family="Liberation Serif" font-size="13.5" fill="#000" text-anchor="start" >0</text>
<text x="655" y="109.97" font-family="Liberation Serif" font-size="13.5" fill="#000" text-anchor="start" >3</text>
<text x="655" y="65.53" font-family="Liberation Serif" font-size="13.5" fill="#000" text-anchor="start" >6</text>
<text x="655" y="21.1" font-family="Liberation Serif" font-size="13.5" fill="#000" text-anchor="start" >9</text>
<text x="476.1" y="167.4" font-family="Liberation Serif" font-size="13.5" fill="#000" text-anchor="middle" >0</text>
<text x="519.65" y="167.4" font-family="Liberation Serif" font-size="13.5" fill="#000" text-anchor="middle" >2</text>
<text x="563.2" y="167.4" font-family="Liberation Serif" font-size="13.5" fill="#000" text-anchor="middle" >4</text>
<text x="606.75" y="167.4" font-family="Liberation Serif" font-size="13.5" fill="#000" text-anchor="middle" >6</text>
<text x="650.3" y="167.4" font-family="Liberation Serif" font-size="13.5" fill="#000" text-anchor="middle" >8</text>
<text x="562.5" y="186.5" font-family="Liberation Serif" font-size="13.5" fill="#000" text-anchor="middle" textLength="92" lengthAdjust="spacingAndGlyphs" >Interaction <tspan font-style="italic">U</tspan>/<tspan font-style="italic">W</tspan></text>
<text x="682.5" y="81.6" font-family="Liberation Serif" font-size="13.5" fill="#000" text-anchor="middle" textLength="118.5" lengthAdjust="spacingAndGlyphs" transform="rotate(-90 682.5 81.6)" >Edge-bulk correlation</text>
<path d="M583.4,23.2 L585.6,25.4 L583.4,27.6 L581.1999999999999,25.4 Z" fill="#fff" stroke="#000" stroke-width="0.9"/>
<circle cx="583.4" cy="42.2" r="1.9" fill="#000"/>
<line x1="578.1" y1="58.7" x2="588.7" y2="58.7" stroke="#444" stroke-width="1.3" />
<text x="604.3" y="28.7" font-family="Liberation Serif" font-size="13" fill="#000" text-anchor="start" textLength="38" lengthAdjust="spacingAndGlyphs" ><tspan font-style="italic">L</tspan> = 40</text>
<text x="604.3" y="45.5" font-family="Liberation Serif" font-size="13" fill="#000" text-anchor="start" textLength="38" lengthAdjust="spacingAndGlyphs" ><tspan font-style="italic">L</tspan> = 60</text>
<text x="604.3" y="62" font-family="Liberation Serif" font-size="13" fill="#000" text-anchor="start" textLength="38" lengthAdjust="spacingAndGlyphs" ><tspan font-style="italic">L</tspan> = 80</text>
<clipPath id="clipC"><rect x="37.4" y="218" width="316.0" height="194.60000000000002"/></clipPath>
<line x1="43.4" y1="218.8" x2="43.4" y2="407.1" stroke="#222" stroke-width="1.1" />
<line x1="42.9" y1="406.6" x2="347.4" y2="406.6" stroke="#222" stroke-width="1.1" />
<g clip-path="url(#clipC)">
<line x1="119.4" y1="394.63" x2="347.4" y2="394.63" stroke="#e8432c" stroke-width="1.6" stroke-dasharray="1.3 1.6"/>
<line x1="43.4" y1="375.73" x2="47.2" y2="374.42" stroke="#46b2e8" stroke-width="1.4" />
<line x1="47.2" y1="374.42" x2="51" y2="371.99" stroke="#41a6de" stroke-width="1.4" />
<line x1="51" y1="371.99" x2="54.8" y2="364.5" stroke="#3c9bd5" stroke-width="1.4" />
<line x1="54.8" y1="364.5" x2="58.6" y2="341.86" stroke="#3790cc" stroke-width="1.4" />
<line x1="58.6" y1="341.86" x2="62.4" y2="313.99" stroke="#3284c2" stroke-width="1.4" />
<line x1="62.4" y1="313.99" x2="66.2" y2="219.5" stroke="#2d74af" stroke-width="1.4" />
<line x1="43.4" y1="374.98" x2="47.2" y2="374.04" stroke="#46b2e8" stroke-width="1.8" stroke-dasharray="1.2 1.2"/>
<line x1="47.2" y1="374.04" x2="51" y2="372.55" stroke="#41a6de" stroke-width="1.8" stroke-dasharray="1.2 1.2"/>
<line x1="51" y1="372.55" x2="54.8" y2="368.43" stroke="#3c9bd5" stroke-width="1.8" stroke-dasharray="1.2 1.2"/>
<line x1="54.8" y1="368.43" x2="58.6" y2="347.29" stroke="#3790cc" stroke-width="1.8" stroke-dasharray="1.2 1.2"/>
<line x1="58.6" y1="347.29" x2="62.4" y2="316.04" stroke="#3284c2" stroke-width="1.8" stroke-dasharray="1.2 1.2"/>
<line x1="62.4" y1="316.04" x2="66.2" y2="251.68" stroke="#2d74af" stroke-width="1.8" stroke-dasharray="1.2 1.2"/>
<line x1="80.64" y1="200.79" x2="81.4" y2="163.37" stroke="#1a3462" stroke-width="1.4" />
<line x1="81.4" y1="163.37" x2="85.2" y2="273.76" stroke="#1a325f" stroke-width="1.4" />
<line x1="85.2" y1="273.76" x2="89" y2="316.79" stroke="#182851" stroke-width="1.4" />
<line x1="89" y1="316.79" x2="92.8" y2="342.99" stroke="#161e44" stroke-width="1.4" />
<line x1="92.8" y1="342.99" x2="96.6" y2="357.95" stroke="#242248" stroke-width="1.4" />
<line x1="96.6" y1="357.95" x2="100.4" y2="366.37" stroke="#31254d" stroke-width="1.4" />
<line x1="100.4" y1="366.37" x2="104.2" y2="372.55" stroke="#40294f" stroke-width="1.4" />
<line x1="104.2" y1="372.55" x2="108" y2="376.66" stroke="#542b4d" stroke-width="1.4" />
<line x1="108" y1="376.66" x2="111.8" y2="379.47" stroke="#682e4a" stroke-width="1.4" />
<line x1="111.8" y1="379.47" x2="115.6" y2="381.72" stroke="#7e3246" stroke-width="1.4" />
<line x1="115.6" y1="381.72" x2="119.4" y2="383.4" stroke="#973640" stroke-width="1.4" />
<line x1="119.4" y1="383.4" x2="123.2" y2="384.71" stroke="#b03a3a" stroke-width="1.4" />
<line x1="123.2" y1="384.71" x2="127" y2="385.83" stroke="#c03d36" stroke-width="1.4" />
<line x1="127" y1="385.83" x2="130.8" y2="386.77" stroke="#cf4031" stroke-width="1.4" />
<line x1="130.8" y1="386.77" x2="134.6" y2="387.52" stroke="#dd432e" stroke-width="1.4" />
<line x1="134.6" y1="387.52" x2="138.4" y2="388.26" stroke="#e3472c" stroke-width="1.4" />
<line x1="138.4" y1="388.26" x2="142.2" y2="388.83" stroke="#e94b2a" stroke-width="1.4" />
<line x1="142.2" y1="388.83" x2="146" y2="389.39" stroke="#ea522a" stroke-width="1.4" />
<line x1="146" y1="389.39" x2="149.8" y2="389.76" stroke="#e95a2a" stroke-width="1.4" />
<line x1="149.8" y1="389.76" x2="153.6" y2="390.14" stroke="#e9622a" stroke-width="1.4" />
<line x1="153.6" y1="390.14" x2="157.4" y2="390.51" stroke="#e86a2a" stroke-width="1.4" />
<line x1="157.4" y1="390.51" x2="165" y2="391.07" stroke="#e8722a" stroke-width="1.4" />
<line x1="165" y1="391.07" x2="172.6" y2="391.63" stroke="#ea842b" stroke-width="1.4" />
<line x1="172.6" y1="391.63" x2="180.2" y2="392.01" stroke="#ed952c" stroke-width="1.4" />
<line x1="180.2" y1="392.01" x2="187.8" y2="392.38" stroke="#f0a62a" stroke-width="1.4" />
<line x1="187.8" y1="392.38" x2="195.4" y2="392.57" stroke="#f5b626" stroke-width="1.4" />
<line x1="195.4" y1="392.57" x2="214.4" y2="392.94" stroke="#fac622" stroke-width="1.4" />
<line x1="214.4" y1="392.94" x2="233.4" y2="393.13" stroke="#fac622" stroke-width="1.4" />
<line x1="233.4" y1="393.13" x2="252.4" y2="393.32" stroke="#fac622" stroke-width="1.4" />
<line x1="252.4" y1="393.32" x2="271.4" y2="393.41" stroke="#fac622" stroke-width="1.4" />
<line x1="271.4" y1="393.41" x2="290.4" y2="393.5" stroke="#fac622" stroke-width="1.4" />
<line x1="290.4" y1="393.5" x2="309.4" y2="393.5" stroke="#fac622" stroke-width="1.4" />
<line x1="309.4" y1="393.5" x2="328.4" y2="393.6" stroke="#fac622" stroke-width="1.4" />
<line x1="328.4" y1="393.6" x2="347.4" y2="393.6" stroke="#fac622" stroke-width="1.4" />
<line x1="80.64" y1="200.79" x2="81.4" y2="220.81" stroke="#1a3462" stroke-width="1.8" stroke-dasharray="1.2 1.2"/>
<line x1="81.4" y1="220.81" x2="85.2" y2="287.98" stroke="#1a325f" stroke-width="1.8" stroke-dasharray="1.2 1.2"/>
<line x1="85.2" y1="287.98" x2="89" y2="311.55" stroke="#182851" stroke-width="1.8" stroke-dasharray="1.2 1.2"/>
<line x1="89" y1="311.55" x2="92.8" y2="329.89" stroke="#161e44" stroke-width="1.8" stroke-dasharray="1.2 1.2"/>
<line x1="92.8" y1="329.89" x2="96.6" y2="345.42" stroke="#242248" stroke-width="1.8" stroke-dasharray="1.2 1.2"/>
<line x1="96.6" y1="345.42" x2="100.4" y2="357.95" stroke="#31254d" stroke-width="1.8" stroke-dasharray="1.2 1.2"/>
<line x1="100.4" y1="357.95" x2="104.2" y2="366.37" stroke="#40294f" stroke-width="1.8" stroke-dasharray="1.2 1.2"/>
<line x1="104.2" y1="366.37" x2="108" y2="372.55" stroke="#542b4d" stroke-width="1.8" stroke-dasharray="1.2 1.2"/>
<line x1="108" y1="372.55" x2="111.8" y2="376.66" stroke="#682e4a" stroke-width="1.8" stroke-dasharray="1.2 1.2"/>
<line x1="111.8" y1="376.66" x2="115.6" y2="379.47" stroke="#7e3246" stroke-width="1.8" stroke-dasharray="1.2 1.2"/>
<line x1="115.6" y1="379.47" x2="119.4" y2="381.72" stroke="#973640" stroke-width="1.8" stroke-dasharray="1.2 1.2"/>
<line x1="119.4" y1="381.72" x2="123.2" y2="383.4" stroke="#b03a3a" stroke-width="1.8" stroke-dasharray="1.2 1.2"/>
<line x1="123.2" y1="383.4" x2="127" y2="384.71" stroke="#c03d36" stroke-width="1.8" stroke-dasharray="1.2 1.2"/>
<line x1="127" y1="384.71" x2="130.8" y2="385.83" stroke="#cf4031" stroke-width="1.8" stroke-dasharray="1.2 1.2"/>
<line x1="130.8" y1="385.83" x2="134.6" y2="386.77" stroke="#dd432e" stroke-width="1.8" stroke-dasharray="1.2 1.2"/>
<line x1="134.6" y1="386.77" x2="138.4" y2="387.52" stroke="#e3472c" stroke-width="1.8" stroke-dasharray="1.2 1.2"/>
<line x1="138.4" y1="387.52" x2="142.2" y2="388.26" stroke="#e94b2a" stroke-width="1.8" stroke-dasharray="1.2 1.2"/>
<line x1="142.2" y1="388.26" x2="146" y2="388.83" stroke="#ea522a" stroke-width="1.8" stroke-dasharray="1.2 1.2"/>
<line x1="146" y1="388.83" x2="149.8" y2="389.39" stroke="#e95a2a" stroke-width="1.8" stroke-dasharray="1.2 1.2"/>
<line x1="149.8" y1="389.39" x2="153.6" y2="389.76" stroke="#e9622a" stroke-width="1.8" stroke-dasharray="1.2 1.2"/>
<line x1="153.6" y1="389.76" x2="157.4" y2="390.14" stroke="#e86a2a" stroke-width="1.8" stroke-dasharray="1.2 1.2"/>
<line x1="157.4" y1="390.14" x2="165" y2="390.7" stroke="#e8722a" stroke-width="1.8" stroke-dasharray="1.2 1.2"/>
<line x1="165" y1="390.7" x2="172.6" y2="391.26" stroke="#ea842b" stroke-width="1.8" stroke-dasharray="1.2 1.2"/>
<line x1="172.6" y1="391.26" x2="180.2" y2="391.63" stroke="#ed952c" stroke-width="1.8" stroke-dasharray="1.2 1.2"/>
<line x1="180.2" y1="391.63" x2="187.8" y2="392.01" stroke="#f0a62a" stroke-width="1.8" stroke-dasharray="1.2 1.2"/>
<line x1="187.8" y1="392.01" x2="195.4" y2="392.38" stroke="#f5b626" stroke-width="1.8" stroke-dasharray="1.2 1.2"/>
<line x1="195.4" y1="392.38" x2="214.4" y2="392.94" stroke="#fac622" stroke-width="1.8" stroke-dasharray="1.2 1.2"/>
<line x1="214.4" y1="392.94" x2="233.4" y2="393.13" stroke="#fac622" stroke-width="1.8" stroke-dasharray="1.2 1.2"/>
<line x1="233.4" y1="393.13" x2="252.4" y2="393.32" stroke="#fac622" stroke-width="1.8" stroke-dasharray="1.2 1.2"/>
<line x1="252.4" y1="393.32" x2="271.4" y2="393.41" stroke="#fac622" stroke-width="1.8" stroke-dasharray="1.2 1.2"/>
<line x1="271.4" y1="393.41" x2="290.4" y2="393.5" stroke="#fac622" stroke-width="1.8" stroke-dasharray="1.2 1.2"/>
<line x1="290.4" y1="393.5" x2="309.4" y2="393.5" stroke="#fac622" stroke-width="1.8" stroke-dasharray="1.2 1.2"/>
<line x1="309.4" y1="393.5" x2="328.4" y2="393.6" stroke="#fac622" stroke-width="1.8" stroke-dasharray="1.2 1.2"/>
<line x1="328.4" y1="393.6" x2="347.4" y2="393.6" stroke="#fac622" stroke-width="1.8" stroke-dasharray="1.2 1.2"/>
<rect x="40.7" y="372.28" width="5.4" height="5.4" fill="#46b2e8" stroke="#111" stroke-width="0.8"/>
<rect x="44.5" y="371.34" width="5.4" height="5.4" fill="#41a6de" stroke="#111" stroke-width="0.8"/>
<rect x="48.3" y="369.85" width="5.4" height="5.4" fill="#3c9bd5" stroke="#111" stroke-width="0.8"/>
<rect x="52.1" y="365.73" width="5.4" height="5.4" fill="#3790cc" stroke="#111" stroke-width="0.8"/>
<rect x="55.9" y="344.59" width="5.4" height="5.4" fill="#3284c2" stroke="#111" stroke-width="0.8"/>
<rect x="59.7" y="313.34" width="5.4" height="5.4" fill="#2d74af" stroke="#111" stroke-width="0.8"/>
<rect x="63.5" y="248.98" width="5.4" height="5.4" fill="#27659c" stroke="#111" stroke-width="0.8"/>
<circle cx="43.4" cy="375.73" r="2.7" fill="#46b2e8" stroke="#111" stroke-width="0.8"/>
<circle cx="47.2" cy="374.42" r="2.7" fill="#41a6de" stroke="#111" stroke-width="0.8"/>
<circle cx="51" cy="371.99" r="2.7" fill="#3c9bd5" stroke="#111" stroke-width="0.8"/>
<circle cx="54.8" cy="364.5" r="2.7" fill="#3790cc" stroke="#111" stroke-width="0.8"/>
<circle cx="58.6" cy="341.86" r="2.7" fill="#3284c2" stroke="#111" stroke-width="0.8"/>
<circle cx="62.4" cy="313.99" r="2.7" fill="#2d74af" stroke="#111" stroke-width="0.8"/>
<rect x="78.7" y="218.11" width="5.4" height="5.4" fill="#1a325f" stroke="#111" stroke-width="0.8"/>
<rect x="82.5" y="285.28" width="5.4" height="5.4" fill="#182851" stroke="#111" stroke-width="0.8"/>
<rect x="86.3" y="308.85" width="5.4" height="5.4" fill="#161e44" stroke="#111" stroke-width="0.8"/>
<rect x="90.1" y="327.19" width="5.4" height="5.4" fill="#242248" stroke="#111" stroke-width="0.8"/>
<rect x="93.9" y="342.72" width="5.4" height="5.4" fill="#31254d" stroke="#111" stroke-width="0.8"/>
<rect x="97.7" y="355.25" width="5.4" height="5.4" fill="#40294f" stroke="#111" stroke-width="0.8"/>
<rect x="101.5" y="363.67" width="5.4" height="5.4" fill="#542b4d" stroke="#111" stroke-width="0.8"/>
<rect x="105.3" y="369.85" width="5.4" height="5.4" fill="#682e4a" stroke="#111" stroke-width="0.8"/>
<rect x="109.1" y="373.96" width="5.4" height="5.4" fill="#7e3246" stroke="#111" stroke-width="0.8"/>
<rect x="112.9" y="376.77" width="5.4" height="5.4" fill="#973640" stroke="#111" stroke-width="0.8"/>
<rect x="116.7" y="379.02" width="5.4" height="5.4" fill="#b03a3a" stroke="#111" stroke-width="0.8"/>
<rect x="120.5" y="380.7" width="5.4" height="5.4" fill="#c03d36" stroke="#111" stroke-width="0.8"/>
<rect x="124.3" y="382.01" width="5.4" height="5.4" fill="#cf4031" stroke="#111" stroke-width="0.8"/>
<rect x="128.1" y="383.13" width="5.4" height="5.4" fill="#dd432e" stroke="#111" stroke-width="0.8"/>
<rect x="131.9" y="384.07" width="5.4" height="5.4" fill="#e3472c" stroke="#111" stroke-width="0.8"/>
<rect x="135.7" y="384.82" width="5.4" height="5.4" fill="#e94b2a" stroke="#111" stroke-width="0.8"/>
<rect x="139.5" y="385.56" width="5.4" height="5.4" fill="#ea522a" stroke="#111" stroke-width="0.8"/>
<rect x="143.3" y="386.13" width="5.4" height="5.4" fill="#e95a2a" stroke="#111" stroke-width="0.8"/>
<rect x="147.1" y="386.69" width="5.4" height="5.4" fill="#e9622a" stroke="#111" stroke-width="0.8"/>
<rect x="150.9" y="387.06" width="5.4" height="5.4" fill="#e86a2a" stroke="#111" stroke-width="0.8"/>
<rect x="154.7" y="387.44" width="5.4" height="5.4" fill="#e8722a" stroke="#111" stroke-width="0.8"/>
<rect x="158.5" y="387.72" width="5.4" height="5.4" fill="#e97b2a" stroke="#111" stroke-width="0.8"/>
<rect x="162.3" y="388" width="5.4" height="5.4" fill="#ea842b" stroke="#111" stroke-width="0.8"/>
<rect x="166.1" y="388.28" width="5.4" height="5.4" fill="#eb8d2b" stroke="#111" stroke-width="0.8"/>
<rect x="169.9" y="388.56" width="5.4" height="5.4" fill="#ed952c" stroke="#111" stroke-width="0.8"/>
<rect x="173.7" y="388.74" width="5.4" height="5.4" fill="#ee9e2c" stroke="#111" stroke-width="0.8"/>
<rect x="177.5" y="388.93" width="5.4" height="5.4" fill="#f0a62a" stroke="#111" stroke-width="0.8"/>
<rect x="181.3" y="389.12" width="5.4" height="5.4" fill="#f2ae28" stroke="#111" stroke-width="0.8"/>
<rect x="185.1" y="389.31" width="5.4" height="5.4" fill="#f5b626" stroke="#111" stroke-width="0.8"/>
<rect x="188.9" y="389.49" width="5.4" height="5.4" fill="#f8be24" stroke="#111" stroke-width="0.8"/>
<rect x="192.7" y="389.68" width="5.4" height="5.4" fill="#fac622" stroke="#111" stroke-width="0.8"/>
<circle cx="85.2" cy="273.76" r="2.7" fill="#182851" stroke="#111" stroke-width="0.8"/>
<circle cx="89" cy="316.79" r="2.7" fill="#161e44" stroke="#111" stroke-width="0.8"/>
<circle cx="92.8" cy="342.99" r="2.7" fill="#242248" stroke="#111" stroke-width="0.8"/>
<circle cx="96.6" cy="357.95" r="2.7" fill="#31254d" stroke="#111" stroke-width="0.8"/>
<circle cx="100.4" cy="366.37" r="2.7" fill="#40294f" stroke="#111" stroke-width="0.8"/>
<circle cx="104.2" cy="372.55" r="2.7" fill="#542b4d" stroke="#111" stroke-width="0.8"/>
<circle cx="108" cy="376.66" r="2.7" fill="#682e4a" stroke="#111" stroke-width="0.8"/>
<circle cx="111.8" cy="379.47" r="2.7" fill="#7e3246" stroke="#111" stroke-width="0.8"/>
<circle cx="115.6" cy="381.72" r="2.7" fill="#973640" stroke="#111" stroke-width="0.8"/>
<circle cx="119.4" cy="383.4" r="2.7" fill="#b03a3a" stroke="#111" stroke-width="0.8"/>
<circle cx="123.2" cy="384.71" r="2.7" fill="#c03d36" stroke="#111" stroke-width="0.8"/>
<circle cx="127" cy="385.83" r="2.7" fill="#cf4031" stroke="#111" stroke-width="0.8"/>
<circle cx="130.8" cy="386.77" r="2.7" fill="#dd432e" stroke="#111" stroke-width="0.8"/>
<circle cx="134.6" cy="387.52" r="2.7" fill="#e3472c" stroke="#111" stroke-width="0.8"/>
<circle cx="138.4" cy="388.26" r="2.7" fill="#e94b2a" stroke="#111" stroke-width="0.8"/>
<circle cx="142.2" cy="388.83" r="2.7" fill="#ea522a" stroke="#111" stroke-width="0.8"/>
<circle cx="146" cy="389.39" r="2.7" fill="#e95a2a" stroke="#111" stroke-width="0.8"/>
<circle cx="149.8" cy="389.76" r="2.7" fill="#e9622a" stroke="#111" stroke-width="0.8"/>
<circle cx="153.6" cy="390.14" r="2.7" fill="#e86a2a" stroke="#111" stroke-width="0.8"/>
<circle cx="157.4" cy="390.51" r="2.7" fill="#e8722a" stroke="#111" stroke-width="0.8"/>
<circle cx="161.2" cy="390.79" r="2.7" fill="#e97b2a" stroke="#111" stroke-width="0.8"/>
<circle cx="165" cy="391.07" r="2.7" fill="#ea842b" stroke="#111" stroke-width="0.8"/>
<circle cx="168.8" cy="391.35" r="2.7" fill="#eb8d2b" stroke="#111" stroke-width="0.8"/>
<circle cx="172.6" cy="391.63" r="2.7" fill="#ed952c" stroke="#111" stroke-width="0.8"/>
<circle cx="176.4" cy="391.82" r="2.7" fill="#ee9e2c" stroke="#111" stroke-width="0.8"/>
<circle cx="180.2" cy="392.01" r="2.7" fill="#f0a62a" stroke="#111" stroke-width="0.8"/>
<circle cx="184" cy="392.19" r="2.7" fill="#f2ae28" stroke="#111" stroke-width="0.8"/>
<circle cx="187.8" cy="392.38" r="2.7" fill="#f5b626" stroke="#111" stroke-width="0.8"/>
<circle cx="191.6" cy="392.47" r="2.7" fill="#f8be24" stroke="#111" stroke-width="0.8"/>
<circle cx="195.4" cy="392.57" r="2.7" fill="#fac622" stroke="#111" stroke-width="0.8"/>
<rect x="211.8" y="390.34" width="5.2" height="5.2" fill="#f2c21e" stroke="#111" stroke-width="1.1"/>
<circle cx="214.4" cy="392.94" r="2.1" fill="#f2c21e" stroke="#111" stroke-width="0.7"/>
<rect x="230.8" y="390.34" width="5.2" height="5.2" fill="#f2c21e" stroke="#111" stroke-width="1.1"/>
<circle cx="233.4" cy="392.94" r="2.1" fill="#f2c21e" stroke="#111" stroke-width="0.7"/>
<rect x="249.8" y="390.34" width="5.2" height="5.2" fill="#f2c21e" stroke="#111" stroke-width="1.1"/>
<circle cx="252.4" cy="392.94" r="2.1" fill="#f2c21e" stroke="#111" stroke-width="0.7"/>
<rect x="268.8" y="390.34" width="5.2" height="5.2" fill="#f2c21e" stroke="#111" stroke-width="1.1"/>
<circle cx="271.4" cy="392.94" r="2.1" fill="#f2c21e" stroke="#111" stroke-width="0.7"/>
<rect x="287.8" y="390.34" width="5.2" height="5.2" fill="#f2c21e" stroke="#111" stroke-width="1.1"/>
<circle cx="290.4" cy="392.94" r="2.1" fill="#f2c21e" stroke="#111" stroke-width="0.7"/>
<rect x="306.8" y="390.34" width="5.2" height="5.2" fill="#f2c21e" stroke="#111" stroke-width="1.1"/>
<circle cx="309.4" cy="392.94" r="2.1" fill="#f2c21e" stroke="#111" stroke-width="0.7"/>
<rect x="325.8" y="390.34" width="5.2" height="5.2" fill="#f2c21e" stroke="#111" stroke-width="1.1"/>
<circle cx="328.4" cy="392.94" r="2.1" fill="#f2c21e" stroke="#111" stroke-width="0.7"/>
<rect x="344.8" y="390.34" width="5.2" height="5.2" fill="#f2c21e" stroke="#111" stroke-width="1.1"/>
<circle cx="347.4" cy="392.94" r="2.1" fill="#f2c21e" stroke="#111" stroke-width="0.7"/>
</g>
<line x1="43.4" y1="406.6" x2="47.4" y2="406.6" stroke="#222" stroke-width="1" />
<line x1="43.4" y1="387.89" x2="45.6" y2="387.89" stroke="#222" stroke-width="1" />
<line x1="43.4" y1="369.18" x2="47.4" y2="369.18" stroke="#222" stroke-width="1" />
<line x1="43.4" y1="350.47" x2="45.6" y2="350.47" stroke="#222" stroke-width="1" />
<line x1="43.4" y1="331.76" x2="47.4" y2="331.76" stroke="#222" stroke-width="1" />
<line x1="43.4" y1="313.05" x2="45.6" y2="313.05" stroke="#222" stroke-width="1" />
<line x1="43.4" y1="294.34" x2="47.4" y2="294.34" stroke="#222" stroke-width="1" />
<line x1="43.4" y1="275.63" x2="45.6" y2="275.63" stroke="#222" stroke-width="1" />
<line x1="43.4" y1="256.92" x2="47.4" y2="256.92" stroke="#222" stroke-width="1" />
<line x1="43.4" y1="238.21" x2="45.6" y2="238.21" stroke="#222" stroke-width="1" />
<line x1="43.4" y1="219.5" x2="47.4" y2="219.5" stroke="#222" stroke-width="1" />
<line x1="43.4" y1="406.6" x2="43.4" y2="402.6" stroke="#222" stroke-width="1" />
<line x1="62.4" y1="406.6" x2="62.4" y2="404.4" stroke="#222" stroke-width="1" />
<line x1="81.4" y1="406.6" x2="81.4" y2="402.6" stroke="#222" stroke-width="1" />
<line x1="100.4" y1="406.6" x2="100.4" y2="404.4" stroke="#222" stroke-width="1" />
<line x1="119.4" y1="406.6" x2="119.4" y2="402.6" stroke="#222" stroke-width="1" />
<line x1="138.4" y1="406.6" x2="138.4" y2="404.4" stroke="#222" stroke-width="1" />
<line x1="157.4" y1="406.6" x2="157.4" y2="402.6" stroke="#222" stroke-width="1" />
<line x1="176.4" y1="406.6" x2="176.4" y2="404.4" stroke="#222" stroke-width="1" />
<line x1="195.4" y1="406.6" x2="195.4" y2="402.6" stroke="#222" stroke-width="1" />
<line x1="214.4" y1="406.6" x2="214.4" y2="404.4" stroke="#222" stroke-width="1" />
<line x1="233.4" y1="406.6" x2="233.4" y2="402.6" stroke="#222" stroke-width="1" />
<line x1="252.4" y1="406.6" x2="252.4" y2="404.4" stroke="#222" stroke-width="1" />
<line x1="271.4" y1="406.6" x2="271.4" y2="402.6" stroke="#222" stroke-width="1" />
<line x1="290.4" y1="406.6" x2="290.4" y2="404.4" stroke="#222" stroke-width="1" />
<line x1="309.4" y1="406.6" x2="309.4" y2="402.6" stroke="#222" stroke-width="1" />
<line x1="328.4" y1="406.6" x2="328.4" y2="404.4" stroke="#222" stroke-width="1" />
<line x1="347.4" y1="406.6" x2="347.4" y2="402.6" stroke="#222" stroke-width="1" />
<text x="32.3" y="410.6" font-family="Liberation Serif" font-size="13.5" fill="#000" text-anchor="end" >0</text>
<text x="32.3" y="373.18" font-family="Liberation Serif" font-size="13.5" fill="#000" text-anchor="end" >20</text>
<text x="32.3" y="335.76" font-family="Liberation Serif" font-size="13.5" fill="#000" text-anchor="end" >40</text>
<text x="32.3" y="298.34" font-family="Liberation Serif" font-size="13.5" fill="#000" text-anchor="end" >60</text>
<text x="32.3" y="260.92" font-family="Liberation Serif" font-size="13.5" fill="#000" text-anchor="end" >80</text>
<text x="32.3" y="223.5" font-family="Liberation Serif" font-size="13.5" fill="#000" text-anchor="end" >100</text>
<text x="43.4" y="423.3" font-family="Liberation Serif" font-size="13.5" fill="#000" text-anchor="middle" >0</text>
<text x="81.4" y="423.3" font-family="Liberation Serif" font-size="13.5" fill="#000" text-anchor="middle" >1</text>
<text x="119.4" y="423.3" font-family="Liberation Serif" font-size="13.5" fill="#000" text-anchor="middle" >2</text>
<text x="157.4" y="423.3" font-family="Liberation Serif" font-size="13.5" fill="#000" text-anchor="middle" >3</text>
<text x="195.4" y="423.3" font-family="Liberation Serif" font-size="13.5" fill="#000" text-anchor="middle" >4</text>
<text x="233.4" y="423.3" font-family="Liberation Serif" font-size="13.5" fill="#000" text-anchor="middle" >5</text>
<text x="271.4" y="423.3" font-family="Liberation Serif" font-size="13.5" fill="#000" text-anchor="middle" >6</text>
<text x="309.4" y="423.3" font-family="Liberation Serif" font-size="13.5" fill="#000" text-anchor="middle" >7</text>
<text x="347.4" y="423.3" font-family="Liberation Serif" font-size="13.5" fill="#000" text-anchor="middle" >8</text>
<text x="194.9" y="442" font-family="Liberation Serif" font-size="13.5" fill="#000" text-anchor="middle" textLength="93" lengthAdjust="spacingAndGlyphs" >Interaction <tspan font-style="italic">U</tspan>/<tspan font-style="italic">W</tspan></text>
<text x="12" y="313.4" font-family="Liberation Serif" font-size="13.5" fill="#000" text-anchor="middle" textLength="145" lengthAdjust="spacingAndGlyphs" transform="rotate(-90 12 313.4)" >Edge correlation length <tspan font-style="italic">ξ</tspan><tspan font-size="9.5" dy="2.5">e</tspan></text>
<text x="1.8" y="214" font-family="Liberation Serif" font-size="14" fill="#000" text-anchor="start" font-weight="bold" >C</text>
<rect x="266.8" y="240.7" width="1.4" height="1.4" fill="#111" stroke="none" stroke-width="1" />
<rect x="269.7" y="240.7" width="1.4" height="1.4" fill="#111" stroke="none" stroke-width="1" />
<rect x="272.6" y="240.7" width="1.4" height="1.4" fill="#111" stroke="none" stroke-width="1" />
<rect x="281.3" y="240.7" width="1.4" height="1.4" fill="#111" stroke="none" stroke-width="1" />
<rect x="284.2" y="240.7" width="1.4" height="1.4" fill="#111" stroke="none" stroke-width="1" />
<rect x="274.2" y="239.1" width="4.6" height="4.6" fill="#111" stroke="#111" stroke-width="0.5"/>
<line x1="267.5" y1="258.4" x2="285.2" y2="258.4" stroke="#111" stroke-width="1.3" />
<circle cx="276.5" cy="258.4" r="2.3" fill="#111" stroke="#111" stroke-width="0.5"/>
<text x="302.2" y="244.8" font-family="Liberation Serif" font-size="13.5" fill="#000" text-anchor="start" textLength="37.4" lengthAdjust="spacingAndGlyphs" ><tspan font-style="italic">L</tspan> = 60</text>
<text x="302.2" y="261.8" font-family="Liberation Serif" font-size="13.5" fill="#000" text-anchor="start" textLength="37.4" lengthAdjust="spacingAndGlyphs" ><tspan font-style="italic">L</tspan> = 80</text>
<line x1="138" y1="234.4" x2="77.7" y2="220.78" stroke="#000" stroke-width="1.9" />
<path d="M73.8,219.9 L81.69,219.02 L80.54,224.09 Z" fill="#000"/>
<line x1="137.7" y1="328.2" x2="58.09" y2="367.05" stroke="#000" stroke-width="1.9" />
<path d="M54.5,368.8 L60.1,363.17 L62.38,367.85 Z" fill="#000"/>
<line x1="290.5" y1="369" x2="290.5" y2="387" stroke="#000" stroke-width="1.9" />
<path d="M290.5,391 L287.9,383.5 L293.1,383.5 Z" fill="#000"/>
<rect x="157" y="217.8" width="86" height="63.7" fill="#fff" stroke="none" stroke-width="1" />
<clipPath id="ci1787"><rect x="157" y="217.8" width="86" height="63.7"/></clipPath>
<g clip-path="url(#ci1787)">
<line x1="157" y1="225.86" x2="243" y2="225.86" stroke="#000" stroke-width="2.6" />
<polyline points="157,224.27 158.07,227.75 159.15,224.36 160.22,227.63 161.3,224.44 162.38,227.52 163.45,224.51 164.53,227.42 165.6,224.58 166.68,227.33 167.75,224.64 168.82,227.24 169.9,224.7 170.97,227.16 172.05,224.76 173.12,227.09 174.2,224.81 175.28,227.03 176.35,224.86 177.43,226.97 178.5,224.9 179.57,226.92 180.65,224.94 181.72,226.87 182.8,224.98 183.88,226.82 184.95,225.01 186.03,226.78 187.1,225.05 188.18,226.75 189.25,225.08 190.32,226.72 191.4,225.11 192.47,226.69 193.55,225.13 194.62,226.67 195.7,225.16 196.78,226.66 197.85,225.18 198.93,226.66 200,225.2 201.07,226.67 202.15,225.22 203.22,226.71 204.3,225.24 205.38,226.77 206.45,225.25 207.53,226.88 208.6,225.27 209.68,227.06 210.75,225.28 211.82,227.34 212.9,225.29 213.97,227.79 215.05,225.31 216.12,228.52 217.2,225.32 218.28,229.75 219.35,225.33 220.43,232.04 221.5,225.34" fill="none" stroke="#3a8cc8" stroke-width="1.1" stroke-dasharray="1.2 0.5"/>
<polyline points="157,223.99 158.07,228.19 159.15,224.09 160.22,228.04 161.3,224.18 162.38,227.9 163.45,224.26 164.53,227.77 165.6,224.34 166.68,227.65 167.75,224.42 168.82,227.55 169.9,224.49 170.97,227.45 172.05,224.55 173.12,227.36 174.2,224.61 175.28,227.28 176.35,224.67 177.43,227.21 178.5,224.72 179.57,227.14 180.65,224.77 181.72,227.08 182.8,224.81 183.88,227.03 184.95,224.86 186.03,226.97 187.1,224.89 188.18,226.93 189.25,224.93 190.32,226.88 191.4,224.96 192.47,226.85 193.55,224.99 194.62,226.81 195.7,225.02 196.78,226.78 197.85,225.05 198.93,226.75 200,225.07 201.07,226.73 202.15,225.1 203.22,226.71 204.3,225.12 205.38,226.69 206.45,225.14 207.53,226.68 208.6,225.15 209.68,226.68 210.75,225.17 211.82,226.68 212.9,225.19 213.97,226.69 215.05,225.2 216.12,226.71 217.2,225.21 218.28,226.74 219.35,225.23 220.43,226.79 221.5,225.24 222.57,226.86 223.65,225.25 224.72,226.96 225.8,225.26 226.88,227.11 227.95,225.27 229.03,227.31 230.1,225.27 231.18,227.59 232.25,225.28 233.32,227.98 234.4,225.29 235.47,228.54 236.55,225.29 237.62,229.35 238.7,225.3 239.78,230.58 240.85,225.31 241.93,232.56 243,225.31" fill="none" stroke="#2e7ab8" stroke-width="1.1" stroke-dasharray="1.2 0.5"/>
<polyline points="157,223.45 158.07,229.15 159.15,223.58 160.22,228.92 161.3,223.7 162.38,228.72 163.45,223.81 164.53,228.53 165.6,223.91 166.68,228.37 167.75,224.01 168.82,228.22 169.9,224.1 170.97,228.08 172.05,224.19 173.12,227.97 174.2,224.27 175.28,227.86 176.35,224.36 177.43,227.77 178.5,224.43 179.57,227.68 180.65,224.51 181.72,227.61 182.8,224.59 183.88,227.55 184.95,224.66 186.03,227.51 187.1,224.74 188.18,227.47 189.25,224.82 190.32,227.45 191.4,224.91 192.47,227.45 193.55,225.01 194.62,227.46 195.7,225.12 196.78,227.49 197.85,225.24 198.93,227.55 200,225.39 201.07,227.64 202.15,225.56 203.22,227.77 204.3,225.77 205.38,227.95 206.45,226.04 207.53,228.18 208.6,226.37 209.68,228.5 210.75,226.79 211.82,228.94 212.9,227.33 213.97,229.52 215.05,228.06 216.12,230.33 217.2,229.05 218.28,231.47 219.35,230.48 220.43,233.18 221.5,232.67" fill="none" stroke="#5ab4e6" stroke-width="0.9" stroke-dasharray="1.2 0.5"/>
<polyline points="157,223.72 158.07,228.66 159.15,223.83 160.22,228.47 161.3,223.93 162.38,228.3 163.45,224.03 164.53,228.14 165.6,224.12 166.68,228 167.75,224.21 168.82,227.87 169.9,224.29 170.97,227.76 172.05,224.37 173.12,227.66 174.2,224.44 175.28,227.56 176.35,224.5 177.43,227.48 178.5,224.57 179.57,227.4 180.65,224.63 181.72,227.33 182.8,224.68 183.88,227.27 184.95,224.74 186.03,227.21 187.1,224.79 188.18,227.16 189.25,224.84 190.32,227.12 191.4,224.89 192.47,227.09 193.55,224.94 194.62,227.06 195.7,224.98 196.78,227.03 197.85,225.03 198.93,227.02 200,225.08 201.07,227.01 202.15,225.14 203.22,227 204.3,225.19 205.38,227.01 206.45,225.25 207.53,227.03 208.6,225.32 209.68,227.05 210.75,225.4 211.82,227.09 212.9,225.48 213.97,227.15 215.05,225.58 216.12,227.22 217.2,225.69 218.28,227.31 219.35,225.83 220.43,227.43 221.5,225.99 222.57,227.58 223.65,226.18 224.72,227.76 225.8,226.42 226.88,228 227.95,226.7 229.03,228.29 230.1,227.05 231.18,228.67 232.25,227.49 233.32,229.14 234.4,228.05 235.47,229.75 236.55,228.76 237.62,230.55 238.7,229.7 239.78,231.64 240.85,230.99 241.93,233.16 243,232.85" fill="none" stroke="#4aa6de" stroke-width="0.9" stroke-dasharray="1.2 0.5"/>
<circle cx="158" cy="228.98" r="0.8" fill="#3a8cc8"/>
<circle cx="158" cy="230.29" r="0.8" fill="#3a8cc8"/>
<circle cx="158" cy="231.84" r="0.8" fill="#3a8cc8"/>
<circle cx="158" cy="233.75" r="0.8" fill="#3a8cc8"/>
</g>
<rect x="157" y="217.8" width="86" height="63.7" fill="none" stroke="#555" stroke-width="1.0" />
<line x1="157" y1="281.51" x2="160.5" y2="281.51" stroke="#333" stroke-width="1" />
<line x1="157" y1="275.74" x2="159" y2="275.74" stroke="#333" stroke-width="0.8" />
<line x1="157" y1="272.36" x2="159" y2="272.36" stroke="#333" stroke-width="0.8" />
<line x1="157" y1="269.97" x2="159" y2="269.97" stroke="#333" stroke-width="0.8" />
<line x1="157" y1="268.11" x2="159" y2="268.11" stroke="#333" stroke-width="0.8" />
<line x1="157" y1="266.59" x2="159" y2="266.59" stroke="#333" stroke-width="0.8" />
<line x1="157" y1="265.31" x2="159" y2="265.31" stroke="#333" stroke-width="0.8" />
<line x1="157" y1="264.2" x2="159" y2="264.2" stroke="#333" stroke-width="0.8" />
<line x1="157" y1="263.22" x2="159" y2="263.22" stroke="#333" stroke-width="0.8" />
<line x1="157" y1="262.34" x2="160.5" y2="262.34" stroke="#333" stroke-width="1" />
<line x1="157" y1="256.57" x2="159" y2="256.57" stroke="#333" stroke-width="0.8" />
<line x1="157" y1="253.19" x2="159" y2="253.19" stroke="#333" stroke-width="0.8" />
<line x1="157" y1="250.8" x2="159" y2="250.8" stroke="#333" stroke-width="0.8" />
<line x1="157" y1="248.94" x2="159" y2="248.94" stroke="#333" stroke-width="0.8" />
<line x1="157" y1="247.42" x2="159" y2="247.42" stroke="#333" stroke-width="0.8" />
<line x1="157" y1="246.14" x2="159" y2="246.14" stroke="#333" stroke-width="0.8" />
<line x1="157" y1="245.03" x2="159" y2="245.03" stroke="#333" stroke-width="0.8" />
<line x1="157" y1="244.05" x2="159" y2="244.05" stroke="#333" stroke-width="0.8" />
<line x1="157" y1="243.17" x2="160.5" y2="243.17" stroke="#333" stroke-width="1" />
<line x1="157" y1="237.4" x2="159" y2="237.4" stroke="#333" stroke-width="0.8" />
<line x1="157" y1="234.02" x2="159" y2="234.02" stroke="#333" stroke-width="0.8" />
<line x1="157" y1="231.63" x2="159" y2="231.63" stroke="#333" stroke-width="0.8" />
<line x1="157" y1="229.77" x2="159" y2="229.77" stroke="#333" stroke-width="0.8" />
<line x1="157" y1="228.25" x2="159" y2="228.25" stroke="#333" stroke-width="0.8" />
<line x1="157" y1="226.97" x2="159" y2="226.97" stroke="#333" stroke-width="0.8" />
<line x1="157" y1="225.86" x2="159" y2="225.86" stroke="#333" stroke-width="0.8" />
<line x1="157" y1="224.88" x2="159" y2="224.88" stroke="#333" stroke-width="0.8" />
<line x1="157" y1="224" x2="160.5" y2="224" stroke="#333" stroke-width="1" />
<line x1="157" y1="218.23" x2="159" y2="218.23" stroke="#333" stroke-width="0.8" />
<line x1="167.75" y1="281.5" x2="167.75" y2="279.5" stroke="#333" stroke-width="0.9" />
<line x1="178.5" y1="281.5" x2="178.5" y2="279.5" stroke="#333" stroke-width="0.9" />
<line x1="189.25" y1="281.5" x2="189.25" y2="279.5" stroke="#333" stroke-width="0.9" />
<line x1="200" y1="281.5" x2="200" y2="278" stroke="#333" stroke-width="0.9" />
<line x1="210.75" y1="281.5" x2="210.75" y2="279.5" stroke="#333" stroke-width="0.9" />
<line x1="221.5" y1="281.5" x2="221.5" y2="279.5" stroke="#333" stroke-width="0.9" />
<line x1="232.25" y1="281.5" x2="232.25" y2="279.5" stroke="#333" stroke-width="0.9" />
<text x="154" y="284.91" font-family="Liberation Serif" font-size="11" fill="#000" text-anchor="end">10<tspan font-size="7.7" dy="-4.4">−3</tspan></text>
<text x="154" y="265.74" font-family="Liberation Serif" font-size="11" fill="#000" text-anchor="end">10<tspan font-size="7.7" dy="-4.4">−2</tspan></text>
<text x="154" y="246.57" font-family="Liberation Serif" font-size="11" fill="#000" text-anchor="end">10<tspan font-size="7.7" dy="-4.4">−1</tspan></text>
<text x="154" y="227.4" font-family="Liberation Serif" font-size="11" fill="#000" text-anchor="end">10<tspan font-size="7.7" dy="-4.4">0</tspan></text>
<text x="198.3" y="247.2" font-family="Liberation Serif" font-size="11.5" fill="#000" text-anchor="middle" textLength="51.3" lengthAdjust="spacingAndGlyphs" ><tspan font-style="italic">U</tspan>/<tspan font-style="italic">W</tspan> = 0.8</text>
<rect x="156.9" y="293.3" width="85.7" height="65.1" fill="#fff" stroke="none" stroke-width="1" />
<clipPath id="ci1862"><rect x="156.9" y="293.3" width="85.7" height="65.1"/></clipPath>
<g clip-path="url(#ci1862)">
<polyline points="156.9,294.91 157.97,301.84 159.04,303.1 160.11,309.02 161.19,309.05 162.26,313.68 163.33,312.5 164.4,316.13 165.47,314.19 166.54,317.32 167.61,315.03 168.68,317.97 169.75,315.54 170.83,318.43 171.9,315.93 172.97,318.83 174.04,316.27 175.11,319.21 176.18,316.6 177.25,319.6 178.32,316.91 179.4,319.98 180.47,317.22 181.54,320.38 182.61,317.52 183.68,320.8 184.75,317.82 185.82,321.23 186.9,318.1 187.97,321.68 189.04,318.39 190.11,322.15 191.18,318.66 192.25,322.65 193.32,318.93 194.39,323.18 195.47,319.18 196.54,323.75 197.61,319.43 198.68,324.37 199.75,319.67 200.82,325.05 201.89,319.91 202.96,325.81 204.03,320.13 205.11,326.67 206.18,320.34 207.25,327.67 208.32,320.55 209.39,328.84 210.46,320.74 211.53,330.27 212.61,320.93 213.68,332.07 214.75,321.1 215.82,334.5 216.89,321.27 217.96,338.06 219.03,321.43 220.1,344.56 221.18,321.57" fill="none" stroke="#5ab4e6" stroke-width="1.0" stroke-dasharray="1.2 0.5"/>
<polyline points="156.9,294.91 157.97,301.84 159.04,303.1 160.11,309.01 161.19,309.06 162.26,313.67 163.33,312.5 164.4,316.11 165.47,314.19 166.54,317.3 167.61,315.04 168.68,317.94 169.75,315.55 170.83,318.39 171.9,315.95 172.97,318.78 174.04,316.3 175.11,319.14 176.18,316.63 177.25,319.49 178.32,316.96 179.4,319.84 180.47,317.29 181.54,320.2 182.61,317.61 183.68,320.56 184.75,317.93 185.82,320.93 186.9,318.25 187.97,321.3 189.04,318.56 190.11,321.67 191.18,318.87 192.25,322.06 193.32,319.17 194.39,322.44 195.47,319.48 196.54,322.84 197.61,319.78 198.68,323.24 199.75,320.07 200.82,323.66 201.89,320.36 202.96,324.08 204.03,320.65 205.11,324.52 206.18,320.93 207.25,324.98 208.32,321.21 209.39,325.45 210.46,321.48 211.53,325.94 212.61,321.75 213.68,326.45 214.75,322.01 215.82,327 216.89,322.26 217.96,327.58 219.03,322.52 220.1,328.2 221.18,322.76 222.25,328.88 223.32,323.01 224.39,329.64 225.46,323.24 226.53,330.49 227.6,323.47 228.67,331.46 229.75,323.7 230.82,332.6 231.89,323.92 232.96,333.99 234.03,324.13 235.1,335.75 236.17,324.34 237.24,338.1 238.31,324.55 239.39,341.59 240.46,324.75 241.53,347.99 242.6,324.94" fill="none" stroke="#4aa6de" stroke-width="1.0" stroke-dasharray="1.2 0.5"/>
<polyline points="156.9,294.91 157.97,301.9 159.04,303.11 160.11,309.12 161.19,309.12 162.26,313.86 163.33,312.63 164.4,316.39 165.47,314.4 166.54,317.67 167.61,315.31 168.68,318.41 169.75,315.88 170.83,318.95 171.9,316.33 172.97,319.43 174.04,316.73 175.11,319.9 176.18,317.11 177.25,320.37 178.32,317.48 179.4,320.85 180.47,317.85 181.54,321.35 182.61,318.21 183.68,321.87 184.75,318.56 185.82,322.41 186.9,318.91 187.97,322.98 189.04,319.25 190.11,323.59 191.18,319.58 192.25,324.23 193.32,319.9 194.39,324.91 195.47,320.22 196.54,325.64 197.61,320.52 198.68,326.44 199.75,320.82 200.82,327.31 201.89,321.11 202.96,328.27 204.03,321.39 205.11,329.35 206.18,321.66 207.25,330.57 208.32,321.92 209.39,331.99 210.46,322.17 211.53,333.66 212.61,322.42 213.68,335.7 214.75,322.65 215.82,338.32 216.89,322.87 217.96,341.95 219.03,323.09 220.1,347.91 221.18,323.29" fill="none" stroke="#3a90cc" stroke-width="0.9" stroke-dasharray="1.2 0.5"/>
<polyline points="156.9,294.91 157.97,301.85 159.04,303.11 160.11,309.06 161.19,309.12 162.26,313.79 163.33,312.64 164.4,316.31 165.47,314.4 166.54,317.56 167.61,315.31 168.68,318.28 169.75,315.89 170.83,318.79 171.9,316.35 172.97,319.24 174.04,316.76 175.11,319.66 176.18,317.15 177.25,320.08 178.32,317.54 179.4,320.5 180.47,317.92 181.54,320.93 182.61,318.3 183.68,321.36 184.75,318.67 185.82,321.79 186.9,319.05 187.97,322.23 189.04,319.42 190.11,322.69 191.18,319.79 192.25,323.15 193.32,320.15 194.39,323.62 195.47,320.51 196.54,324.1 197.61,320.87 198.68,324.59 199.75,321.22 200.82,325.1 201.89,321.57 202.96,325.63 204.03,321.91 205.11,326.17 206.18,322.25 207.25,326.74 208.32,322.58 209.39,327.33 210.46,322.91 211.53,327.95 212.61,323.24 213.68,328.6 214.75,323.56 215.82,329.3 216.89,323.87 217.96,330.04 219.03,324.18 220.1,330.84 221.18,324.48 222.25,331.72 223.32,324.78 224.39,332.67 225.46,325.08 226.53,333.74 227.6,325.36 228.67,334.94 229.75,325.65 230.82,336.32 231.89,325.93 232.96,337.96 234.03,326.2 235.1,339.95 236.17,326.47 237.24,342.5 238.31,326.73 239.39,346.05 240.46,326.98 241.53,351.92 242.6,327.24" fill="none" stroke="#2e86c4" stroke-width="0.9" stroke-dasharray="1.2 0.5"/>
<line x1="156.9" y1="315.82" x2="242.6" y2="331.88" stroke="#000" stroke-width="2.6" />
</g>
<rect x="156.9" y="293.3" width="85.7" height="65.1" fill="none" stroke="#555" stroke-width="1.0" />
<line x1="156.9" y1="358.39" x2="160.4" y2="358.39" stroke="#333" stroke-width="1" />
<line x1="156.9" y1="351.97" x2="158.9" y2="351.97" stroke="#333" stroke-width="0.8" />
<line x1="156.9" y1="348.21" x2="158.9" y2="348.21" stroke="#333" stroke-width="0.8" />
<line x1="156.9" y1="345.55" x2="158.9" y2="345.55" stroke="#333" stroke-width="0.8" />
<line x1="156.9" y1="343.48" x2="158.9" y2="343.48" stroke="#333" stroke-width="0.8" />
<line x1="156.9" y1="341.79" x2="158.9" y2="341.79" stroke="#333" stroke-width="0.8" />
<line x1="156.9" y1="340.36" x2="158.9" y2="340.36" stroke="#333" stroke-width="0.8" />
<line x1="156.9" y1="339.13" x2="158.9" y2="339.13" stroke="#333" stroke-width="0.8" />
<line x1="156.9" y1="338.04" x2="158.9" y2="338.04" stroke="#333" stroke-width="0.8" />
<line x1="156.9" y1="337.06" x2="160.4" y2="337.06" stroke="#333" stroke-width="1" />
<line x1="156.9" y1="330.64" x2="158.9" y2="330.64" stroke="#333" stroke-width="0.8" />
<line x1="156.9" y1="326.88" x2="158.9" y2="326.88" stroke="#333" stroke-width="0.8" />
<line x1="156.9" y1="324.22" x2="158.9" y2="324.22" stroke="#333" stroke-width="0.8" />
<line x1="156.9" y1="322.15" x2="158.9" y2="322.15" stroke="#333" stroke-width="0.8" />
<line x1="156.9" y1="320.46" x2="158.9" y2="320.46" stroke="#333" stroke-width="0.8" />
<line x1="156.9" y1="319.03" x2="158.9" y2="319.03" stroke="#333" stroke-width="0.8" />
<line x1="156.9" y1="317.8" x2="158.9" y2="317.8" stroke="#333" stroke-width="0.8" />
<line x1="156.9" y1="316.71" x2="158.9" y2="316.71" stroke="#333" stroke-width="0.8" />
<line x1="156.9" y1="315.73" x2="160.4" y2="315.73" stroke="#333" stroke-width="1" />
<line x1="156.9" y1="309.31" x2="158.9" y2="309.31" stroke="#333" stroke-width="0.8" />
<line x1="156.9" y1="305.55" x2="158.9" y2="305.55" stroke="#333" stroke-width="0.8" />
<line x1="156.9" y1="302.89" x2="158.9" y2="302.89" stroke="#333" stroke-width="0.8" />
<line x1="156.9" y1="300.82" x2="158.9" y2="300.82" stroke="#333" stroke-width="0.8" />
<line x1="156.9" y1="299.13" x2="158.9" y2="299.13" stroke="#333" stroke-width="0.8" />
<line x1="156.9" y1="297.7" x2="158.9" y2="297.7" stroke="#333" stroke-width="0.8" />
<line x1="156.9" y1="296.47" x2="158.9" y2="296.47" stroke="#333" stroke-width="0.8" />
<line x1="156.9" y1="295.38" x2="158.9" y2="295.38" stroke="#333" stroke-width="0.8" />
<line x1="156.9" y1="294.4" x2="160.4" y2="294.4" stroke="#333" stroke-width="1" />
<line x1="167.61" y1="358.4" x2="167.61" y2="356.4" stroke="#333" stroke-width="0.9" />
<line x1="178.32" y1="358.4" x2="178.32" y2="356.4" stroke="#333" stroke-width="0.9" />
<line x1="189.04" y1="358.4" x2="189.04" y2="356.4" stroke="#333" stroke-width="0.9" />
<line x1="199.75" y1="358.4" x2="199.75" y2="354.9" stroke="#333" stroke-width="0.9" />
<line x1="210.46" y1="358.4" x2="210.46" y2="356.4" stroke="#333" stroke-width="0.9" />
<line x1="221.18" y1="358.4" x2="221.18" y2="356.4" stroke="#333" stroke-width="0.9" />
<line x1="231.89" y1="358.4" x2="231.89" y2="356.4" stroke="#333" stroke-width="0.9" />
<text x="153.9" y="361.79" font-family="Liberation Serif" font-size="11" fill="#000" text-anchor="end">10<tspan font-size="7.7" dy="-4.4">−3</tspan></text>
<text x="153.9" y="340.46" font-family="Liberation Serif" font-size="11" fill="#000" text-anchor="end">10<tspan font-size="7.7" dy="-4.4">−2</tspan></text>
<text x="153.9" y="319.13" font-family="Liberation Serif" font-size="11" fill="#000" text-anchor="end">10<tspan font-size="7.7" dy="-4.4">−1</tspan></text>
<text x="153.9" y="297.8" font-family="Liberation Serif" font-size="11" fill="#000" text-anchor="end">10<tspan font-size="7.7" dy="-4.4">0</tspan></text>
<text x="156.9" y="369.4" font-family="Liberation Serif" font-size="11" fill="#000" text-anchor="middle" >0</text>
<text x="199.75" y="369.4" font-family="Liberation Serif" font-size="11" fill="#000" text-anchor="middle" >40</text>
<text x="242.6" y="369.4" font-family="Liberation Serif" font-size="11" fill="#000" text-anchor="middle" >80</text>
<text x="199.75" y="380.4" font-family="Liberation Serif" font-size="11" fill="#000" text-anchor="middle" >Site <tspan font-style="italic">ℓ</tspan></text>
<text x="198.3" y="309.2" font-family="Liberation Serif" font-size="11.5" fill="#000" text-anchor="middle" textLength="51.3" lengthAdjust="spacingAndGlyphs" ><tspan font-style="italic">U</tspan>/<tspan font-style="italic">W</tspan> = 0.3</text>
<rect x="262.8" y="293.4" width="85" height="64.9" fill="#fff" stroke="none" stroke-width="1" />
<clipPath id="ci2921"><rect x="262.8" y="293.4" width="85" height="64.9"/></clipPath>
<g clip-path="url(#ci2921)">
<line x1="262.8" y1="296" x2="309.98" y2="358.3" stroke="#000" stroke-width="2.4" />
<polyline points="262.8,296.01 263.86,297.42 264.93,298.82 265.99,300.22 267.05,301.62 268.11,303.02 269.18,304.42 270.24,305.82 271.3,307.21 272.36,308.61 273.43,310.01 274.49,311.4 275.55,312.79 276.61,314.18 277.68,315.56 278.74,316.94 279.8,318.31 280.86,319.66 281.93,321 282.99,322.32 284.05,323.6 285.11,324.86 286.18,326.06 287.24,327.2 288.3,328.25 289.36,329.21 290.43,330.04 291.49,330.71 292.55,331.22 293.61,331.53 294.68,331.64 295.74,331.53 296.8,331.22 297.86,330.71 298.93,330.04 299.99,329.21 301.05,328.25 302.11,327.2 303.18,326.06 304.24,324.86 305.3,323.6 306.36,322.32 307.43,321 308.49,319.66 309.55,318.31 310.61,316.94 311.68,315.56 312.74,314.18 313.8,312.79 314.86,311.4 315.93,310.01 316.99,308.61 318.05,307.21 319.11,305.82 320.18,304.42 321.24,303.02 322.3,301.62 323.36,300.22 324.43,298.82 325.49,297.42 326.55,296.01" fill="none" stroke="#f2b068" stroke-width="1.6" />
<polyline points="262.8,296.02 263.86,297.42 264.93,298.82 265.99,300.22 267.05,301.62 268.11,303.02 269.18,304.42 270.24,305.82 271.3,307.23 272.36,308.63 273.43,310.03 274.49,311.43 275.55,312.83 276.61,314.23 277.68,315.63 278.74,317.03 279.8,318.43 280.86,319.83 281.93,321.23 282.99,322.63 284.05,324.02 285.11,325.42 286.18,326.81 287.24,328.19 288.3,329.58 289.36,330.95 290.43,332.32 291.49,333.67 292.55,335.01 293.61,336.33 294.68,337.62 295.74,338.87 296.8,340.07 297.86,341.21 298.93,342.27 299.99,343.22 301.05,344.05 302.11,344.73 303.18,345.23 304.24,345.55 305.3,345.65 306.36,345.55 307.43,345.23 308.49,344.73 309.55,344.05 310.61,343.22 311.68,342.27 312.74,341.21 313.8,340.07 314.86,338.87 315.93,337.62 316.99,336.33 318.05,335.01 319.11,333.67 320.18,332.32 321.24,330.95 322.3,329.58 323.36,328.19 324.43,326.81 325.49,325.42 326.55,324.02 327.61,322.63 328.68,321.23 329.74,319.83 330.8,318.43 331.86,317.03 332.93,315.63 333.99,314.23 335.05,312.83 336.11,311.43 337.18,310.03 338.24,308.63 339.3,307.23 340.36,305.82 341.43,304.42 342.49,303.02 343.55,301.62 344.61,300.22 345.68,298.82 346.74,297.42 347.8,296.02" fill="none" stroke="#e8902e" stroke-width="2.0" />
</g>
<rect x="262.8" y="293.4" width="85" height="64.9" fill="none" stroke="#555" stroke-width="1.0" />
<line x1="262.8" y1="358.39" x2="266.3" y2="358.39" stroke="#333" stroke-width="1" />
<line x1="262.8" y1="351.97" x2="264.8" y2="351.97" stroke="#333" stroke-width="0.8" />
<line x1="262.8" y1="348.21" x2="264.8" y2="348.21" stroke="#333" stroke-width="0.8" />
<line x1="262.8" y1="345.55" x2="264.8" y2="345.55" stroke="#333" stroke-width="0.8" />
<line x1="262.8" y1="343.48" x2="264.8" y2="343.48" stroke="#333" stroke-width="0.8" />
<line x1="262.8" y1="341.79" x2="264.8" y2="341.79" stroke="#333" stroke-width="0.8" />
<line x1="262.8" y1="340.36" x2="264.8" y2="340.36" stroke="#333" stroke-width="0.8" />
<line x1="262.8" y1="339.13" x2="264.8" y2="339.13" stroke="#333" stroke-width="0.8" />
<line x1="262.8" y1="338.04" x2="264.8" y2="338.04" stroke="#333" stroke-width="0.8" />
<line x1="262.8" y1="337.06" x2="266.3" y2="337.06" stroke="#333" stroke-width="1" />
<line x1="262.8" y1="330.64" x2="264.8" y2="330.64" stroke="#333" stroke-width="0.8" />
<line x1="262.8" y1="326.88" x2="264.8" y2="326.88" stroke="#333" stroke-width="0.8" />
<line x1="262.8" y1="324.22" x2="264.8" y2="324.22" stroke="#333" stroke-width="0.8" />
<line x1="262.8" y1="322.15" x2="264.8" y2="322.15" stroke="#333" stroke-width="0.8" />
<line x1="262.8" y1="320.46" x2="264.8" y2="320.46" stroke="#333" stroke-width="0.8" />
<line x1="262.8" y1="319.03" x2="264.8" y2="319.03" stroke="#333" stroke-width="0.8" />
<line x1="262.8" y1="317.8" x2="264.8" y2="317.8" stroke="#333" stroke-width="0.8" />
<line x1="262.8" y1="316.71" x2="264.8" y2="316.71" stroke="#333" stroke-width="0.8" />
<line x1="262.8" y1="315.73" x2="266.3" y2="315.73" stroke="#333" stroke-width="1" />
<line x1="262.8" y1="309.31" x2="264.8" y2="309.31" stroke="#333" stroke-width="0.8" />
<line x1="262.8" y1="305.55" x2="264.8" y2="305.55" stroke="#333" stroke-width="0.8" />
<line x1="262.8" y1="302.89" x2="264.8" y2="302.89" stroke="#333" stroke-width="0.8" />
<line x1="262.8" y1="300.82" x2="264.8" y2="300.82" stroke="#333" stroke-width="0.8" />
<line x1="262.8" y1="299.13" x2="264.8" y2="299.13" stroke="#333" stroke-width="0.8" />
<line x1="262.8" y1="297.7" x2="264.8" y2="297.7" stroke="#333" stroke-width="0.8" />
<line x1="262.8" y1="296.47" x2="264.8" y2="296.47" stroke="#333" stroke-width="0.8" />
<line x1="262.8" y1="295.38" x2="264.8" y2="295.38" stroke="#333" stroke-width="0.8" />
<line x1="262.8" y1="294.4" x2="266.3" y2="294.4" stroke="#333" stroke-width="1" />
<line x1="273.43" y1="358.3" x2="273.43" y2="356.3" stroke="#333" stroke-width="0.9" />
<line x1="284.05" y1="358.3" x2="284.05" y2="356.3" stroke="#333" stroke-width="0.9" />
<line x1="294.68" y1="358.3" x2="294.68" y2="356.3" stroke="#333" stroke-width="0.9" />
<line x1="305.3" y1="358.3" x2="305.3" y2="354.8" stroke="#333" stroke-width="0.9" />
<line x1="315.93" y1="358.3" x2="315.93" y2="356.3" stroke="#333" stroke-width="0.9" />
<line x1="326.55" y1="358.3" x2="326.55" y2="356.3" stroke="#333" stroke-width="0.9" />
<line x1="337.18" y1="358.3" x2="337.18" y2="356.3" stroke="#333" stroke-width="0.9" />
<text x="262.8" y="369.3" font-family="Liberation Serif" font-size="11" fill="#000" text-anchor="middle" >0</text>
<text x="305.3" y="369.3" font-family="Liberation Serif" font-size="11" fill="#000" text-anchor="middle" >40</text>
<text x="347.8" y="369.3" font-family="Liberation Serif" font-size="11" fill="#000" text-anchor="middle" >80</text>
<text x="305.3" y="380.3" font-family="Liberation Serif" font-size="11" fill="#000" text-anchor="middle" >Site <tspan font-style="italic">ℓ</tspan></text>
<text x="303.7" y="290.6" font-family="Liberation Serif" font-size="11.5" fill="#000" text-anchor="middle" textLength="51.3" lengthAdjust="spacingAndGlyphs" ><tspan font-style="italic">U</tspan>/<tspan font-style="italic">W</tspan> = 6.5</text>
<text x="320.3" y="317" font-family="Liberation Serif" font-size="11" fill="#000" text-anchor="middle" textLength="30" lengthAdjust="spacingAndGlyphs" transform="rotate(-49 320.3 317)" ><tspan font-style="italic">L</tspan> = 60</text>
<text x="337" y="327" font-family="Liberation Serif" font-size="11" fill="#000" text-anchor="middle" textLength="30" lengthAdjust="spacingAndGlyphs" transform="rotate(-49 337 327)" ><tspan font-style="italic">L</tspan> = 80</text>
<g clip-path="url(#clipD)">
<rect x="420.11" y="214.1" width="6.45" height="12.89" fill="#1d4070"/>
<rect x="425.91" y="214.1" width="6.45" height="12.89" fill="#204f82"/>
<rect x="431.72" y="214.1" width="6.45" height="12.89" fill="#2a6da6"/>
<rect x="437.52" y="214.1" width="6.45" height="12.89" fill="#3284c2"/>
<rect x="443.32" y="214.1" width="6.45" height="12.89" fill="#46b2e8"/>
<rect x="449.13" y="214.1" width="6.45" height="12.89" fill="#46b2e8"/>
<rect x="454.94" y="214.1" width="6.45" height="12.89" fill="#46b2e8"/>
<rect x="460.74" y="214.1" width="6.45" height="12.89" fill="#3c9bd5"/>
<rect x="466.55" y="214.1" width="6.45" height="12.89" fill="#2f7cb9"/>
<rect x="472.35" y="214.1" width="6.45" height="12.89" fill="#23598e"/>
<rect x="478.16" y="214.1" width="6.45" height="12.89" fill="#1b3866"/>
<rect x="483.96" y="214.1" width="6.45" height="12.89" fill="#18264e"/>
<rect x="489.76" y="214.1" width="6.45" height="12.89" fill="#1d2046"/>
<rect x="495.57" y="214.1" width="6.45" height="12.89" fill="#2a234a"/>
<rect x="501.38" y="214.1" width="6.45" height="12.89" fill="#38274f"/>
<rect x="507.18" y="214.1" width="6.45" height="12.89" fill="#542b4d"/>
<rect x="512.99" y="214.1" width="6.45" height="12.89" fill="#723048"/>
<rect x="518.79" y="214.1" width="6.45" height="12.89" fill="#913541"/>
<rect x="524.6" y="214.1" width="6.45" height="12.89" fill="#b83b38"/>
<rect x="530.4" y="214.1" width="6.45" height="12.89" fill="#d7412f"/>
<rect x="536.21" y="214.1" width="6.45" height="12.89" fill="#e94b2a"/>
<rect x="542.01" y="214.1" width="6.45" height="12.89" fill="#ea4e2a"/>
<rect x="547.82" y="214.1" width="6.45" height="12.89" fill="#ea542a"/>
<rect x="553.62" y="214.1" width="6.45" height="12.89" fill="#e95a2a"/>
<rect x="559.42" y="214.1" width="6.45" height="12.89" fill="#e95e2a"/>
<rect x="565.23" y="214.1" width="6.45" height="12.89" fill="#e9622a"/>
<rect x="571.04" y="214.1" width="6.45" height="12.89" fill="#e9622a"/>
<rect x="576.84" y="214.1" width="6.45" height="12.89" fill="#e9642a"/>
<rect x="582.64" y="214.1" width="6.45" height="12.89" fill="#e9652a"/>
<rect x="588.45" y="214.1" width="6.45" height="12.89" fill="#e9672a"/>
<rect x="594.25" y="214.1" width="6.45" height="12.89" fill="#e8692a"/>
<rect x="600.06" y="214.1" width="6.45" height="12.89" fill="#e86a2a"/>
<rect x="605.87" y="214.1" width="6.45" height="12.89" fill="#e86c2a"/>
<rect x="611.67" y="214.1" width="6.45" height="12.89" fill="#e86e2a"/>
<rect x="617.48" y="214.1" width="6.45" height="12.89" fill="#e86f2a"/>
<rect x="623.28" y="214.1" width="6.45" height="12.89" fill="#e8712a"/>
<rect x="629.09" y="214.1" width="6.45" height="12.89" fill="#e8732a"/>
<rect x="634.89" y="214.1" width="6.45" height="12.89" fill="#e8752a"/>
<rect x="640.7" y="214.1" width="5.85" height="12.89" fill="#e9762a"/>
<rect x="420.11" y="226.39" width="6.45" height="12.89" fill="#1d4070"/>
<rect x="425.91" y="226.39" width="6.45" height="12.89" fill="#204f82"/>
<rect x="431.72" y="226.39" width="6.45" height="12.89" fill="#2a6da6"/>
<rect x="437.52" y="226.39" width="6.45" height="12.89" fill="#3387c4"/>
<rect x="443.32" y="226.39" width="6.45" height="12.89" fill="#46b2e8"/>
<rect x="449.13" y="226.39" width="6.45" height="12.89" fill="#46b2e8"/>
<rect x="454.94" y="226.39" width="6.45" height="12.89" fill="#46b2e8"/>
<rect x="460.74" y="226.39" width="6.45" height="12.89" fill="#40a4dc"/>
<rect x="466.55" y="226.39" width="6.45" height="12.89" fill="#3387c4"/>
<rect x="472.35" y="226.39" width="6.45" height="12.89" fill="#2a6da6"/>
<rect x="478.16" y="226.39" width="6.45" height="12.89" fill="#1e4677"/>
<rect x="483.96" y="226.39" width="6.45" height="12.89" fill="#182a55"/>
<rect x="489.76" y="226.39" width="6.45" height="12.89" fill="#1d2046"/>
<rect x="495.57" y="226.39" width="6.45" height="12.89" fill="#242248"/>
<rect x="501.38" y="226.39" width="6.45" height="12.89" fill="#38274f"/>
<rect x="507.18" y="226.39" width="6.45" height="12.89" fill="#542b4d"/>
<rect x="512.99" y="226.39" width="6.45" height="12.89" fill="#723048"/>
<rect x="518.79" y="226.39" width="6.45" height="12.89" fill="#913541"/>
<rect x="524.6" y="226.39" width="6.45" height="12.89" fill="#b03a3a"/>
<rect x="530.4" y="226.39" width="6.45" height="12.89" fill="#cf4031"/>
<rect x="536.21" y="226.39" width="6.45" height="12.89" fill="#e2462c"/>
<rect x="542.01" y="226.39" width="6.45" height="12.89" fill="#e94b2a"/>
<rect x="547.82" y="226.39" width="6.45" height="12.89" fill="#ea502a"/>
<rect x="553.62" y="226.39" width="6.45" height="12.89" fill="#ea542a"/>
<rect x="559.42" y="226.39" width="6.45" height="12.89" fill="#e95a2a"/>
<rect x="565.23" y="226.39" width="6.45" height="12.89" fill="#e95e2a"/>
<rect x="571.04" y="226.39" width="6.45" height="12.89" fill="#e95e2a"/>
<rect x="576.84" y="226.39" width="6.45" height="12.89" fill="#e9602a"/>
<rect x="582.64" y="226.39" width="6.45" height="12.89" fill="#e9622a"/>
<rect x="588.45" y="226.39" width="6.45" height="12.89" fill="#e9642a"/>
<rect x="594.25" y="226.39" width="6.45" height="12.89" fill="#e9652a"/>
<rect x="600.06" y="226.39" width="6.45" height="12.89" fill="#e9672a"/>
<rect x="605.87" y="226.39" width="6.45" height="12.89" fill="#e8692a"/>
<rect x="611.67" y="226.39" width="6.45" height="12.89" fill="#e86b2a"/>
<rect x="617.48" y="226.39" width="6.45" height="12.89" fill="#e86d2a"/>
<rect x="623.28" y="226.39" width="6.45" height="12.89" fill="#e86f2a"/>
<rect x="629.09" y="226.39" width="6.45" height="12.89" fill="#e8702a"/>
<rect x="634.89" y="226.39" width="6.45" height="12.89" fill="#e8722a"/>
<rect x="640.7" y="226.39" width="5.85" height="12.89" fill="#e8742a"/>
<rect x="420.11" y="238.67" width="6.45" height="12.89" fill="#1d4070"/>
<rect x="425.91" y="238.67" width="6.45" height="12.89" fill="#204f82"/>
<rect x="431.72" y="238.67" width="6.45" height="12.89" fill="#2a6da6"/>
<rect x="437.52" y="238.67" width="6.45" height="12.89" fill="#3387c4"/>
<rect x="443.32" y="238.67" width="6.45" height="12.89" fill="#46b2e8"/>
<rect x="449.13" y="238.67" width="6.45" height="12.89" fill="#46b2e8"/>
<rect x="454.94" y="238.67" width="6.45" height="12.89" fill="#46b2e8"/>
<rect x="460.74" y="238.67" width="6.45" height="12.89" fill="#42a9e1"/>
<rect x="466.55" y="238.67" width="6.45" height="12.89" fill="#3790cc"/>
<rect x="472.35" y="238.67" width="6.45" height="12.89" fill="#2d74af"/>
<rect x="478.16" y="238.67" width="6.45" height="12.89" fill="#204f82"/>
<rect x="483.96" y="238.67" width="6.45" height="12.89" fill="#1a325f"/>
<rect x="489.76" y="238.67" width="6.45" height="12.89" fill="#161e44"/>
<rect x="495.57" y="238.67" width="6.45" height="12.89" fill="#242248"/>
<rect x="501.38" y="238.67" width="6.45" height="12.89" fill="#38274f"/>
<rect x="507.18" y="238.67" width="6.45" height="12.89" fill="#542b4d"/>
<rect x="512.99" y="238.67" width="6.45" height="12.89" fill="#723048"/>
<rect x="518.79" y="238.67" width="6.45" height="12.89" fill="#8a3443"/>
<rect x="524.6" y="238.67" width="6.45" height="12.89" fill="#a4383d"/>
<rect x="530.4" y="238.67" width="6.45" height="12.89" fill="#c43e35"/>
<rect x="536.21" y="238.67" width="6.45" height="12.89" fill="#dd432e"/>
<rect x="542.01" y="238.67" width="6.45" height="12.89" fill="#e94b2a"/>
<rect x="547.82" y="238.67" width="6.45" height="12.89" fill="#e94b2a"/>
<rect x="553.62" y="238.67" width="6.45" height="12.89" fill="#ea502a"/>
<rect x="559.42" y="238.67" width="6.45" height="12.89" fill="#ea542a"/>
<rect x="565.23" y="238.67" width="6.45" height="12.89" fill="#e95a2a"/>
<rect x="571.04" y="238.67" width="6.45" height="12.89" fill="#e95a2a"/>
<rect x="576.84" y="238.67" width="6.45" height="12.89" fill="#e95c2a"/>
<rect x="582.64" y="238.67" width="6.45" height="12.89" fill="#e95e2a"/>
<rect x="588.45" y="238.67" width="6.45" height="12.89" fill="#e9602a"/>
<rect x="594.25" y="238.67" width="6.45" height="12.89" fill="#e9622a"/>
<rect x="600.06" y="238.67" width="6.45" height="12.89" fill="#e9642a"/>
<rect x="605.87" y="238.67" width="6.45" height="12.89" fill="#e9662a"/>
<rect x="611.67" y="238.67" width="6.45" height="12.89" fill="#e9682a"/>
<rect x="617.48" y="238.67" width="6.45" height="12.89" fill="#e86a2a"/>
<rect x="623.28" y="238.67" width="6.45" height="12.89" fill="#e86c2a"/>
<rect x="629.09" y="238.67" width="6.45" height="12.89" fill="#e86e2a"/>
<rect x="634.89" y="238.67" width="6.45" height="12.89" fill="#e8702a"/>
<rect x="640.7" y="238.67" width="5.85" height="12.89" fill="#e8722a"/>
<rect x="420.11" y="250.96" width="6.45" height="12.89" fill="#1d4070"/>
<rect x="425.91" y="250.96" width="6.45" height="12.89" fill="#204f82"/>
<rect x="431.72" y="250.96" width="6.45" height="12.89" fill="#266198"/>
<rect x="437.52" y="250.96" width="6.45" height="12.89" fill="#2f7cb9"/>
<rect x="443.32" y="250.96" width="6.45" height="12.89" fill="#3a95d0"/>
<rect x="449.13" y="250.96" width="6.45" height="12.89" fill="#46b2e8"/>
<rect x="454.94" y="250.96" width="6.45" height="12.89" fill="#46b2e8"/>
<rect x="460.74" y="250.96" width="6.45" height="12.89" fill="#44ace3"/>
<rect x="466.55" y="250.96" width="6.45" height="12.89" fill="#3a95d0"/>
<rect x="472.35" y="250.96" width="6.45" height="12.89" fill="#2d74af"/>
<rect x="478.16" y="250.96" width="6.45" height="12.89" fill="#22558a"/>
<rect x="483.96" y="250.96" width="6.45" height="12.89" fill="#1b3866"/>
<rect x="489.76" y="250.96" width="6.45" height="12.89" fill="#18264e"/>
<rect x="495.57" y="250.96" width="6.45" height="12.89" fill="#1d2046"/>
<rect x="501.38" y="250.96" width="6.45" height="12.89" fill="#31254d"/>
<rect x="507.18" y="250.96" width="6.45" height="12.89" fill="#4a2a4e"/>
<rect x="512.99" y="250.96" width="6.45" height="12.89" fill="#632e4a"/>
<rect x="518.79" y="250.96" width="6.45" height="12.89" fill="#7e3246"/>
<rect x="524.6" y="250.96" width="6.45" height="12.89" fill="#973640"/>
<rect x="530.4" y="250.96" width="6.45" height="12.89" fill="#b83b38"/>
<rect x="536.21" y="250.96" width="6.45" height="12.89" fill="#d7412f"/>
<rect x="542.01" y="250.96" width="6.45" height="12.89" fill="#e4482c"/>
<rect x="547.82" y="250.96" width="6.45" height="12.89" fill="#e94b2a"/>
<rect x="553.62" y="250.96" width="6.45" height="12.89" fill="#e94b2a"/>
<rect x="559.42" y="250.96" width="6.45" height="12.89" fill="#ea502a"/>
<rect x="565.23" y="250.96" width="6.45" height="12.89" fill="#ea542a"/>
<rect x="571.04" y="250.96" width="6.45" height="12.89" fill="#e9562a"/>
<rect x="576.84" y="250.96" width="6.45" height="12.89" fill="#e9592a"/>
<rect x="582.64" y="250.96" width="6.45" height="12.89" fill="#e95b2a"/>
<rect x="588.45" y="250.96" width="6.45" height="12.89" fill="#e95d2a"/>
<rect x="594.25" y="250.96" width="6.45" height="12.89" fill="#e9602a"/>
<rect x="600.06" y="250.96" width="6.45" height="12.89" fill="#e9622a"/>
<rect x="605.87" y="250.96" width="6.45" height="12.89" fill="#e9642a"/>
<rect x="611.67" y="250.96" width="6.45" height="12.89" fill="#e9662a"/>
<rect x="617.48" y="250.96" width="6.45" height="12.89" fill="#e8692a"/>
<rect x="623.28" y="250.96" width="6.45" height="12.89" fill="#e86b2a"/>
<rect x="629.09" y="250.96" width="6.45" height="12.89" fill="#e86d2a"/>
<rect x="634.89" y="250.96" width="6.45" height="12.89" fill="#e8702a"/>
<rect x="640.7" y="250.96" width="5.85" height="12.89" fill="#e8722a"/>
<rect x="420.11" y="263.25" width="6.45" height="12.89" fill="#204f82"/>
<rect x="425.91" y="263.25" width="6.45" height="12.89" fill="#1c3b69"/>
<rect x="431.72" y="263.25" width="6.45" height="12.89" fill="#1e4677"/>
<rect x="437.52" y="263.25" width="6.45" height="12.89" fill="#3180bd"/>
<rect x="443.32" y="263.25" width="6.45" height="12.89" fill="#3a95d0"/>
<rect x="449.13" y="263.25" width="6.45" height="12.89" fill="#46b2e8"/>
<rect x="454.94" y="263.25" width="6.45" height="12.89" fill="#46b2e8"/>
<rect x="460.74" y="263.25" width="6.45" height="12.89" fill="#3c9bd5"/>
<rect x="466.55" y="263.25" width="6.45" height="12.89" fill="#2d74af"/>
<rect x="472.35" y="263.25" width="6.45" height="12.89" fill="#2a6da6"/>
<rect x="478.16" y="263.25" width="6.45" height="12.89" fill="#204f82"/>
<rect x="483.96" y="263.25" width="6.45" height="12.89" fill="#1b3866"/>
<rect x="489.76" y="263.25" width="6.45" height="12.89" fill="#192d58"/>
<rect x="495.57" y="263.25" width="6.45" height="12.89" fill="#18264e"/>
<rect x="501.38" y="263.25" width="6.45" height="12.89" fill="#1d2046"/>
<rect x="507.18" y="263.25" width="6.45" height="12.89" fill="#35264e"/>
<rect x="512.99" y="263.25" width="6.45" height="12.89" fill="#40294f"/>
<rect x="518.79" y="263.25" width="6.45" height="12.89" fill="#592c4c"/>
<rect x="524.6" y="263.25" width="6.45" height="12.89" fill="#723048"/>
<rect x="530.4" y="263.25" width="6.45" height="12.89" fill="#9d373e"/>
<rect x="536.21" y="263.25" width="6.45" height="12.89" fill="#c43e35"/>
<rect x="542.01" y="263.25" width="6.45" height="12.89" fill="#e2462c"/>
<rect x="547.82" y="263.25" width="6.45" height="12.89" fill="#e94b2a"/>
<rect x="553.62" y="263.25" width="6.45" height="12.89" fill="#e94b2a"/>
<rect x="559.42" y="263.25" width="6.45" height="12.89" fill="#ea542a"/>
<rect x="565.23" y="263.25" width="6.45" height="12.89" fill="#e95e2a"/>
<rect x="571.04" y="263.25" width="6.45" height="12.89" fill="#e95a2a"/>
<rect x="576.84" y="263.25" width="6.45" height="12.89" fill="#e95c2a"/>
<rect x="582.64" y="263.25" width="6.45" height="12.89" fill="#e95f2a"/>
<rect x="588.45" y="263.25" width="6.45" height="12.89" fill="#e9612a"/>
<rect x="594.25" y="263.25" width="6.45" height="12.89" fill="#e9632a"/>
<rect x="600.06" y="263.25" width="6.45" height="12.89" fill="#e9652a"/>
<rect x="605.87" y="263.25" width="6.45" height="12.89" fill="#e9672a"/>
<rect x="611.67" y="263.25" width="6.45" height="12.89" fill="#e8692a"/>
<rect x="617.48" y="263.25" width="6.45" height="12.89" fill="#e86b2a"/>
<rect x="623.28" y="263.25" width="6.45" height="12.89" fill="#e86e2a"/>
<rect x="629.09" y="263.25" width="6.45" height="12.89" fill="#e8702a"/>
<rect x="634.89" y="263.25" width="6.45" height="12.89" fill="#e8722a"/>
<rect x="640.7" y="263.25" width="5.85" height="12.89" fill="#e8742a"/>
<rect x="420.11" y="275.54" width="6.45" height="12.89" fill="#204f82"/>
<rect x="425.91" y="275.54" width="6.45" height="12.89" fill="#1b3866"/>
<rect x="431.72" y="275.54" width="6.45" height="12.89" fill="#1e4677"/>
<rect x="437.52" y="275.54" width="6.45" height="12.89" fill="#3180bd"/>
<rect x="443.32" y="275.54" width="6.45" height="12.89" fill="#3a95d0"/>
<rect x="449.13" y="275.54" width="6.45" height="12.89" fill="#46b2e8"/>
<rect x="454.94" y="275.54" width="6.45" height="12.89" fill="#46b2e8"/>
<rect x="460.74" y="275.54" width="6.45" height="12.89" fill="#44ace3"/>
<rect x="466.55" y="275.54" width="6.45" height="12.89" fill="#368dc9"/>
<rect x="472.35" y="275.54" width="6.45" height="12.89" fill="#2a6da6"/>
<rect x="478.16" y="275.54" width="6.45" height="12.89" fill="#2969a1"/>
<rect x="483.96" y="275.54" width="6.45" height="12.89" fill="#1d4070"/>
<rect x="489.76" y="275.54" width="6.45" height="12.89" fill="#1a325f"/>
<rect x="495.57" y="275.54" width="6.45" height="12.89" fill="#182a55"/>
<rect x="501.38" y="275.54" width="6.45" height="12.89" fill="#161e44"/>
<rect x="507.18" y="275.54" width="6.45" height="12.89" fill="#272249"/>
<rect x="512.99" y="275.54" width="6.45" height="12.89" fill="#35264e"/>
<rect x="518.79" y="275.54" width="6.45" height="12.89" fill="#4a2a4e"/>
<rect x="524.6" y="275.54" width="6.45" height="12.89" fill="#682e4a"/>
<rect x="530.4" y="275.54" width="6.45" height="12.89" fill="#843344"/>
<rect x="536.21" y="275.54" width="6.45" height="12.89" fill="#b03a3a"/>
<rect x="542.01" y="275.54" width="6.45" height="12.89" fill="#c43e35"/>
<rect x="547.82" y="275.54" width="6.45" height="12.89" fill="#dd432e"/>
<rect x="553.62" y="275.54" width="6.45" height="12.89" fill="#e94b2a"/>
<rect x="559.42" y="275.54" width="6.45" height="12.89" fill="#e94b2a"/>
<rect x="565.23" y="275.54" width="6.45" height="12.89" fill="#ea542a"/>
<rect x="571.04" y="275.54" width="6.45" height="12.89" fill="#ea542a"/>
<rect x="576.84" y="275.54" width="6.45" height="12.89" fill="#e9572a"/>
<rect x="582.64" y="275.54" width="6.45" height="12.89" fill="#e9592a"/>
<rect x="588.45" y="275.54" width="6.45" height="12.89" fill="#e95c2a"/>
<rect x="594.25" y="275.54" width="6.45" height="12.89" fill="#e95e2a"/>
<rect x="600.06" y="275.54" width="6.45" height="12.89" fill="#e9612a"/>
<rect x="605.87" y="275.54" width="6.45" height="12.89" fill="#e9632a"/>
<rect x="611.67" y="275.54" width="6.45" height="12.89" fill="#e9662a"/>
<rect x="617.48" y="275.54" width="6.45" height="12.89" fill="#e9682a"/>
<rect x="623.28" y="275.54" width="6.45" height="12.89" fill="#e86b2a"/>
<rect x="629.09" y="275.54" width="6.45" height="12.89" fill="#e86d2a"/>
<rect x="634.89" y="275.54" width="6.45" height="12.89" fill="#e8702a"/>
<rect x="640.7" y="275.54" width="5.85" height="12.89" fill="#e8722a"/>
<rect x="420.11" y="287.82" width="6.45" height="12.89" fill="#204f82"/>
<rect x="425.91" y="287.82" width="6.45" height="12.89" fill="#23598e"/>
<rect x="431.72" y="287.82" width="6.45" height="12.89" fill="#204f82"/>
<rect x="437.52" y="287.82" width="6.45" height="12.89" fill="#3180bd"/>
<rect x="443.32" y="287.82" width="6.45" height="12.89" fill="#3a95d0"/>
<rect x="449.13" y="287.82" width="6.45" height="12.89" fill="#46b2e8"/>
<rect x="454.94" y="287.82" width="6.45" height="12.89" fill="#46b2e8"/>
<rect x="460.74" y="287.82" width="6.45" height="12.89" fill="#41a6de"/>
<rect x="466.55" y="287.82" width="6.45" height="12.89" fill="#348ac7"/>
<rect x="472.35" y="287.82" width="6.45" height="12.89" fill="#2f7cb9"/>
<rect x="478.16" y="287.82" width="6.45" height="12.89" fill="#2a6da6"/>
<rect x="483.96" y="287.82" width="6.45" height="12.89" fill="#23598e"/>
<rect x="489.76" y="287.82" width="6.45" height="12.89" fill="#1e4677"/>
<rect x="495.57" y="287.82" width="6.45" height="12.89" fill="#1a325f"/>
<rect x="501.38" y="287.82" width="6.45" height="12.89" fill="#182852"/>
<rect x="507.18" y="287.82" width="6.45" height="12.89" fill="#161e44"/>
<rect x="512.99" y="287.82" width="6.45" height="12.89" fill="#242248"/>
<rect x="518.79" y="287.82" width="6.45" height="12.89" fill="#31254d"/>
<rect x="524.6" y="287.82" width="6.45" height="12.89" fill="#4a2a4e"/>
<rect x="530.4" y="287.82" width="6.45" height="12.89" fill="#632e4a"/>
<rect x="536.21" y="287.82" width="6.45" height="12.89" fill="#9d373e"/>
<rect x="542.01" y="287.82" width="6.45" height="12.89" fill="#b83b38"/>
<rect x="547.82" y="287.82" width="6.45" height="12.89" fill="#cf4031"/>
<rect x="553.62" y="287.82" width="6.45" height="12.89" fill="#e2462c"/>
<rect x="559.42" y="287.82" width="6.45" height="12.89" fill="#e94b2a"/>
<rect x="565.23" y="287.82" width="6.45" height="12.89" fill="#e94b2a"/>
<rect x="571.04" y="287.82" width="6.45" height="12.89" fill="#ea4e2a"/>
<rect x="576.84" y="287.82" width="6.45" height="12.89" fill="#ea512a"/>
<rect x="582.64" y="287.82" width="6.45" height="12.89" fill="#ea542a"/>
<rect x="588.45" y="287.82" width="6.45" height="12.89" fill="#e9572a"/>
<rect x="594.25" y="287.82" width="6.45" height="12.89" fill="#e95a2a"/>
<rect x="600.06" y="287.82" width="6.45" height="12.89" fill="#e95d2a"/>
<rect x="605.87" y="287.82" width="6.45" height="12.89" fill="#e9602a"/>
<rect x="611.67" y="287.82" width="6.45" height="12.89" fill="#e9632a"/>
<rect x="617.48" y="287.82" width="6.45" height="12.89" fill="#e9662a"/>
<rect x="623.28" y="287.82" width="6.45" height="12.89" fill="#e8692a"/>
<rect x="629.09" y="287.82" width="6.45" height="12.89" fill="#e86c2a"/>
<rect x="634.89" y="287.82" width="6.45" height="12.89" fill="#e86f2a"/>
<rect x="640.7" y="287.82" width="5.85" height="12.89" fill="#e8722a"/>
<rect x="420.11" y="300.11" width="6.45" height="12.89" fill="#23598e"/>
<rect x="425.91" y="300.11" width="6.45" height="12.89" fill="#2969a1"/>
<rect x="431.72" y="300.11" width="6.45" height="12.89" fill="#2969a1"/>
<rect x="437.52" y="300.11" width="6.45" height="12.89" fill="#3180bd"/>
<rect x="443.32" y="300.11" width="6.45" height="12.89" fill="#3a95d0"/>
<rect x="449.13" y="300.11" width="6.45" height="12.89" fill="#41a6de"/>
<rect x="454.94" y="300.11" width="6.45" height="12.89" fill="#46b2e8"/>
<rect x="460.74" y="300.11" width="6.45" height="12.89" fill="#46b2e8"/>
<rect x="466.55" y="300.11" width="6.45" height="12.89" fill="#3a95d0"/>
<rect x="472.35" y="300.11" width="6.45" height="12.89" fill="#3180bd"/>
<rect x="478.16" y="300.11" width="6.45" height="12.89" fill="#2d74af"/>
<rect x="483.96" y="300.11" width="6.45" height="12.89" fill="#2969a1"/>
<rect x="489.76" y="300.11" width="6.45" height="12.89" fill="#23598e"/>
<rect x="495.57" y="300.11" width="6.45" height="12.89" fill="#2a6da6"/>
<rect x="501.38" y="300.11" width="6.45" height="12.89" fill="#1a325f"/>
<rect x="507.18" y="300.11" width="6.45" height="12.89" fill="#182852"/>
<rect x="512.99" y="300.11" width="6.45" height="12.89" fill="#161e44"/>
<rect x="518.79" y="300.11" width="6.45" height="12.89" fill="#242248"/>
<rect x="524.6" y="300.11" width="6.45" height="12.89" fill="#31254d"/>
<rect x="530.4" y="300.11" width="6.45" height="12.89" fill="#4a2a4e"/>
<rect x="536.21" y="300.11" width="6.45" height="12.89" fill="#723048"/>
<rect x="542.01" y="300.11" width="6.45" height="12.89" fill="#913541"/>
<rect x="547.82" y="300.11" width="6.45" height="12.89" fill="#b83b38"/>
<rect x="553.62" y="300.11" width="6.45" height="12.89" fill="#cf4031"/>
<rect x="559.42" y="300.11" width="6.45" height="12.89" fill="#e2462c"/>
<rect x="565.23" y="300.11" width="6.45" height="12.89" fill="#e94b2a"/>
<rect x="571.04" y="300.11" width="6.45" height="12.89" fill="#e94b2a"/>
<rect x="576.84" y="300.11" width="6.45" height="12.89" fill="#ea4e2a"/>
<rect x="582.64" y="300.11" width="6.45" height="12.89" fill="#ea512a"/>
<rect x="588.45" y="300.11" width="6.45" height="12.89" fill="#ea542a"/>
<rect x="594.25" y="300.11" width="6.45" height="12.89" fill="#e9572a"/>
<rect x="600.06" y="300.11" width="6.45" height="12.89" fill="#e95a2a"/>
<rect x="605.87" y="300.11" width="6.45" height="12.89" fill="#e95d2a"/>
<rect x="611.67" y="300.11" width="6.45" height="12.89" fill="#e9602a"/>
<rect x="617.48" y="300.11" width="6.45" height="12.89" fill="#e9632a"/>
<rect x="623.28" y="300.11" width="6.45" height="12.89" fill="#e9672a"/>
<rect x="629.09" y="300.11" width="6.45" height="12.89" fill="#e86a2a"/>
<rect x="634.89" y="300.11" width="6.45" height="12.89" fill="#e86d2a"/>
<rect x="640.7" y="300.11" width="5.85" height="12.89" fill="#e8702a"/>
<rect x="420.11" y="312.4" width="6.45" height="12.89" fill="#204f82"/>
<rect x="425.91" y="312.4" width="6.45" height="12.89" fill="#204f82"/>
<rect x="431.72" y="312.4" width="6.45" height="12.89" fill="#255d93"/>
<rect x="437.52" y="312.4" width="6.45" height="12.89" fill="#2a6da6"/>
<rect x="443.32" y="312.4" width="6.45" height="12.89" fill="#3790cc"/>
<rect x="449.13" y="312.4" width="6.45" height="12.89" fill="#3ea1da"/>
<rect x="454.94" y="312.4" width="6.45" height="12.89" fill="#46b2e8"/>
<rect x="460.74" y="312.4" width="6.45" height="12.89" fill="#46b2e8"/>
<rect x="466.55" y="312.4" width="6.45" height="12.89" fill="#46b2e8"/>
<rect x="472.35" y="312.4" width="6.45" height="12.89" fill="#3790cc"/>
<rect x="478.16" y="312.4" width="6.45" height="12.89" fill="#3180bd"/>
<rect x="483.96" y="312.4" width="6.45" height="12.89" fill="#2b70ab"/>
<rect x="489.76" y="312.4" width="6.45" height="12.89" fill="#204f82"/>
<rect x="495.57" y="312.4" width="6.45" height="12.89" fill="#255d93"/>
<rect x="501.38" y="312.4" width="6.45" height="12.89" fill="#1e4677"/>
<rect x="507.18" y="312.4" width="6.45" height="12.89" fill="#192d58"/>
<rect x="512.99" y="312.4" width="6.45" height="12.89" fill="#182852"/>
<rect x="518.79" y="312.4" width="6.45" height="12.89" fill="#161e44"/>
<rect x="524.6" y="312.4" width="6.45" height="12.89" fill="#242248"/>
<rect x="530.4" y="312.4" width="6.45" height="12.89" fill="#31254d"/>
<rect x="536.21" y="312.4" width="6.45" height="12.89" fill="#542b4d"/>
<rect x="542.01" y="312.4" width="6.45" height="12.89" fill="#632e4a"/>
<rect x="547.82" y="312.4" width="6.45" height="12.89" fill="#723048"/>
<rect x="553.62" y="312.4" width="6.45" height="12.89" fill="#8a3443"/>
<rect x="559.42" y="312.4" width="6.45" height="12.89" fill="#b03a3a"/>
<rect x="565.23" y="312.4" width="6.45" height="12.89" fill="#d7412f"/>
<rect x="571.04" y="312.4" width="6.45" height="12.89" fill="#e94b2a"/>
<rect x="576.84" y="312.4" width="6.45" height="12.89" fill="#ea4d2a"/>
<rect x="582.64" y="312.4" width="6.45" height="12.89" fill="#ea502a"/>
<rect x="588.45" y="312.4" width="6.45" height="12.89" fill="#ea532a"/>
<rect x="594.25" y="312.4" width="6.45" height="12.89" fill="#e9562a"/>
<rect x="600.06" y="312.4" width="6.45" height="12.89" fill="#e9582a"/>
<rect x="605.87" y="312.4" width="6.45" height="12.89" fill="#e95b2a"/>
<rect x="611.67" y="312.4" width="6.45" height="12.89" fill="#e95e2a"/>
<rect x="617.48" y="312.4" width="6.45" height="12.89" fill="#e9612a"/>
<rect x="623.28" y="312.4" width="6.45" height="12.89" fill="#e9642a"/>
<rect x="629.09" y="312.4" width="6.45" height="12.89" fill="#e9662a"/>
<rect x="634.89" y="312.4" width="6.45" height="12.89" fill="#e8692a"/>
<rect x="640.7" y="312.4" width="5.85" height="12.89" fill="#e86c2a"/>
<rect x="420.11" y="324.69" width="6.45" height="12.89" fill="#204f82"/>
<rect x="425.91" y="324.69" width="6.45" height="12.89" fill="#23598e"/>
<rect x="431.72" y="324.69" width="6.45" height="12.89" fill="#1c3d6d"/>
<rect x="437.52" y="324.69" width="6.45" height="12.89" fill="#23598e"/>
<rect x="443.32" y="324.69" width="6.45" height="12.89" fill="#2b70ab"/>
<rect x="449.13" y="324.69" width="6.45" height="12.89" fill="#348ac7"/>
<rect x="454.94" y="324.69" width="6.45" height="12.89" fill="#3ea1da"/>
<rect x="460.74" y="324.69" width="6.45" height="12.89" fill="#46b2e8"/>
<rect x="466.55" y="324.69" width="6.45" height="12.89" fill="#46b2e8"/>
<rect x="472.35" y="324.69" width="6.45" height="12.89" fill="#3892ce"/>
<rect x="478.16" y="324.69" width="6.45" height="12.89" fill="#368dc9"/>
<rect x="483.96" y="324.69" width="6.45" height="12.89" fill="#3180bd"/>
<rect x="489.76" y="324.69" width="6.45" height="12.89" fill="#2969a1"/>
<rect x="495.57" y="324.69" width="6.45" height="12.89" fill="#255d93"/>
<rect x="501.38" y="324.69" width="6.45" height="12.89" fill="#23598e"/>
<rect x="507.18" y="324.69" width="6.45" height="12.89" fill="#1e4677"/>
<rect x="512.99" y="324.69" width="6.45" height="12.89" fill="#1b3866"/>
<rect x="518.79" y="324.69" width="6.45" height="12.89" fill="#192d58"/>
<rect x="524.6" y="324.69" width="6.45" height="12.89" fill="#182852"/>
<rect x="530.4" y="324.69" width="6.45" height="12.89" fill="#161e44"/>
<rect x="536.21" y="324.69" width="6.45" height="12.89" fill="#242248"/>
<rect x="542.01" y="324.69" width="6.45" height="12.89" fill="#31254d"/>
<rect x="547.82" y="324.69" width="6.45" height="12.89" fill="#40294f"/>
<rect x="553.62" y="324.69" width="6.45" height="12.89" fill="#542b4d"/>
<rect x="559.42" y="324.69" width="6.45" height="12.89" fill="#723048"/>
<rect x="565.23" y="324.69" width="6.45" height="12.89" fill="#8a3443"/>
<rect x="571.04" y="324.69" width="6.45" height="12.89" fill="#b83b38"/>
<rect x="576.84" y="324.69" width="6.45" height="12.89" fill="#c43e35"/>
<rect x="582.64" y="324.69" width="6.45" height="12.89" fill="#cf4031"/>
<rect x="588.45" y="324.69" width="6.45" height="12.89" fill="#e2462c"/>
<rect x="594.25" y="324.69" width="6.45" height="12.89" fill="#e94b2a"/>
<rect x="600.06" y="324.69" width="6.45" height="12.89" fill="#e94b2a"/>
<rect x="605.87" y="324.69" width="6.45" height="12.89" fill="#ea4f2a"/>
<rect x="611.67" y="324.69" width="6.45" height="12.89" fill="#ea532a"/>
<rect x="617.48" y="324.69" width="6.45" height="12.89" fill="#e9572a"/>
<rect x="623.28" y="324.69" width="6.45" height="12.89" fill="#e95b2a"/>
<rect x="629.09" y="324.69" width="6.45" height="12.89" fill="#e9602a"/>
<rect x="634.89" y="324.69" width="6.45" height="12.89" fill="#e9642a"/>
<rect x="640.7" y="324.69" width="5.85" height="12.89" fill="#e9682a"/>
<rect x="420.11" y="336.97" width="6.45" height="12.89" fill="#204f82"/>
<rect x="425.91" y="336.97" width="6.45" height="12.89" fill="#23598e"/>
<rect x="431.72" y="336.97" width="6.45" height="12.89" fill="#1d4070"/>
<rect x="437.52" y="336.97" width="6.45" height="12.89" fill="#1d4070"/>
<rect x="443.32" y="336.97" width="6.45" height="12.89" fill="#23598e"/>
<rect x="449.13" y="336.97" width="6.45" height="12.89" fill="#3180bd"/>
<rect x="454.94" y="336.97" width="6.45" height="12.89" fill="#348ac7"/>
<rect x="460.74" y="336.97" width="6.45" height="12.89" fill="#3ea1da"/>
<rect x="466.55" y="336.97" width="6.45" height="12.89" fill="#46b2e8"/>
<rect x="472.35" y="336.97" width="6.45" height="12.89" fill="#41a6de"/>
<rect x="478.16" y="336.97" width="6.45" height="12.89" fill="#3892ce"/>
<rect x="483.96" y="336.97" width="6.45" height="12.89" fill="#368dc9"/>
<rect x="489.76" y="336.97" width="6.45" height="12.89" fill="#2f7cb9"/>
<rect x="495.57" y="336.97" width="6.45" height="12.89" fill="#2969a1"/>
<rect x="501.38" y="336.97" width="6.45" height="12.89" fill="#255d93"/>
<rect x="507.18" y="336.97" width="6.45" height="12.89" fill="#255d93"/>
<rect x="512.99" y="336.97" width="6.45" height="12.89" fill="#204c7e"/>
<rect x="518.79" y="336.97" width="6.45" height="12.89" fill="#1c3d6d"/>
<rect x="524.6" y="336.97" width="6.45" height="12.89" fill="#192d58"/>
<rect x="530.4" y="336.97" width="6.45" height="12.89" fill="#182852"/>
<rect x="536.21" y="336.97" width="6.45" height="12.89" fill="#161e44"/>
<rect x="542.01" y="336.97" width="6.45" height="12.89" fill="#1d2046"/>
<rect x="547.82" y="336.97" width="6.45" height="12.89" fill="#242248"/>
<rect x="553.62" y="336.97" width="6.45" height="12.89" fill="#31254d"/>
<rect x="559.42" y="336.97" width="6.45" height="12.89" fill="#40294f"/>
<rect x="565.23" y="336.97" width="6.45" height="12.89" fill="#542b4d"/>
<rect x="571.04" y="336.97" width="6.45" height="12.89" fill="#542b4d"/>
<rect x="576.84" y="336.97" width="6.45" height="12.89" fill="#632e4a"/>
<rect x="582.64" y="336.97" width="6.45" height="12.89" fill="#723048"/>
<rect x="588.45" y="336.97" width="6.45" height="12.89" fill="#8a3443"/>
<rect x="594.25" y="336.97" width="6.45" height="12.89" fill="#9d373e"/>
<rect x="600.06" y="336.97" width="6.45" height="12.89" fill="#b83b38"/>
<rect x="605.87" y="336.97" width="6.45" height="12.89" fill="#d7412f"/>
<rect x="611.67" y="336.97" width="6.45" height="12.89" fill="#e94b2a"/>
<rect x="617.48" y="336.97" width="6.45" height="12.89" fill="#e94b2a"/>
<rect x="623.28" y="336.97" width="6.45" height="12.89" fill="#e94b2a"/>
<rect x="629.09" y="336.97" width="6.45" height="12.89" fill="#ea4e2a"/>
<rect x="634.89" y="336.97" width="6.45" height="12.89" fill="#ea522a"/>
<rect x="640.7" y="336.97" width="5.85" height="12.89" fill="#ea542a"/>
<rect x="420.11" y="349.26" width="6.45" height="12.89" fill="#23598e"/>
<rect x="425.91" y="349.26" width="6.45" height="12.89" fill="#23598e"/>
<rect x="431.72" y="349.26" width="6.45" height="12.89" fill="#23598e"/>
<rect x="437.52" y="349.26" width="6.45" height="12.89" fill="#1c3d6d"/>
<rect x="443.32" y="349.26" width="6.45" height="12.89" fill="#1d4070"/>
<rect x="449.13" y="349.26" width="6.45" height="12.89" fill="#2a6da6"/>
<rect x="454.94" y="349.26" width="6.45" height="12.89" fill="#348ac7"/>
<rect x="460.74" y="349.26" width="6.45" height="12.89" fill="#3790cc"/>
<rect x="466.55" y="349.26" width="6.45" height="12.89" fill="#3ea1da"/>
<rect x="472.35" y="349.26" width="6.45" height="12.89" fill="#46b2e8"/>
<rect x="478.16" y="349.26" width="6.45" height="12.89" fill="#41a6de"/>
<rect x="483.96" y="349.26" width="6.45" height="12.89" fill="#3892ce"/>
<rect x="489.76" y="349.26" width="6.45" height="12.89" fill="#368dc9"/>
<rect x="495.57" y="349.26" width="6.45" height="12.89" fill="#2969a1"/>
<rect x="501.38" y="349.26" width="6.45" height="12.89" fill="#255d93"/>
<rect x="507.18" y="349.26" width="6.45" height="12.89" fill="#255d93"/>
<rect x="512.99" y="349.26" width="6.45" height="12.89" fill="#2a6da6"/>
<rect x="518.79" y="349.26" width="6.45" height="12.89" fill="#2969a1"/>
<rect x="524.6" y="349.26" width="6.45" height="12.89" fill="#255d93"/>
<rect x="530.4" y="349.26" width="6.45" height="12.89" fill="#204c7e"/>
<rect x="536.21" y="349.26" width="6.45" height="12.89" fill="#1b3866"/>
<rect x="542.01" y="349.26" width="6.45" height="12.89" fill="#192d58"/>
<rect x="547.82" y="349.26" width="6.45" height="12.89" fill="#182852"/>
<rect x="553.62" y="349.26" width="6.45" height="12.89" fill="#161e44"/>
<rect x="559.42" y="349.26" width="6.45" height="12.89" fill="#1d2046"/>
<rect x="565.23" y="349.26" width="6.45" height="12.89" fill="#242248"/>
<rect x="571.04" y="349.26" width="6.45" height="12.89" fill="#242248"/>
<rect x="576.84" y="349.26" width="6.45" height="12.89" fill="#31254d"/>
<rect x="582.64" y="349.26" width="6.45" height="12.89" fill="#40294f"/>
<rect x="588.45" y="349.26" width="6.45" height="12.89" fill="#542b4d"/>
<rect x="594.25" y="349.26" width="6.45" height="12.89" fill="#632e4a"/>
<rect x="600.06" y="349.26" width="6.45" height="12.89" fill="#723048"/>
<rect x="605.87" y="349.26" width="6.45" height="12.89" fill="#8a3443"/>
<rect x="611.67" y="349.26" width="6.45" height="12.89" fill="#9d373e"/>
<rect x="617.48" y="349.26" width="6.45" height="12.89" fill="#b03a3a"/>
<rect x="623.28" y="349.26" width="6.45" height="12.89" fill="#c43e35"/>
<rect x="629.09" y="349.26" width="6.45" height="12.89" fill="#d7412f"/>
<rect x="634.89" y="349.26" width="6.45" height="12.89" fill="#e2462c"/>
<rect x="640.7" y="349.26" width="5.85" height="12.89" fill="#e94b2a"/>
<rect x="420.11" y="361.55" width="6.45" height="12.89" fill="#2969a1"/>
<rect x="425.91" y="361.55" width="6.45" height="12.89" fill="#2969a1"/>
<rect x="431.72" y="361.55" width="6.45" height="12.89" fill="#2969a1"/>
<rect x="437.52" y="361.55" width="6.45" height="12.89" fill="#23598e"/>
<rect x="443.32" y="361.55" width="6.45" height="12.89" fill="#1e4677"/>
<rect x="449.13" y="361.55" width="6.45" height="12.89" fill="#23598e"/>
<rect x="454.94" y="361.55" width="6.45" height="12.89" fill="#368dc9"/>
<rect x="460.74" y="361.55" width="6.45" height="12.89" fill="#3790cc"/>
<rect x="466.55" y="361.55" width="6.45" height="12.89" fill="#3892ce"/>
<rect x="472.35" y="361.55" width="6.45" height="12.89" fill="#3ea1da"/>
<rect x="478.16" y="361.55" width="6.45" height="12.89" fill="#3ea1da"/>
<rect x="483.96" y="361.55" width="6.45" height="12.89" fill="#3ea1da"/>
<rect x="489.76" y="361.55" width="6.45" height="12.89" fill="#3892ce"/>
<rect x="495.57" y="361.55" width="6.45" height="12.89" fill="#3284c2"/>
<rect x="501.38" y="361.55" width="6.45" height="12.89" fill="#2a6da6"/>
<rect x="507.18" y="361.55" width="6.45" height="12.89" fill="#23598e"/>
<rect x="512.99" y="361.55" width="6.45" height="12.89" fill="#255d93"/>
<rect x="518.79" y="361.55" width="6.45" height="12.89" fill="#2969a1"/>
<rect x="524.6" y="361.55" width="6.45" height="12.89" fill="#2969a1"/>
<rect x="530.4" y="361.55" width="6.45" height="12.89" fill="#2969a1"/>
<rect x="536.21" y="361.55" width="6.45" height="12.89" fill="#2969a1"/>
<rect x="542.01" y="361.55" width="6.45" height="12.89" fill="#23598e"/>
<rect x="547.82" y="361.55" width="6.45" height="12.89" fill="#23598e"/>
<rect x="553.62" y="361.55" width="6.45" height="12.89" fill="#204c7e"/>
<rect x="559.42" y="361.55" width="6.45" height="12.89" fill="#1e4677"/>
<rect x="565.23" y="361.55" width="6.45" height="12.89" fill="#1c3d6d"/>
<rect x="571.04" y="361.55" width="6.45" height="12.89" fill="#1a325f"/>
<rect x="576.84" y="361.55" width="6.45" height="12.89" fill="#182852"/>
<rect x="582.64" y="361.55" width="6.45" height="12.89" fill="#161e44"/>
<rect x="588.45" y="361.55" width="6.45" height="12.89" fill="#1d2046"/>
<rect x="594.25" y="361.55" width="6.45" height="12.89" fill="#31254d"/>
<rect x="600.06" y="361.55" width="6.45" height="12.89" fill="#40294f"/>
<rect x="605.87" y="361.55" width="6.45" height="12.89" fill="#4a2a4e"/>
<rect x="611.67" y="361.55" width="6.45" height="12.89" fill="#542b4d"/>
<rect x="617.48" y="361.55" width="6.45" height="12.89" fill="#542b4d"/>
<rect x="623.28" y="361.55" width="6.45" height="12.89" fill="#632e4a"/>
<rect x="629.09" y="361.55" width="6.45" height="12.89" fill="#723048"/>
<rect x="634.89" y="361.55" width="6.45" height="12.89" fill="#8a3443"/>
<rect x="640.7" y="361.55" width="5.85" height="12.89" fill="#b03a3a"/>
<rect x="420.11" y="373.84" width="6.45" height="12.89" fill="#2a6da6"/>
<rect x="425.91" y="373.84" width="6.45" height="12.89" fill="#3284c2"/>
<rect x="431.72" y="373.84" width="6.45" height="12.89" fill="#3284c2"/>
<rect x="437.52" y="373.84" width="6.45" height="12.89" fill="#3284c2"/>
<rect x="443.32" y="373.84" width="6.45" height="12.89" fill="#2a6da6"/>
<rect x="449.13" y="373.84" width="6.45" height="12.89" fill="#23598e"/>
<rect x="454.94" y="373.84" width="6.45" height="12.89" fill="#2f7cb9"/>
<rect x="460.74" y="373.84" width="6.45" height="12.89" fill="#255d93"/>
<rect x="466.55" y="373.84" width="6.45" height="12.89" fill="#255d93"/>
<rect x="472.35" y="373.84" width="6.45" height="12.89" fill="#2f7cb9"/>
<rect x="478.16" y="373.84" width="6.45" height="12.89" fill="#3284c2"/>
<rect x="483.96" y="373.84" width="6.45" height="12.89" fill="#3284c2"/>
<rect x="489.76" y="373.84" width="6.45" height="12.89" fill="#3284c2"/>
<rect x="495.57" y="373.84" width="6.45" height="12.89" fill="#3284c2"/>
<rect x="501.38" y="373.84" width="6.45" height="12.89" fill="#2969a1"/>
<rect x="507.18" y="373.84" width="6.45" height="12.89" fill="#1c3d6d"/>
<rect x="512.99" y="373.84" width="6.45" height="12.89" fill="#1b3866"/>
<rect x="518.79" y="373.84" width="6.45" height="12.89" fill="#1a325f"/>
<rect x="524.6" y="373.84" width="6.45" height="12.89" fill="#1e4677"/>
<rect x="530.4" y="373.84" width="6.45" height="12.89" fill="#23598e"/>
<rect x="536.21" y="373.84" width="6.45" height="12.89" fill="#23598e"/>
<rect x="542.01" y="373.84" width="6.45" height="12.89" fill="#2969a1"/>
<rect x="547.82" y="373.84" width="6.45" height="12.89" fill="#2f7cb9"/>
<rect x="553.62" y="373.84" width="6.45" height="12.89" fill="#3284c2"/>
<rect x="559.42" y="373.84" width="6.45" height="12.89" fill="#3284c2"/>
<rect x="565.23" y="373.84" width="6.45" height="12.89" fill="#3284c2"/>
<rect x="571.04" y="373.84" width="6.45" height="12.89" fill="#3284c2"/>
<rect x="576.84" y="373.84" width="6.45" height="12.89" fill="#2a6da6"/>
<rect x="582.64" y="373.84" width="6.45" height="12.89" fill="#2a6da6"/>
<rect x="588.45" y="373.84" width="6.45" height="12.89" fill="#2a6da6"/>
<rect x="594.25" y="373.84" width="6.45" height="12.89" fill="#204c7e"/>
<rect x="600.06" y="373.84" width="6.45" height="12.89" fill="#1b3866"/>
<rect x="605.87" y="373.84" width="6.45" height="12.89" fill="#192d58"/>
<rect x="611.67" y="373.84" width="6.45" height="12.89" fill="#182852"/>
<rect x="617.48" y="373.84" width="6.45" height="12.89" fill="#161e44"/>
<rect x="623.28" y="373.84" width="6.45" height="12.89" fill="#161e44"/>
<rect x="629.09" y="373.84" width="6.45" height="12.89" fill="#182852"/>
<rect x="634.89" y="373.84" width="6.45" height="12.89" fill="#161e44"/>
<rect x="640.7" y="373.84" width="5.85" height="12.89" fill="#31254d"/>
<rect x="420.11" y="386.12" width="6.45" height="12.89" fill="#368dc9"/>
<rect x="425.91" y="386.12" width="6.45" height="12.89" fill="#368dc9"/>
<rect x="431.72" y="386.12" width="6.45" height="12.89" fill="#2f7cb9"/>
<rect x="437.52" y="386.12" width="6.45" height="12.89" fill="#2f7cb9"/>
<rect x="443.32" y="386.12" width="6.45" height="12.89" fill="#2969a1"/>
<rect x="449.13" y="386.12" width="6.45" height="12.89" fill="#23598e"/>
<rect x="454.94" y="386.12" width="6.45" height="12.89" fill="#1b3866"/>
<rect x="460.74" y="386.12" width="6.45" height="12.89" fill="#192d58"/>
<rect x="466.55" y="386.12" width="6.45" height="12.89" fill="#192d58"/>
<rect x="472.35" y="386.12" width="6.45" height="12.89" fill="#192d58"/>
<rect x="478.16" y="386.12" width="6.45" height="12.89" fill="#1b3866"/>
<rect x="483.96" y="386.12" width="6.45" height="12.89" fill="#1e4677"/>
<rect x="489.76" y="386.12" width="6.45" height="12.89" fill="#1e4677"/>
<rect x="495.57" y="386.12" width="6.45" height="12.89" fill="#204c7e"/>
<rect x="501.38" y="386.12" width="6.45" height="12.89" fill="#1b3866"/>
<rect x="507.18" y="386.12" width="6.45" height="12.89" fill="#161e44"/>
<rect x="512.99" y="386.12" width="6.45" height="12.89" fill="#1d2046"/>
<rect x="518.79" y="386.12" width="6.45" height="12.89" fill="#242248"/>
<rect x="524.6" y="386.12" width="6.45" height="12.89" fill="#1d2046"/>
<rect x="530.4" y="386.12" width="6.45" height="12.89" fill="#161e44"/>
<rect x="536.21" y="386.12" width="6.45" height="12.89" fill="#161e44"/>
<rect x="542.01" y="386.12" width="6.45" height="12.89" fill="#1a325f"/>
<rect x="547.82" y="386.12" width="6.45" height="12.89" fill="#1c3d6d"/>
<rect x="553.62" y="386.12" width="6.45" height="12.89" fill="#204c7e"/>
<rect x="559.42" y="386.12" width="6.45" height="12.89" fill="#23598e"/>
<rect x="565.23" y="386.12" width="6.45" height="12.89" fill="#23598e"/>
<rect x="571.04" y="386.12" width="6.45" height="12.89" fill="#3284c2"/>
<rect x="576.84" y="386.12" width="6.45" height="12.89" fill="#3892ce"/>
<rect x="582.64" y="386.12" width="6.45" height="12.89" fill="#3892ce"/>
<rect x="588.45" y="386.12" width="6.45" height="12.89" fill="#3892ce"/>
<rect x="594.25" y="386.12" width="6.45" height="12.89" fill="#3892ce"/>
<rect x="600.06" y="386.12" width="6.45" height="12.89" fill="#3892ce"/>
<rect x="605.87" y="386.12" width="6.45" height="12.89" fill="#3892ce"/>
<rect x="611.67" y="386.12" width="6.45" height="12.89" fill="#3892ce"/>
<rect x="617.48" y="386.12" width="6.45" height="12.89" fill="#3892ce"/>
<rect x="623.28" y="386.12" width="6.45" height="12.89" fill="#3284c2"/>
<rect x="629.09" y="386.12" width="6.45" height="12.89" fill="#41a6de"/>
<rect x="634.89" y="386.12" width="6.45" height="12.89" fill="#3892ce"/>
<rect x="640.7" y="386.12" width="5.85" height="12.89" fill="#255d93"/>
<rect x="420.11" y="398.41" width="6.45" height="6.14" fill="#368dc9"/>
<rect x="425.91" y="398.41" width="6.45" height="6.14" fill="#2f7cb9"/>
<rect x="431.72" y="398.41" width="6.45" height="6.14" fill="#255d93"/>
<rect x="437.52" y="398.41" width="6.45" height="6.14" fill="#1b3866"/>
<rect x="443.32" y="398.41" width="6.45" height="6.14" fill="#1b3866"/>
<rect x="449.13" y="398.41" width="6.45" height="6.14" fill="#192d58"/>
<rect x="454.94" y="398.41" width="6.45" height="6.14" fill="#1d2046"/>
<rect x="460.74" y="398.41" width="6.45" height="6.14" fill="#1d2046"/>
<rect x="466.55" y="398.41" width="6.45" height="6.14" fill="#31254d"/>
<rect x="472.35" y="398.41" width="6.45" height="6.14" fill="#31254d"/>
<rect x="478.16" y="398.41" width="6.45" height="6.14" fill="#31254d"/>
<rect x="483.96" y="398.41" width="6.45" height="6.14" fill="#31254d"/>
<rect x="489.76" y="398.41" width="6.45" height="6.14" fill="#31254d"/>
<rect x="495.57" y="398.41" width="6.45" height="6.14" fill="#40294f"/>
<rect x="501.38" y="398.41" width="6.45" height="6.14" fill="#542b4d"/>
<rect x="507.18" y="398.41" width="6.45" height="6.14" fill="#843344"/>
<rect x="512.99" y="398.41" width="6.45" height="6.14" fill="#b03a3a"/>
<rect x="518.79" y="398.41" width="6.45" height="6.14" fill="#bc3c37"/>
<rect x="524.6" y="398.41" width="6.45" height="6.14" fill="#c43e35"/>
<rect x="530.4" y="398.41" width="6.45" height="6.14" fill="#cf4031"/>
<rect x="536.21" y="398.41" width="6.45" height="6.14" fill="#bc3c37"/>
<rect x="542.01" y="398.41" width="6.45" height="6.14" fill="#913541"/>
<rect x="547.82" y="398.41" width="6.45" height="6.14" fill="#632e4a"/>
<rect x="553.62" y="398.41" width="6.45" height="6.14" fill="#542b4d"/>
<rect x="559.42" y="398.41" width="6.45" height="6.14" fill="#40294f"/>
<rect x="565.23" y="398.41" width="6.45" height="6.14" fill="#31254d"/>
<rect x="571.04" y="398.41" width="6.45" height="6.14" fill="#31254d"/>
<rect x="576.84" y="398.41" width="6.45" height="6.14" fill="#242248"/>
<rect x="582.64" y="398.41" width="6.45" height="6.14" fill="#192d58"/>
<rect x="588.45" y="398.41" width="6.45" height="6.14" fill="#1a325f"/>
<rect x="594.25" y="398.41" width="6.45" height="6.14" fill="#1e4677"/>
<rect x="600.06" y="398.41" width="6.45" height="6.14" fill="#23598e"/>
<rect x="605.87" y="398.41" width="6.45" height="6.14" fill="#2969a1"/>
<rect x="611.67" y="398.41" width="6.45" height="6.14" fill="#2f7cb9"/>
<rect x="617.48" y="398.41" width="6.45" height="6.14" fill="#3284c2"/>
<rect x="623.28" y="398.41" width="6.45" height="6.14" fill="#3284c2"/>
<rect x="629.09" y="398.41" width="6.45" height="6.14" fill="#3284c2"/>
<rect x="634.89" y="398.41" width="6.45" height="6.14" fill="#3284c2"/>
<rect x="640.7" y="398.41" width="5.85" height="6.14" fill="#3284c2"/>
<polyline points="458.42,200.52 459.39,209.5 460.37,217.92 461.34,225.83 462.32,233.25 463.29,240.24 464.26,246.82 465.24,253.03 466.21,258.9 467.19,264.44 468.16,269.68 469.14,274.65 470.11,279.36 471.08,283.83 472.06,288.07 473.03,292.1 474.01,295.94 474.98,299.6 475.96,303.08 476.93,306.41 477.9,309.58 478.88,312.6 479.85,315.5 480.83,318.27 481.8,320.92 482.78,323.45 483.75,325.88 484.72,328.21 485.7,330.45 486.67,332.6 487.65,334.66 488.62,336.64 489.6,338.54 490.57,340.37 491.54,342.14 492.52,343.83 493.49,345.47 494.47,347.05 495.44,348.56 496.42,350.03 497.39,351.45 498.36,352.81 499.34,354.13 500.31,355.4 501.29,356.64 502.26,357.83 503.24,358.98 504.21,360.09 505.18,361.17 506.16,362.22 507.13,363.23 508.11,364.21 509.08,365.16 510.06,366.08 511.03,366.98 512,367.85 512.98,368.69 513.95,369.51 514.93,370.3 515.9,371.07 516.88,371.82 517.85,372.55 518.83,373.26 519.8,373.94 520.77,374.61 521.75,375.27 522.72,375.9 523.7,376.52 524.67,377.12 525.65,377.7 526.62,378.27 527.59,378.83 528.57,379.37 529.54,379.9 530.52,380.41 531.49,380.91 532.47,381.4 533.44,381.88 534.41,382.34 535.39,382.8 536.36,383.24 537.34,383.68 538.31,384.1 539.29,384.51 540.26,384.92 541.23,385.31 542.21,385.69 543.18,386.07 544.16,386.44 545.13,386.8 546.11,387.15 547.08,387.5 548.05,387.83 549.03,388.16 550,388.48 550.98,388.8 551.95,389.11 552.93,389.41 553.9,389.71 554.87,390 555.85,390.28 556.82,390.56 557.8,390.83 558.77,391.1 559.75,391.36 560.72,391.62 561.69,391.87 562.67,392.12 563.64,392.36 564.62,392.59 565.59,392.83 566.57,393.06 567.54,393.28 568.51,393.5 569.49,393.71 570.46,393.92 571.44,394.13 572.41,394.34 573.39,394.54 574.36,394.73 575.33,394.92 576.31,395.11 577.28,395.3 578.26,395.48 579.23,395.66 580.21,395.84 581.18,396.01 582.15,396.18 583.13,396.35 584.1,396.51 585.08,396.67 586.05,396.83 587.03,396.99 588,397.14 588.98,397.29 589.95,397.44 590.92,397.59 591.9,397.73 592.87,397.87 593.85,398.01 594.82,398.15 595.8,398.28 596.77,398.41 597.74,398.54 598.72,398.67 599.69,398.8 600.67,398.92 601.64,399.04 602.62,399.16 603.59,399.28 604.56,399.4 605.54,399.51 606.51,399.63 607.49,399.74 608.46,399.85 609.44,399.96 610.41,400.06 611.38,400.17 612.36,400.27 613.33,400.37 614.31,400.47 615.28,400.57 616.26,400.67 617.23,400.77 618.2,400.86 619.18,400.95 620.15,401.05 621.13,401.14 622.1,401.23 623.08,401.31 624.05,401.4 625.02,401.49 626,401.57 626.97,401.66 627.95,401.74 628.92,401.82 629.9,401.9 630.87,401.98 631.84,402.06 632.82,402.13 633.79,402.21 634.77,402.28 635.74,402.36 636.72,402.43 637.69,402.5 638.66,402.57 639.64,402.64 640.61,402.71 641.59,402.78 642.56,402.85 643.54,402.92 644.51,402.98 645.48,403.05 646.46,403.11 647.43,403.17 648.41,403.24 649.38,403.3 650.36,403.36 651.33,403.42 652.3,403.48" fill="none" stroke="#fff" stroke-width="1.5" />
<circle cx="460.16" cy="215.57" r="2.8" fill="#fff"/>
<circle cx="460.16" cy="238.18" r="2.8" fill="#fff"/>
<circle cx="465.96" cy="263.25" r="2.8" fill="#fff"/>
<circle cx="472.35" cy="287.82" r="2.8" fill="#fff"/>
<circle cx="478.16" cy="312.4" r="2.8" fill="#fff"/>
<circle cx="489.18" cy="336.98" r="2.8" fill="#fff"/>
<circle cx="512.99" cy="361.55" r="2.8" fill="#fff"/>
<circle cx="565.81" cy="386.62" r="2.8" fill="#fff"/>
</g>
<rect x="414.3" y="214.1" width="232.2" height="196.6" fill="none" stroke="#000" stroke-width="1.3" />
<line x1="443.32" y1="410.7" x2="443.32" y2="408.2" stroke="#000" stroke-width="1.1" />
<line x1="472.35" y1="410.7" x2="472.35" y2="406.2" stroke="#000" stroke-width="1.1" />
<line x1="501.38" y1="410.7" x2="501.38" y2="408.2" stroke="#000" stroke-width="1.1" />
<line x1="530.4" y1="410.7" x2="530.4" y2="406.2" stroke="#000" stroke-width="1.1" />
<line x1="559.42" y1="410.7" x2="559.42" y2="408.2" stroke="#000" stroke-width="1.1" />
<line x1="588.45" y1="410.7" x2="588.45" y2="406.2" stroke="#000" stroke-width="1.1" />
<line x1="617.48" y1="410.7" x2="617.48" y2="408.2" stroke="#000" stroke-width="1.1" />
<line x1="414.3" y1="386.12" x2="416.8" y2="386.12" stroke="#000" stroke-width="1.1" />
<line x1="414.3" y1="361.55" x2="418.8" y2="361.55" stroke="#000" stroke-width="1.1" />
<line x1="414.3" y1="336.97" x2="416.8" y2="336.97" stroke="#000" stroke-width="1.1" />
<line x1="414.3" y1="312.4" x2="418.8" y2="312.4" stroke="#000" stroke-width="1.1" />
<line x1="414.3" y1="287.82" x2="416.8" y2="287.82" stroke="#000" stroke-width="1.1" />
<line x1="414.3" y1="263.25" x2="418.8" y2="263.25" stroke="#000" stroke-width="1.1" />
<line x1="414.3" y1="238.67" x2="416.8" y2="238.67" stroke="#000" stroke-width="1.1" />
<text x="414.3" y="423.3" font-family="Liberation Serif" font-size="13.5" fill="#000" text-anchor="middle" >0</text>
<text x="472.35" y="423.3" font-family="Liberation Serif" font-size="13.5" fill="#000" text-anchor="middle" >1</text>
<text x="530.4" y="423.3" font-family="Liberation Serif" font-size="13.5" fill="#000" text-anchor="middle" >2</text>
<text x="588.45" y="423.3" font-family="Liberation Serif" font-size="13.5" fill="#000" text-anchor="middle" >3</text>
<text x="646.5" y="423.3" font-family="Liberation Serif" font-size="13.5" fill="#000" text-anchor="middle" >4</text>
<text x="409.8" y="414.7" font-family="Liberation Serif" font-size="13.5" fill="#000" text-anchor="end" >0.0</text>
<text x="409.8" y="365.55" font-family="Liberation Serif" font-size="13.5" fill="#000" text-anchor="end" >0.1</text>
<text x="409.8" y="316.4" font-family="Liberation Serif" font-size="13.5" fill="#000" text-anchor="end" >0.2</text>
<text x="409.8" y="267.25" font-family="Liberation Serif" font-size="13.5" fill="#000" text-anchor="end" >0.3</text>
<text x="409.8" y="218.1" font-family="Liberation Serif" font-size="13.5" fill="#000" text-anchor="end" >0.4</text>
<text x="529.7" y="443.7" font-family="Liberation Serif" font-size="13.5" fill="#000" text-anchor="middle" textLength="93" lengthAdjust="spacingAndGlyphs" >Interaction <tspan font-style="italic">U</tspan>/<tspan font-style="italic">W</tspan></text>
<text x="380.6" y="312.2" font-family="Liberation Serif" font-size="13.5" fill="#000" text-anchor="middle" textLength="121" lengthAdjust="spacingAndGlyphs" transform="rotate(-90 380.6 312.2)" >Hund exchange <tspan font-style="italic">J</tspan><tspan font-size="9.5" dy="2.5">H</tspan><tspan dy="-2.5">/</tspan><tspan font-style="italic">U</tspan></text>
<text x="373.5" y="212.8" font-family="Liberation Serif" font-size="15" fill="#000" text-anchor="start" font-weight="bold" >D</text>
<defs><linearGradient id="gD" x1="0" x2="1" y1="0" y2="0"><stop offset="0.000" stop-color="#46b2e8"/><stop offset="0.025" stop-color="#41a6de"/><stop offset="0.050" stop-color="#3c9bd5"/><stop offset="0.075" stop-color="#3790cc"/><stop offset="0.100" stop-color="#3284c2"/><stop offset="0.125" stop-color="#2d74af"/><stop offset="0.150" stop-color="#27659c"/><stop offset="0.175" stop-color="#22558a"/><stop offset="0.200" stop-color="#1f497b"/><stop offset="0.225" stop-color="#1c3d6d"/><stop offset="0.250" stop-color="#1a325f"/><stop offset="0.275" stop-color="#182851"/><stop offset="0.300" stop-color="#161e44"/><stop offset="0.325" stop-color="#242248"/><stop offset="0.350" stop-color="#31254d"/><stop offset="0.375" stop-color="#40294f"/><stop offset="0.400" stop-color="#542b4d"/><stop offset="0.425" stop-color="#682e4a"/><stop offset="0.450" stop-color="#7e3246"/><stop offset="0.475" stop-color="#973640"/><stop offset="0.500" stop-color="#b03a3a"/><stop offset="0.525" stop-color="#c03d36"/><stop offset="0.550" stop-color="#cf4031"/><stop offset="0.575" stop-color="#dd432e"/><stop offset="0.600" stop-color="#e3472c"/><stop offset="0.625" stop-color="#e94b2a"/><stop offset="0.650" stop-color="#ea522a"/><stop offset="0.675" stop-color="#e95a2a"/><stop offset="0.700" stop-color="#e9622a"/><stop offset="0.725" stop-color="#e86a2a"/><stop offset="0.750" stop-color="#e8722a"/><stop offset="0.775" stop-color="#e97b2a"/><stop offset="0.800" stop-color="#ea842b"/><stop offset="0.825" stop-color="#eb8d2b"/><stop offset="0.850" stop-color="#ed952c"/><stop offset="0.875" stop-color="#ee9e2c"/><stop offset="0.900" stop-color="#f0a62a"/><stop offset="0.925" stop-color="#f2ae28"/><stop offset="0.950" stop-color="#f5b626"/><stop offset="0.975" stop-color="#f8be24"/><stop offset="1.000" stop-color="#fac622"/></linearGradient></defs>
<rect x="526.9" y="243.4" width="98.8" height="9.8" fill="url(#gD)" stroke="#111" stroke-width="1.1" />
<line x1="539.25" y1="243.4" x2="539.25" y2="245.5" stroke="#111" stroke-width="1" />
<line x1="539.25" y1="251.1" x2="539.25" y2="253.2" stroke="#111" stroke-width="1" />
<line x1="551.6" y1="243.4" x2="551.6" y2="245.5" stroke="#111" stroke-width="1" />
<line x1="551.6" y1="251.1" x2="551.6" y2="253.2" stroke="#111" stroke-width="1" />
<line x1="563.95" y1="243.4" x2="563.95" y2="245.5" stroke="#111" stroke-width="1" />
<line x1="563.95" y1="251.1" x2="563.95" y2="253.2" stroke="#111" stroke-width="1" />
<line x1="576.3" y1="243.4" x2="576.3" y2="245.5" stroke="#111" stroke-width="1" />
<line x1="576.3" y1="251.1" x2="576.3" y2="253.2" stroke="#111" stroke-width="1" />
<line x1="588.65" y1="243.4" x2="588.65" y2="245.5" stroke="#111" stroke-width="1" />
<line x1="588.65" y1="251.1" x2="588.65" y2="253.2" stroke="#111" stroke-width="1" />
<line x1="601" y1="243.4" x2="601" y2="245.5" stroke="#111" stroke-width="1" />
<line x1="601" y1="251.1" x2="601" y2="253.2" stroke="#111" stroke-width="1" />
<line x1="613.35" y1="243.4" x2="613.35" y2="245.5" stroke="#111" stroke-width="1" />
<line x1="613.35" y1="251.1" x2="613.35" y2="253.2" stroke="#111" stroke-width="1" />
<text x="507" y="237.5" font-family="Liberation Serif" font-size="13" fill="#fff" text-anchor="start" textLength="137.5" lengthAdjust="spacingAndGlyphs" >Inverse corr. length 1/<tspan font-style="italic">ξ</tspan><tspan font-size="9.5" dy="2.5">e</tspan></text>
<text x="527.2" y="266.7" font-family="Liberation Serif" font-size="13" fill="#fff" text-anchor="middle" >0.00</text>
<text x="576" y="266.7" font-family="Liberation Serif" font-size="13" fill="#fff" text-anchor="middle" >0.08</text>
<text x="625" y="266.7" font-family="Liberation Serif" font-size="13" fill="#fff" text-anchor="middle" >0.16</text>
<circle cx="535" cy="290.5" r="2.6" fill="#fff"/>
<text x="549.5" y="294.3" font-family="Liberation Serif" font-size="13" fill="#fff" text-anchor="start" textLength="68.5" lengthAdjust="spacingAndGlyphs" >gap opening</text>
<line x1="526.2" y1="311.1" x2="543.9" y2="311.1" stroke="#fff" stroke-width="1.6" />
<text x="550.2" y="315" font-family="Liberation Serif" font-size="13" fill="#fff" text-anchor="start" textLength="58.4" lengthAdjust="spacingAndGlyphs" ><tspan font-style="italic">J</tspan><tspan font-size="9" dy="2">H</tspan><tspan dy="-2"> = </tspan><tspan font-style="italic">t</tspan><tspan font-size="9" dy="-5">2</tspan><tspan dy="5">/</tspan><tspan font-style="italic">U</tspan></text>
</svg></body></html>
